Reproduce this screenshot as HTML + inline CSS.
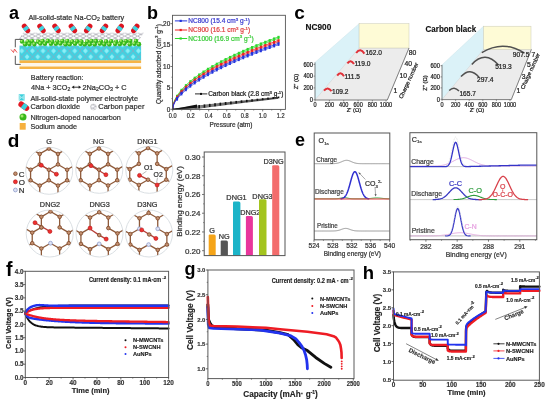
<!DOCTYPE html>
<html><head><meta charset="utf-8"><style>
html,body{margin:0;padding:0;background:#fff;width:550px;height:401px;overflow:hidden}
svg{display:block;filter:blur(0.35px)}
text{font-family:"Liberation Sans", sans-serif}
</style></head><body>
<svg width="550" height="401" viewBox="0 0 550 401">
<rect width="550" height="401" fill="#fff"/>
<text x="9.00" y="19.20" font-size="18" fill="#000" font-weight="bold" >a</text>
<text x="147.00" y="19.40" font-size="18" fill="#000" font-weight="bold" >b</text>
<text x="294.30" y="19.20" font-size="19" fill="#000" font-weight="bold" >c</text>
<text x="7.80" y="147.30" font-size="19" fill="#000" font-weight="bold" >d</text>
<text x="295.00" y="145.50" font-size="18" fill="#000" font-weight="bold" >e</text>
<text x="6.00" y="275.50" font-size="19.5" fill="#000" font-weight="bold" >f</text>
<text x="184.60" y="275.20" font-size="18" fill="#000" font-weight="bold" >g</text>
<text x="362.70" y="279.00" font-size="18.5" fill="#000" font-weight="bold" >h</text>
<text x="28.50" y="19.60" font-size="7.3" fill="#333" stroke="#333" stroke-width="0.22" >All-solid-state Na-CO<tspan font-size="5.2" dy="1.6">2</tspan><tspan dy="-1.6"> battery</tspan></text>
<rect x="19.50" y="60.20" width="121.60" height="2.80" fill="#f6b445" stroke="none" stroke-width="1" />
<rect x="19.50" y="63.00" width="121.60" height="3.50" fill="#fdf6e8" stroke="none" stroke-width="1" />
<rect x="19.50" y="66.50" width="121.60" height="2.50" fill="#f6b445" stroke="none" stroke-width="1" />
<defs><pattern id="dia" x="16.5" y="45.0" width="10.6" height="11.8" patternUnits="userSpaceOnUse"><rect width="10.6" height="11.8" fill="#3dd3e3"/><path d="M5.3,3.3 L7.7,5.9 L5.3,8.5 L2.9,5.9 Z" fill="#8ceef6"/><path d="M0,-2.6 L2.4,0 L0,2.6 L-2.4,0 Z M10.6,-2.6 L13,0 L10.6,2.6 L8.2,0 Z M0,9.2 L2.4,11.8 L0,14.4 L-2.4,11.8 Z M10.6,9.2 L13,11.8 L10.6,14.4 L8.2,11.8 Z" fill="#8ceef6"/><path d="M5.3,0 L10.6,5.9 L5.3,11.8 L0,5.9 Z" fill="none" stroke="#98a4b8" stroke-width="0.7"/></pattern></defs>
<rect x="19.50" y="45.60" width="121.60" height="14.60" fill="url(#dia)" stroke="none" stroke-width="1" />
<defs><pattern id="mesh" x="0" y="32.6" width="6.4" height="3.6" patternUnits="userSpaceOnUse"><rect width="6.4" height="3.6" fill="#ffffff"/><path d="M0,1.8 L3.2,0 L6.4,1.8 L3.2,3.6 Z" fill="none" stroke="#8c8c98" stroke-width="0.6"/></pattern></defs>
<polygon points="23.00,32.80 144.00,32.80 139.00,40.00 18.30,40.00" fill="url(#mesh)" stroke="none" stroke-width="0.5" />
<circle cx="22.12" cy="41.49" r="2.30" fill="#36b81e" stroke="none" stroke-width="0.5" />
<circle cx="21.42" cy="40.79" r="1.05" fill="#a8ee6a" stroke="none" stroke-width="0.5" />
<circle cx="27.68" cy="41.49" r="2.30" fill="#36b81e" stroke="none" stroke-width="0.5" />
<circle cx="26.98" cy="40.79" r="1.05" fill="#a8ee6a" stroke="none" stroke-width="0.5" />
<circle cx="32.10" cy="41.27" r="2.30" fill="#36b81e" stroke="none" stroke-width="0.5" />
<circle cx="31.40" cy="40.57" r="1.05" fill="#a8ee6a" stroke="none" stroke-width="0.5" />
<circle cx="38.08" cy="41.62" r="2.30" fill="#36b81e" stroke="none" stroke-width="0.5" />
<circle cx="37.38" cy="40.92" r="1.05" fill="#a8ee6a" stroke="none" stroke-width="0.5" />
<circle cx="42.59" cy="41.10" r="2.30" fill="#36b81e" stroke="none" stroke-width="0.5" />
<circle cx="41.89" cy="40.40" r="1.05" fill="#a8ee6a" stroke="none" stroke-width="0.5" />
<circle cx="47.73" cy="40.91" r="2.30" fill="#36b81e" stroke="none" stroke-width="0.5" />
<circle cx="47.03" cy="40.21" r="1.05" fill="#a8ee6a" stroke="none" stroke-width="0.5" />
<circle cx="52.21" cy="41.63" r="2.30" fill="#36b81e" stroke="none" stroke-width="0.5" />
<circle cx="51.51" cy="40.93" r="1.05" fill="#a8ee6a" stroke="none" stroke-width="0.5" />
<circle cx="57.30" cy="41.54" r="2.30" fill="#36b81e" stroke="none" stroke-width="0.5" />
<circle cx="56.60" cy="40.84" r="1.05" fill="#a8ee6a" stroke="none" stroke-width="0.5" />
<circle cx="62.47" cy="41.00" r="2.30" fill="#36b81e" stroke="none" stroke-width="0.5" />
<circle cx="61.77" cy="40.30" r="1.05" fill="#a8ee6a" stroke="none" stroke-width="0.5" />
<circle cx="67.32" cy="41.07" r="2.30" fill="#36b81e" stroke="none" stroke-width="0.5" />
<circle cx="66.62" cy="40.37" r="1.05" fill="#a8ee6a" stroke="none" stroke-width="0.5" />
<circle cx="72.21" cy="41.60" r="2.30" fill="#36b81e" stroke="none" stroke-width="0.5" />
<circle cx="71.51" cy="40.90" r="1.05" fill="#a8ee6a" stroke="none" stroke-width="0.5" />
<circle cx="77.02" cy="41.33" r="2.30" fill="#36b81e" stroke="none" stroke-width="0.5" />
<circle cx="76.32" cy="40.63" r="1.05" fill="#a8ee6a" stroke="none" stroke-width="0.5" />
<circle cx="81.40" cy="41.65" r="2.30" fill="#36b81e" stroke="none" stroke-width="0.5" />
<circle cx="80.70" cy="40.95" r="1.05" fill="#a8ee6a" stroke="none" stroke-width="0.5" />
<circle cx="87.32" cy="41.61" r="2.30" fill="#36b81e" stroke="none" stroke-width="0.5" />
<circle cx="86.62" cy="40.91" r="1.05" fill="#a8ee6a" stroke="none" stroke-width="0.5" />
<circle cx="91.55" cy="41.03" r="2.30" fill="#36b81e" stroke="none" stroke-width="0.5" />
<circle cx="90.85" cy="40.33" r="1.05" fill="#a8ee6a" stroke="none" stroke-width="0.5" />
<circle cx="95.97" cy="41.14" r="2.30" fill="#36b81e" stroke="none" stroke-width="0.5" />
<circle cx="95.27" cy="40.44" r="1.05" fill="#a8ee6a" stroke="none" stroke-width="0.5" />
<circle cx="100.99" cy="41.44" r="2.30" fill="#36b81e" stroke="none" stroke-width="0.5" />
<circle cx="100.29" cy="40.74" r="1.05" fill="#a8ee6a" stroke="none" stroke-width="0.5" />
<circle cx="106.17" cy="41.55" r="2.30" fill="#36b81e" stroke="none" stroke-width="0.5" />
<circle cx="105.47" cy="40.85" r="1.05" fill="#a8ee6a" stroke="none" stroke-width="0.5" />
<circle cx="111.16" cy="41.28" r="2.30" fill="#36b81e" stroke="none" stroke-width="0.5" />
<circle cx="110.46" cy="40.58" r="1.05" fill="#a8ee6a" stroke="none" stroke-width="0.5" />
<circle cx="116.07" cy="41.68" r="2.30" fill="#36b81e" stroke="none" stroke-width="0.5" />
<circle cx="115.37" cy="40.98" r="1.05" fill="#a8ee6a" stroke="none" stroke-width="0.5" />
<circle cx="121.38" cy="41.58" r="2.30" fill="#36b81e" stroke="none" stroke-width="0.5" />
<circle cx="120.68" cy="40.88" r="1.05" fill="#a8ee6a" stroke="none" stroke-width="0.5" />
<circle cx="126.03" cy="41.19" r="2.30" fill="#36b81e" stroke="none" stroke-width="0.5" />
<circle cx="125.33" cy="40.49" r="1.05" fill="#a8ee6a" stroke="none" stroke-width="0.5" />
<circle cx="130.31" cy="40.94" r="2.30" fill="#36b81e" stroke="none" stroke-width="0.5" />
<circle cx="129.61" cy="40.24" r="1.05" fill="#a8ee6a" stroke="none" stroke-width="0.5" />
<circle cx="136.00" cy="41.06" r="2.30" fill="#36b81e" stroke="none" stroke-width="0.5" />
<circle cx="135.30" cy="40.36" r="1.05" fill="#a8ee6a" stroke="none" stroke-width="0.5" />
<circle cx="25.13" cy="44.25" r="2.30" fill="#36b81e" stroke="none" stroke-width="0.5" />
<circle cx="24.43" cy="43.55" r="1.05" fill="#a8ee6a" stroke="none" stroke-width="0.5" />
<circle cx="29.43" cy="43.92" r="2.30" fill="#36b81e" stroke="none" stroke-width="0.5" />
<circle cx="28.73" cy="43.22" r="1.05" fill="#a8ee6a" stroke="none" stroke-width="0.5" />
<circle cx="34.40" cy="44.10" r="2.30" fill="#36b81e" stroke="none" stroke-width="0.5" />
<circle cx="33.70" cy="43.40" r="1.05" fill="#a8ee6a" stroke="none" stroke-width="0.5" />
<circle cx="40.39" cy="43.53" r="2.30" fill="#36b81e" stroke="none" stroke-width="0.5" />
<circle cx="39.69" cy="42.83" r="1.05" fill="#a8ee6a" stroke="none" stroke-width="0.5" />
<circle cx="44.98" cy="43.77" r="2.30" fill="#36b81e" stroke="none" stroke-width="0.5" />
<circle cx="44.28" cy="43.07" r="1.05" fill="#a8ee6a" stroke="none" stroke-width="0.5" />
<circle cx="50.90" cy="43.77" r="2.30" fill="#36b81e" stroke="none" stroke-width="0.5" />
<circle cx="50.20" cy="43.07" r="1.05" fill="#a8ee6a" stroke="none" stroke-width="0.5" />
<circle cx="55.86" cy="43.75" r="2.30" fill="#36b81e" stroke="none" stroke-width="0.5" />
<circle cx="55.16" cy="43.05" r="1.05" fill="#a8ee6a" stroke="none" stroke-width="0.5" />
<circle cx="60.35" cy="43.56" r="2.30" fill="#36b81e" stroke="none" stroke-width="0.5" />
<circle cx="59.65" cy="42.86" r="1.05" fill="#a8ee6a" stroke="none" stroke-width="0.5" />
<circle cx="65.58" cy="44.30" r="2.30" fill="#36b81e" stroke="none" stroke-width="0.5" />
<circle cx="64.88" cy="43.60" r="1.05" fill="#a8ee6a" stroke="none" stroke-width="0.5" />
<circle cx="69.67" cy="44.29" r="2.30" fill="#36b81e" stroke="none" stroke-width="0.5" />
<circle cx="68.97" cy="43.59" r="1.05" fill="#a8ee6a" stroke="none" stroke-width="0.5" />
<circle cx="75.05" cy="43.69" r="2.30" fill="#36b81e" stroke="none" stroke-width="0.5" />
<circle cx="74.35" cy="42.99" r="1.05" fill="#a8ee6a" stroke="none" stroke-width="0.5" />
<circle cx="80.55" cy="43.86" r="2.30" fill="#36b81e" stroke="none" stroke-width="0.5" />
<circle cx="79.85" cy="43.16" r="1.05" fill="#a8ee6a" stroke="none" stroke-width="0.5" />
<circle cx="84.72" cy="44.23" r="2.30" fill="#36b81e" stroke="none" stroke-width="0.5" />
<circle cx="84.02" cy="43.53" r="1.05" fill="#a8ee6a" stroke="none" stroke-width="0.5" />
<circle cx="89.78" cy="44.17" r="2.30" fill="#36b81e" stroke="none" stroke-width="0.5" />
<circle cx="89.08" cy="43.47" r="1.05" fill="#a8ee6a" stroke="none" stroke-width="0.5" />
<circle cx="94.72" cy="44.26" r="2.30" fill="#36b81e" stroke="none" stroke-width="0.5" />
<circle cx="94.02" cy="43.56" r="1.05" fill="#a8ee6a" stroke="none" stroke-width="0.5" />
<circle cx="99.88" cy="43.59" r="2.30" fill="#36b81e" stroke="none" stroke-width="0.5" />
<circle cx="99.18" cy="42.89" r="1.05" fill="#a8ee6a" stroke="none" stroke-width="0.5" />
<circle cx="104.19" cy="44.18" r="2.30" fill="#36b81e" stroke="none" stroke-width="0.5" />
<circle cx="103.49" cy="43.48" r="1.05" fill="#a8ee6a" stroke="none" stroke-width="0.5" />
<circle cx="109.33" cy="44.30" r="2.30" fill="#36b81e" stroke="none" stroke-width="0.5" />
<circle cx="108.63" cy="43.60" r="1.05" fill="#a8ee6a" stroke="none" stroke-width="0.5" />
<circle cx="115.14" cy="43.86" r="2.30" fill="#36b81e" stroke="none" stroke-width="0.5" />
<circle cx="114.44" cy="43.16" r="1.05" fill="#a8ee6a" stroke="none" stroke-width="0.5" />
<circle cx="119.88" cy="43.88" r="2.30" fill="#36b81e" stroke="none" stroke-width="0.5" />
<circle cx="119.18" cy="43.18" r="1.05" fill="#a8ee6a" stroke="none" stroke-width="0.5" />
<circle cx="124.39" cy="43.62" r="2.30" fill="#36b81e" stroke="none" stroke-width="0.5" />
<circle cx="123.69" cy="42.92" r="1.05" fill="#a8ee6a" stroke="none" stroke-width="0.5" />
<circle cx="129.87" cy="44.27" r="2.30" fill="#36b81e" stroke="none" stroke-width="0.5" />
<circle cx="129.17" cy="43.57" r="1.05" fill="#a8ee6a" stroke="none" stroke-width="0.5" />
<circle cx="134.49" cy="43.77" r="2.30" fill="#36b81e" stroke="none" stroke-width="0.5" />
<circle cx="133.79" cy="43.07" r="1.05" fill="#a8ee6a" stroke="none" stroke-width="0.5" />
<circle cx="138.93" cy="44.13" r="2.30" fill="#36b81e" stroke="none" stroke-width="0.5" />
<circle cx="138.23" cy="43.43" r="1.05" fill="#a8ee6a" stroke="none" stroke-width="0.5" />
<g transform="translate(26,28.4) rotate(53)">
<rect x="-5.3" y="-2.6" width="10.6" height="5.2" rx="2.6" fill="#dc1520"/>
<rect x="-1.8" y="-2.6" width="3.6" height="5.2" fill="#3fd4e2"/>
</g>
<g transform="translate(41.5,28.4) rotate(53)">
<rect x="-5.3" y="-2.6" width="10.6" height="5.2" rx="2.6" fill="#dc1520"/>
<rect x="-1.8" y="-2.6" width="3.6" height="5.2" fill="#3fd4e2"/>
</g>
<g transform="translate(56.5,28.4) rotate(53)">
<rect x="-5.3" y="-2.6" width="10.6" height="5.2" rx="2.6" fill="#dc1520"/>
<rect x="-1.8" y="-2.6" width="3.6" height="5.2" fill="#3fd4e2"/>
</g>
<g transform="translate(72.9,28.4) rotate(53)">
<rect x="-5.3" y="-2.6" width="10.6" height="5.2" rx="2.6" fill="#dc1520"/>
<rect x="-1.8" y="-2.6" width="3.6" height="5.2" fill="#3fd4e2"/>
</g>
<g transform="translate(88.2,28.4) rotate(-53)">
<rect x="-5.3" y="-2.6" width="10.6" height="5.2" rx="2.6" fill="#dc1520"/>
<rect x="-1.8" y="-2.6" width="3.6" height="5.2" fill="#3fd4e2"/>
</g>
<g transform="translate(104,28.4) rotate(-53)">
<rect x="-5.3" y="-2.6" width="10.6" height="5.2" rx="2.6" fill="#dc1520"/>
<rect x="-1.8" y="-2.6" width="3.6" height="5.2" fill="#3fd4e2"/>
</g>
<g transform="translate(119.7,28.4) rotate(-53)">
<rect x="-5.3" y="-2.6" width="10.6" height="5.2" rx="2.6" fill="#dc1520"/>
<rect x="-1.8" y="-2.6" width="3.6" height="5.2" fill="#3fd4e2"/>
</g>
<g transform="translate(135.3,28.4) rotate(-53)">
<rect x="-5.3" y="-2.6" width="10.6" height="5.2" rx="2.6" fill="#dc1520"/>
<rect x="-1.8" y="-2.6" width="3.6" height="5.2" fill="#3fd4e2"/>
</g>
<polyline points="22.40,39.40 15.30,39.40 15.30,47.30" fill="none" stroke="#444" stroke-width="0.9" />
<polyline points="15.30,55.80 15.30,64.40 20.70,64.40" fill="none" stroke="#444" stroke-width="0.9" />
<polyline points="11.00,49.50 13.50,52.50 14.50,49.00 17.00,52.50" fill="none" stroke="#e64a4a" stroke-width="0.9" />
<text x="30.80" y="80.20" font-size="7.3" fill="#333" textLength="52.8" lengthAdjust="spacingAndGlyphs" stroke="#333" stroke-width="0.22" >Battery reaction:</text>
<text x="31.00" y="89.60" font-size="7.3" fill="#333" textLength="39.4" lengthAdjust="spacingAndGlyphs" stroke="#333" stroke-width="0.22" >4Na + 3CO<tspan font-size="5.2" dy="1.6">2</tspan></text>
<line x1="73.00" y1="87.20" x2="79.80" y2="87.20" stroke="#222" stroke-width="0.9" />
<polygon points="71.60,87.20 74.20,85.60 74.20,88.80" fill="#222" stroke="none" stroke-width="0.5" />
<polygon points="81.20,87.20 78.60,85.60 78.60,88.80" fill="#222" stroke="none" stroke-width="0.5" />
<text x="82.40" y="89.60" font-size="7.3" fill="#333" textLength="44.2" lengthAdjust="spacingAndGlyphs" stroke="#333" stroke-width="0.22" >2Na<tspan font-size="5.2" dy="1.6">2</tspan><tspan dy="-1.6">CO</tspan><tspan font-size="5.2" dy="1.6">3</tspan><tspan dy="-1.6"> + C</tspan></text>
<polygon points="18.60,94.30 24.90,94.30 21.75,97.45" fill="#3ed0dc" stroke="none" stroke-width="0.5" />
<polygon points="18.60,100.60 24.90,100.60 21.75,97.45" fill="#3ed0dc" stroke="none" stroke-width="0.5" />
<polygon points="18.60,94.30 21.75,97.45 18.60,100.60" fill="#8fe4ea" stroke="none" stroke-width="0.5" />
<polygon points="24.90,94.30 21.75,97.45 24.90,100.60" fill="#8fe4ea" stroke="none" stroke-width="0.5" />
<text x="30.40" y="100.60" font-size="7.3" fill="#333" textLength="107.6" lengthAdjust="spacingAndGlyphs" stroke="#333" stroke-width="0.22" >All-solid-state polymer electrolyte</text>
<g transform="translate(23.8,106.2) rotate(36)"><rect x="-6.0" y="-2.9" width="12.0" height="5.8" rx="2.9" fill="#e21b25"/><rect x="-1.6" y="-2.9" width="4.6" height="5.8" fill="#3ad2df"/></g>
<text x="30.40" y="109.40" font-size="7.3" fill="#333" textLength="49.6" lengthAdjust="spacingAndGlyphs" stroke="#333" stroke-width="0.22" >Carbon dioxide</text>
<circle cx="93.40" cy="107.00" r="3.00" fill="url(#mesh)" stroke="#b8b8b8" stroke-width="0.4" />
<text x="98.20" y="109.40" font-size="7.3" fill="#333" textLength="46.3" lengthAdjust="spacingAndGlyphs" stroke="#333" stroke-width="0.22" >Carbon paper</text>
<circle cx="23.00" cy="117.00" r="3.50" fill="#3ab81a" stroke="none" stroke-width="0.5" />
<circle cx="22.00" cy="116.00" r="1.50" fill="#a0e66a" stroke="none" stroke-width="0.5" />
<text x="30.40" y="119.60" font-size="7.3" fill="#333" textLength="90.5" lengthAdjust="spacingAndGlyphs" stroke="#333" stroke-width="0.22" >Nitrogen-doped nanocarbon</text>
<rect x="19.70" y="123.00" width="6.00" height="6.70" fill="#f6b03e" stroke="none" stroke-width="1" />
<text x="30.40" y="129.00" font-size="7.3" fill="#333" textLength="46.6" lengthAdjust="spacingAndGlyphs" stroke="#333" stroke-width="0.22" >Sodium anode</text>
<polyline points="172.70,109.30 173.15,105.29 173.60,103.52 174.05,102.13 174.50,100.95 174.95,99.90 175.40,98.95 175.85,98.07 176.30,97.24 176.75,96.46 177.20,95.73 177.65,95.02 178.10,94.35 178.55,93.70 179.00,93.08 179.45,92.47 179.90,91.89 180.35,91.32 180.80,90.77 181.25,90.23 181.70,89.70 182.15,89.19 182.60,88.69 183.05,88.20 183.50,87.71 183.95,87.24 184.40,86.78 184.85,86.32 185.30,85.88 185.75,85.44 186.20,85.00 186.65,84.58 187.10,84.16 187.55,83.74 188.00,83.34 188.45,82.94 188.90,82.54 189.35,82.15 189.80,81.76 190.25,81.38 190.70,81.00 191.15,80.63 191.60,80.26 192.05,79.90 192.50,79.54 192.95,79.18 193.40,78.83 193.85,78.48 194.30,78.13 194.75,77.79 195.20,77.45 195.65,77.11 196.10,76.78 196.55,76.45 197.00,76.12 197.45,75.80 197.90,75.48 198.35,75.16 198.80,74.84 199.25,74.53 199.70,74.22 200.15,73.91 200.60,73.60 201.05,73.30 201.50,73.00 201.95,72.70 202.40,72.40 202.85,72.11 203.30,71.81 203.75,71.52 204.20,71.23 204.65,70.94 205.10,70.66 205.55,70.38 206.00,70.09 206.45,69.81 206.90,69.54 207.35,69.26 207.80,68.98 208.25,68.71 208.70,68.44 209.15,68.17 209.60,67.90 210.05,67.63 210.50,67.37 210.95,67.11 211.40,66.84 211.85,66.58 212.30,66.32 212.75,66.06 213.20,65.81 213.65,65.55 214.10,65.30 214.55,65.05 215.00,64.79 215.45,64.54 215.90,64.29 216.35,64.05 216.80,63.80 217.25,63.55 217.70,63.31 218.15,63.07 218.60,62.82 219.05,62.58 219.50,62.34 219.95,62.11 220.40,61.87 220.85,61.63 221.30,61.40 221.75,61.16 222.20,60.93 222.65,60.69 223.10,60.46 223.55,60.23 224.00,60.00 224.45,59.77 224.90,59.55 225.35,59.32 225.80,59.09 226.25,58.87 226.70,58.64 227.15,58.42 227.60,58.20 228.05,57.98 228.50,57.76 228.95,57.54 229.40,57.32 229.85,57.10 230.30,56.88 230.75,56.66 231.20,56.45 231.65,56.23 232.10,56.02 232.55,55.81 233.00,55.59 233.45,55.38 233.90,55.17 234.35,54.96 234.80,54.75 235.25,54.54 235.70,54.33 236.15,54.12 236.60,53.92 237.05,53.71 237.50,53.50 237.95,53.30 238.40,53.10 238.85,52.89 239.30,52.69 239.75,52.49 240.20,52.28 240.65,52.08 241.10,51.88 241.55,51.68 242.00,51.48 242.45,51.28 242.90,51.09 243.35,50.89 243.80,50.69 244.25,50.50 244.70,50.30 245.15,50.11 245.60,49.91 246.05,49.72 246.50,49.52 246.95,49.33 247.40,49.14 247.85,48.95 248.30,48.75 248.75,48.56 249.20,48.37 249.65,48.18 250.10,48.00 250.55,47.81 251.00,47.62 251.45,47.43 251.90,47.24 252.35,47.06 252.80,46.87 253.25,46.69 253.70,46.50 254.15,46.32 254.60,46.13 255.05,45.95 255.50,45.76 255.95,45.58 256.40,45.40 256.85,45.22 257.30,45.04 257.75,44.85 258.20,44.67 258.65,44.49 259.10,44.31 259.55,44.14 260.00,43.96 260.45,43.78 260.90,43.60 261.35,43.42 261.80,43.25 262.25,43.07 262.70,42.89 263.15,42.72 263.60,42.54 264.05,42.37 264.50,42.19 264.95,42.02 265.40,41.85 265.85,41.67 266.30,41.50 266.75,41.33 267.20,41.15 267.65,40.98 268.10,40.81 268.55,40.64 269.00,40.47 269.45,40.30 269.90,40.13 270.35,39.96 270.80,39.79 271.25,39.62 271.70,39.45 272.15,39.28 272.60,39.12 273.05,38.95 273.50,38.78 273.95,38.62 274.40,38.45 274.85,38.28 275.30,38.12 275.75,37.95 276.20,37.79 276.65,37.62 277.10,37.46 277.55,37.29 278.00,37.13 278.45,36.97" fill="none" stroke="#2bd82b" stroke-width="1.0" />
<polyline points="172.70,109.30 173.15,105.36 173.60,103.66 174.05,102.34 174.50,101.23 174.95,100.25 175.40,99.37 175.85,98.56 176.30,97.80 176.75,97.09 177.20,96.43 177.65,95.79 178.10,95.19 178.55,94.61 179.00,94.06 179.45,93.52 179.90,93.01 180.35,92.51 180.80,92.03 181.25,91.56 181.70,91.10 182.15,90.59 182.60,90.09 183.05,89.60 183.50,89.11 183.95,88.64 184.40,88.18 184.85,87.72 185.30,87.28 185.75,86.84 186.20,86.40 186.65,85.98 187.10,85.56 187.55,85.14 188.00,84.74 188.45,84.34 188.90,83.94 189.35,83.55 189.80,83.16 190.25,82.78 190.70,82.40 191.15,82.03 191.60,81.66 192.05,81.30 192.50,80.94 192.95,80.58 193.40,80.23 193.85,79.88 194.30,79.53 194.75,79.19 195.20,78.85 195.65,78.51 196.10,78.18 196.55,77.85 197.00,77.52 197.45,77.20 197.90,76.88 198.35,76.56 198.80,76.24 199.25,75.93 199.70,75.62 200.15,75.31 200.60,75.00 201.05,74.70 201.50,74.40 201.95,74.10 202.40,73.80 202.85,73.51 203.30,73.21 203.75,72.92 204.20,72.63 204.65,72.34 205.10,72.06 205.55,71.78 206.00,71.49 206.45,71.21 206.90,70.94 207.35,70.66 207.80,70.38 208.25,70.11 208.70,69.84 209.15,69.57 209.60,69.30 210.05,69.03 210.50,68.77 210.95,68.51 211.40,68.24 211.85,67.98 212.30,67.72 212.75,67.46 213.20,67.21 213.65,66.95 214.10,66.70 214.55,66.45 215.00,66.19 215.45,65.94 215.90,65.69 216.35,65.45 216.80,65.20 217.25,64.95 217.70,64.71 218.15,64.47 218.60,64.22 219.05,63.98 219.50,63.74 219.95,63.51 220.40,63.27 220.85,63.03 221.30,62.80 221.75,62.56 222.20,62.33 222.65,62.09 223.10,61.86 223.55,61.63 224.00,61.40 224.45,61.17 224.90,60.95 225.35,60.72 225.80,60.49 226.25,60.27 226.70,60.04 227.15,59.82 227.60,59.60 228.05,59.38 228.50,59.16 228.95,58.94 229.40,58.72 229.85,58.50 230.30,58.28 230.75,58.06 231.20,57.85 231.65,57.63 232.10,57.42 232.55,57.21 233.00,56.99 233.45,56.78 233.90,56.57 234.35,56.36 234.80,56.15 235.25,55.94 235.70,55.73 236.15,55.52 236.60,55.32 237.05,55.11 237.50,54.90 237.95,54.70 238.40,54.50 238.85,54.29 239.30,54.09 239.75,53.89 240.20,53.68 240.65,53.48 241.10,53.28 241.55,53.08 242.00,52.88 242.45,52.68 242.90,52.49 243.35,52.29 243.80,52.09 244.25,51.90 244.70,51.70 245.15,51.51 245.60,51.31 246.05,51.12 246.50,50.92 246.95,50.73 247.40,50.54 247.85,50.35 248.30,50.15 248.75,49.96 249.20,49.77 249.65,49.58 250.10,49.40 250.55,49.21 251.00,49.02 251.45,48.83 251.90,48.64 252.35,48.46 252.80,48.27 253.25,48.09 253.70,47.90 254.15,47.72 254.60,47.53 255.05,47.35 255.50,47.16 255.95,46.98 256.40,46.80 256.85,46.62 257.30,46.44 257.75,46.25 258.20,46.07 258.65,45.89 259.10,45.71 259.55,45.54 260.00,45.36 260.45,45.18 260.90,45.00 261.35,44.82 261.80,44.65 262.25,44.47 262.70,44.29 263.15,44.12 263.60,43.94 264.05,43.77 264.50,43.59 264.95,43.42 265.40,43.25 265.85,43.07 266.30,42.90 266.75,42.73 267.20,42.55 267.65,42.38 268.10,42.21 268.55,42.04 269.00,41.87 269.45,41.70 269.90,41.53 270.35,41.36 270.80,41.19 271.25,41.02 271.70,40.85 272.15,40.68 272.60,40.52 273.05,40.35 273.50,40.18 273.95,40.02 274.40,39.85 274.85,39.68 275.30,39.52 275.75,39.35 276.20,39.19 276.65,39.02 277.10,38.86 277.55,38.69 278.00,38.53 278.45,38.37" fill="none" stroke="#2bd82b" stroke-width="0.8" />
<rect x="176.01" y="94.77" width="2.20" height="2.20" fill="#2bd82b" stroke="none" stroke-width="1" />
<rect x="176.21" y="96.57" width="1.80" height="1.80" fill="#2bd82b" stroke="none" stroke-width="1" />
<rect x="180.42" y="88.81" width="2.20" height="2.20" fill="#2bd82b" stroke="none" stroke-width="1" />
<rect x="180.62" y="90.61" width="1.80" height="1.80" fill="#2bd82b" stroke="none" stroke-width="1" />
<rect x="184.83" y="84.16" width="2.20" height="2.20" fill="#2bd82b" stroke="none" stroke-width="1" />
<rect x="185.03" y="85.96" width="1.80" height="1.80" fill="#2bd82b" stroke="none" stroke-width="1" />
<rect x="189.24" y="80.20" width="2.20" height="2.20" fill="#2bd82b" stroke="none" stroke-width="1" />
<rect x="189.44" y="82.00" width="1.80" height="1.80" fill="#2bd82b" stroke="none" stroke-width="1" />
<rect x="193.65" y="76.69" width="2.20" height="2.20" fill="#2bd82b" stroke="none" stroke-width="1" />
<rect x="193.85" y="78.49" width="1.80" height="1.80" fill="#2bd82b" stroke="none" stroke-width="1" />
<rect x="198.06" y="73.49" width="2.20" height="2.20" fill="#2bd82b" stroke="none" stroke-width="1" />
<rect x="198.26" y="75.29" width="1.80" height="1.80" fill="#2bd82b" stroke="none" stroke-width="1" />
<rect x="202.47" y="70.54" width="2.20" height="2.20" fill="#2bd82b" stroke="none" stroke-width="1" />
<rect x="202.67" y="72.34" width="1.80" height="1.80" fill="#2bd82b" stroke="none" stroke-width="1" />
<rect x="206.88" y="67.77" width="2.20" height="2.20" fill="#2bd82b" stroke="none" stroke-width="1" />
<rect x="207.08" y="69.57" width="1.80" height="1.80" fill="#2bd82b" stroke="none" stroke-width="1" />
<rect x="211.29" y="65.17" width="2.20" height="2.20" fill="#2bd82b" stroke="none" stroke-width="1" />
<rect x="211.49" y="66.97" width="1.80" height="1.80" fill="#2bd82b" stroke="none" stroke-width="1" />
<rect x="215.70" y="62.70" width="2.20" height="2.20" fill="#2bd82b" stroke="none" stroke-width="1" />
<rect x="215.90" y="64.50" width="1.80" height="1.80" fill="#2bd82b" stroke="none" stroke-width="1" />
<rect x="220.11" y="60.34" width="2.20" height="2.20" fill="#2bd82b" stroke="none" stroke-width="1" />
<rect x="220.31" y="62.14" width="1.80" height="1.80" fill="#2bd82b" stroke="none" stroke-width="1" />
<rect x="224.52" y="58.08" width="2.20" height="2.20" fill="#2bd82b" stroke="none" stroke-width="1" />
<rect x="224.72" y="59.88" width="1.80" height="1.80" fill="#2bd82b" stroke="none" stroke-width="1" />
<rect x="228.93" y="55.91" width="2.20" height="2.20" fill="#2bd82b" stroke="none" stroke-width="1" />
<rect x="229.13" y="57.71" width="1.80" height="1.80" fill="#2bd82b" stroke="none" stroke-width="1" />
<rect x="233.34" y="53.82" width="2.20" height="2.20" fill="#2bd82b" stroke="none" stroke-width="1" />
<rect x="233.54" y="55.62" width="1.80" height="1.80" fill="#2bd82b" stroke="none" stroke-width="1" />
<rect x="237.75" y="51.79" width="2.20" height="2.20" fill="#2bd82b" stroke="none" stroke-width="1" />
<rect x="237.95" y="53.59" width="1.80" height="1.80" fill="#2bd82b" stroke="none" stroke-width="1" />
<rect x="242.16" y="49.83" width="2.20" height="2.20" fill="#2bd82b" stroke="none" stroke-width="1" />
<rect x="242.36" y="51.63" width="1.80" height="1.80" fill="#2bd82b" stroke="none" stroke-width="1" />
<rect x="246.57" y="47.92" width="2.20" height="2.20" fill="#2bd82b" stroke="none" stroke-width="1" />
<rect x="246.77" y="49.72" width="1.80" height="1.80" fill="#2bd82b" stroke="none" stroke-width="1" />
<rect x="250.98" y="46.07" width="2.20" height="2.20" fill="#2bd82b" stroke="none" stroke-width="1" />
<rect x="251.18" y="47.87" width="1.80" height="1.80" fill="#2bd82b" stroke="none" stroke-width="1" />
<rect x="255.39" y="44.26" width="2.20" height="2.20" fill="#2bd82b" stroke="none" stroke-width="1" />
<rect x="255.59" y="46.06" width="1.80" height="1.80" fill="#2bd82b" stroke="none" stroke-width="1" />
<rect x="259.80" y="42.50" width="2.20" height="2.20" fill="#2bd82b" stroke="none" stroke-width="1" />
<rect x="260.00" y="44.30" width="1.80" height="1.80" fill="#2bd82b" stroke="none" stroke-width="1" />
<rect x="264.21" y="40.78" width="2.20" height="2.20" fill="#2bd82b" stroke="none" stroke-width="1" />
<rect x="264.41" y="42.58" width="1.80" height="1.80" fill="#2bd82b" stroke="none" stroke-width="1" />
<rect x="268.62" y="39.10" width="2.20" height="2.20" fill="#2bd82b" stroke="none" stroke-width="1" />
<rect x="268.82" y="40.90" width="1.80" height="1.80" fill="#2bd82b" stroke="none" stroke-width="1" />
<rect x="273.03" y="37.45" width="2.20" height="2.20" fill="#2bd82b" stroke="none" stroke-width="1" />
<rect x="273.23" y="39.25" width="1.80" height="1.80" fill="#2bd82b" stroke="none" stroke-width="1" />
<rect x="277.44" y="35.84" width="2.20" height="2.20" fill="#2bd82b" stroke="none" stroke-width="1" />
<rect x="277.64" y="37.64" width="1.80" height="1.80" fill="#2bd82b" stroke="none" stroke-width="1" />
<polyline points="172.70,109.30 173.15,105.69 173.60,104.05 174.05,102.76 174.50,101.66 174.95,100.68 175.40,99.79 175.85,98.97 176.30,98.19 176.75,97.46 177.20,96.77 177.65,96.11 178.10,95.48 178.55,94.86 179.00,94.28 179.45,93.71 179.90,93.15 180.35,92.61 180.80,92.09 181.25,91.58 181.70,91.08 182.15,90.60 182.60,90.12 183.05,89.66 183.50,89.20 183.95,88.75 184.40,88.31 184.85,87.88 185.30,87.45 185.75,87.04 186.20,86.63 186.65,86.22 187.10,85.82 187.55,85.43 188.00,85.04 188.45,84.66 188.90,84.28 189.35,83.91 189.80,83.54 190.25,83.17 190.70,82.81 191.15,82.46 191.60,82.11 192.05,81.76 192.50,81.42 192.95,81.08 193.40,80.74 193.85,80.40 194.30,80.07 194.75,79.75 195.20,79.42 195.65,79.10 196.10,78.78 196.55,78.47 197.00,78.16 197.45,77.85 197.90,77.54 198.35,77.23 198.80,76.93 199.25,76.63 199.70,76.33 200.15,76.04 200.60,75.74 201.05,75.45 201.50,75.16 201.95,74.88 202.40,74.59 202.85,74.31 203.30,74.03 203.75,73.75 204.20,73.47 204.65,73.19 205.10,72.92 205.55,72.65 206.00,72.38 206.45,72.11 206.90,71.84 207.35,71.58 207.80,71.31 208.25,71.05 208.70,70.79 209.15,70.53 209.60,70.27 210.05,70.02 210.50,69.76 210.95,69.51 211.40,69.26 211.85,69.01 212.30,68.76 212.75,68.51 213.20,68.26 213.65,68.02 214.10,67.77 214.55,67.53 215.00,67.29 215.45,67.05 215.90,66.81 216.35,66.57 216.80,66.33 217.25,66.09 217.70,65.86 218.15,65.63 218.60,65.39 219.05,65.16 219.50,64.93 219.95,64.70 220.40,64.47 220.85,64.24 221.30,64.02 221.75,63.79 222.20,63.57 222.65,63.34 223.10,63.12 223.55,62.90 224.00,62.67 224.45,62.45 224.90,62.23 225.35,62.02 225.80,61.80 226.25,61.58 226.70,61.37 227.15,61.15 227.60,60.94 228.05,60.72 228.50,60.51 228.95,60.30 229.40,60.09 229.85,59.87 230.30,59.67 230.75,59.46 231.20,59.25 231.65,59.04 232.10,58.83 232.55,58.63 233.00,58.42 233.45,58.22 233.90,58.01 234.35,57.81 234.80,57.61 235.25,57.41 235.70,57.20 236.15,57.00 236.60,56.80 237.05,56.60 237.50,56.41 237.95,56.21 238.40,56.01 238.85,55.81 239.30,55.62 239.75,55.42 240.20,55.23 240.65,55.03 241.10,54.84 241.55,54.65 242.00,54.45 242.45,54.26 242.90,54.07 243.35,53.88 243.80,53.69 244.25,53.50 244.70,53.31 245.15,53.12 245.60,52.93 246.05,52.74 246.50,52.56 246.95,52.37 247.40,52.18 247.85,52.00 248.30,51.81 248.75,51.63 249.20,51.45 249.65,51.26 250.10,51.08 250.55,50.90 251.00,50.71 251.45,50.53 251.90,50.35 252.35,50.17 252.80,49.99 253.25,49.81 253.70,49.63 254.15,49.45 254.60,49.28 255.05,49.10 255.50,48.92 255.95,48.74 256.40,48.57 256.85,48.39 257.30,48.21 257.75,48.04 258.20,47.86 258.65,47.69 259.10,47.52 259.55,47.34 260.00,47.17 260.45,47.00 260.90,46.82 261.35,46.65 261.80,46.48 262.25,46.31 262.70,46.14 263.15,45.97 263.60,45.80 264.05,45.63 264.50,45.46 264.95,45.29 265.40,45.12 265.85,44.95 266.30,44.79 266.75,44.62 267.20,44.45 267.65,44.29 268.10,44.12 268.55,43.95 269.00,43.79 269.45,43.62 269.90,43.46 270.35,43.29 270.80,43.13 271.25,42.97 271.70,42.80 272.15,42.64 272.60,42.48 273.05,42.31 273.50,42.15 273.95,41.99 274.40,41.83 274.85,41.67 275.30,41.51 275.75,41.35 276.20,41.19 276.65,41.03 277.10,40.87 277.55,40.71 278.00,40.55 278.45,40.39" fill="none" stroke="#ee2222" stroke-width="1.0" />
<polyline points="172.70,109.30 173.15,105.76 173.60,104.19 174.05,102.97 174.50,101.94 174.95,101.03 175.40,100.21 175.85,99.46 176.30,98.75 176.75,98.09 177.20,97.47 177.65,96.88 178.10,96.32 178.55,95.77 179.00,95.26 179.45,94.76 179.90,94.27 180.35,93.80 180.80,93.35 181.25,92.91 181.70,92.48 182.15,92.00 182.60,91.52 183.05,91.06 183.50,90.60 183.95,90.15 184.40,89.71 184.85,89.28 185.30,88.85 185.75,88.44 186.20,88.03 186.65,87.62 187.10,87.22 187.55,86.83 188.00,86.44 188.45,86.06 188.90,85.68 189.35,85.31 189.80,84.94 190.25,84.57 190.70,84.21 191.15,83.86 191.60,83.51 192.05,83.16 192.50,82.82 192.95,82.48 193.40,82.14 193.85,81.80 194.30,81.47 194.75,81.15 195.20,80.82 195.65,80.50 196.10,80.18 196.55,79.87 197.00,79.56 197.45,79.25 197.90,78.94 198.35,78.63 198.80,78.33 199.25,78.03 199.70,77.73 200.15,77.44 200.60,77.14 201.05,76.85 201.50,76.56 201.95,76.28 202.40,75.99 202.85,75.71 203.30,75.43 203.75,75.15 204.20,74.87 204.65,74.59 205.10,74.32 205.55,74.05 206.00,73.78 206.45,73.51 206.90,73.24 207.35,72.98 207.80,72.71 208.25,72.45 208.70,72.19 209.15,71.93 209.60,71.67 210.05,71.42 210.50,71.16 210.95,70.91 211.40,70.66 211.85,70.41 212.30,70.16 212.75,69.91 213.20,69.66 213.65,69.42 214.10,69.17 214.55,68.93 215.00,68.69 215.45,68.45 215.90,68.21 216.35,67.97 216.80,67.73 217.25,67.49 217.70,67.26 218.15,67.03 218.60,66.79 219.05,66.56 219.50,66.33 219.95,66.10 220.40,65.87 220.85,65.64 221.30,65.42 221.75,65.19 222.20,64.97 222.65,64.74 223.10,64.52 223.55,64.30 224.00,64.07 224.45,63.85 224.90,63.63 225.35,63.42 225.80,63.20 226.25,62.98 226.70,62.77 227.15,62.55 227.60,62.34 228.05,62.12 228.50,61.91 228.95,61.70 229.40,61.49 229.85,61.27 230.30,61.07 230.75,60.86 231.20,60.65 231.65,60.44 232.10,60.23 232.55,60.03 233.00,59.82 233.45,59.62 233.90,59.41 234.35,59.21 234.80,59.01 235.25,58.81 235.70,58.60 236.15,58.40 236.60,58.20 237.05,58.00 237.50,57.81 237.95,57.61 238.40,57.41 238.85,57.21 239.30,57.02 239.75,56.82 240.20,56.63 240.65,56.43 241.10,56.24 241.55,56.05 242.00,55.85 242.45,55.66 242.90,55.47 243.35,55.28 243.80,55.09 244.25,54.90 244.70,54.71 245.15,54.52 245.60,54.33 246.05,54.14 246.50,53.96 246.95,53.77 247.40,53.58 247.85,53.40 248.30,53.21 248.75,53.03 249.20,52.85 249.65,52.66 250.10,52.48 250.55,52.30 251.00,52.11 251.45,51.93 251.90,51.75 252.35,51.57 252.80,51.39 253.25,51.21 253.70,51.03 254.15,50.85 254.60,50.68 255.05,50.50 255.50,50.32 255.95,50.14 256.40,49.97 256.85,49.79 257.30,49.61 257.75,49.44 258.20,49.26 258.65,49.09 259.10,48.92 259.55,48.74 260.00,48.57 260.45,48.40 260.90,48.22 261.35,48.05 261.80,47.88 262.25,47.71 262.70,47.54 263.15,47.37 263.60,47.20 264.05,47.03 264.50,46.86 264.95,46.69 265.40,46.52 265.85,46.35 266.30,46.19 266.75,46.02 267.20,45.85 267.65,45.69 268.10,45.52 268.55,45.35 269.00,45.19 269.45,45.02 269.90,44.86 270.35,44.69 270.80,44.53 271.25,44.37 271.70,44.20 272.15,44.04 272.60,43.88 273.05,43.71 273.50,43.55 273.95,43.39 274.40,43.23 274.85,43.07 275.30,42.91 275.75,42.75 276.20,42.59 276.65,42.43 277.10,42.27 277.55,42.11 278.00,41.95 278.45,41.79" fill="none" stroke="#ee2222" stroke-width="0.8" />
<rect x="176.01" y="95.81" width="2.20" height="2.20" fill="#ee2222" stroke="none" stroke-width="1" />
<rect x="176.21" y="97.61" width="1.80" height="1.80" fill="#ee2222" stroke="none" stroke-width="1" />
<rect x="180.42" y="90.18" width="2.20" height="2.20" fill="#ee2222" stroke="none" stroke-width="1" />
<rect x="180.62" y="91.98" width="1.80" height="1.80" fill="#ee2222" stroke="none" stroke-width="1" />
<rect x="184.83" y="85.77" width="2.20" height="2.20" fill="#ee2222" stroke="none" stroke-width="1" />
<rect x="185.03" y="87.57" width="1.80" height="1.80" fill="#ee2222" stroke="none" stroke-width="1" />
<rect x="189.24" y="82.00" width="2.20" height="2.20" fill="#ee2222" stroke="none" stroke-width="1" />
<rect x="189.44" y="83.80" width="1.80" height="1.80" fill="#ee2222" stroke="none" stroke-width="1" />
<rect x="193.65" y="78.65" width="2.20" height="2.20" fill="#ee2222" stroke="none" stroke-width="1" />
<rect x="193.85" y="80.45" width="1.80" height="1.80" fill="#ee2222" stroke="none" stroke-width="1" />
<rect x="198.06" y="75.59" width="2.20" height="2.20" fill="#ee2222" stroke="none" stroke-width="1" />
<rect x="198.26" y="77.39" width="1.80" height="1.80" fill="#ee2222" stroke="none" stroke-width="1" />
<rect x="202.47" y="72.76" width="2.20" height="2.20" fill="#ee2222" stroke="none" stroke-width="1" />
<rect x="202.67" y="74.56" width="1.80" height="1.80" fill="#ee2222" stroke="none" stroke-width="1" />
<rect x="206.88" y="70.11" width="2.20" height="2.20" fill="#ee2222" stroke="none" stroke-width="1" />
<rect x="207.08" y="71.91" width="1.80" height="1.80" fill="#ee2222" stroke="none" stroke-width="1" />
<rect x="211.29" y="67.61" width="2.20" height="2.20" fill="#ee2222" stroke="none" stroke-width="1" />
<rect x="211.49" y="69.41" width="1.80" height="1.80" fill="#ee2222" stroke="none" stroke-width="1" />
<rect x="215.70" y="65.23" width="2.20" height="2.20" fill="#ee2222" stroke="none" stroke-width="1" />
<rect x="215.90" y="67.03" width="1.80" height="1.80" fill="#ee2222" stroke="none" stroke-width="1" />
<rect x="220.11" y="62.96" width="2.20" height="2.20" fill="#ee2222" stroke="none" stroke-width="1" />
<rect x="220.31" y="64.76" width="1.80" height="1.80" fill="#ee2222" stroke="none" stroke-width="1" />
<rect x="224.52" y="60.79" width="2.20" height="2.20" fill="#ee2222" stroke="none" stroke-width="1" />
<rect x="224.72" y="62.59" width="1.80" height="1.80" fill="#ee2222" stroke="none" stroke-width="1" />
<rect x="228.93" y="58.69" width="2.20" height="2.20" fill="#ee2222" stroke="none" stroke-width="1" />
<rect x="229.13" y="60.49" width="1.80" height="1.80" fill="#ee2222" stroke="none" stroke-width="1" />
<rect x="233.34" y="56.67" width="2.20" height="2.20" fill="#ee2222" stroke="none" stroke-width="1" />
<rect x="233.54" y="58.47" width="1.80" height="1.80" fill="#ee2222" stroke="none" stroke-width="1" />
<rect x="237.75" y="54.71" width="2.20" height="2.20" fill="#ee2222" stroke="none" stroke-width="1" />
<rect x="237.95" y="56.51" width="1.80" height="1.80" fill="#ee2222" stroke="none" stroke-width="1" />
<rect x="242.16" y="52.82" width="2.20" height="2.20" fill="#ee2222" stroke="none" stroke-width="1" />
<rect x="242.36" y="54.62" width="1.80" height="1.80" fill="#ee2222" stroke="none" stroke-width="1" />
<rect x="246.57" y="50.97" width="2.20" height="2.20" fill="#ee2222" stroke="none" stroke-width="1" />
<rect x="246.77" y="52.77" width="1.80" height="1.80" fill="#ee2222" stroke="none" stroke-width="1" />
<rect x="250.98" y="49.18" width="2.20" height="2.20" fill="#ee2222" stroke="none" stroke-width="1" />
<rect x="251.18" y="50.98" width="1.80" height="1.80" fill="#ee2222" stroke="none" stroke-width="1" />
<rect x="255.39" y="47.43" width="2.20" height="2.20" fill="#ee2222" stroke="none" stroke-width="1" />
<rect x="255.59" y="49.23" width="1.80" height="1.80" fill="#ee2222" stroke="none" stroke-width="1" />
<rect x="259.80" y="45.72" width="2.20" height="2.20" fill="#ee2222" stroke="none" stroke-width="1" />
<rect x="260.00" y="47.52" width="1.80" height="1.80" fill="#ee2222" stroke="none" stroke-width="1" />
<rect x="264.21" y="44.06" width="2.20" height="2.20" fill="#ee2222" stroke="none" stroke-width="1" />
<rect x="264.41" y="45.86" width="1.80" height="1.80" fill="#ee2222" stroke="none" stroke-width="1" />
<rect x="268.62" y="42.42" width="2.20" height="2.20" fill="#ee2222" stroke="none" stroke-width="1" />
<rect x="268.82" y="44.22" width="1.80" height="1.80" fill="#ee2222" stroke="none" stroke-width="1" />
<rect x="273.03" y="40.83" width="2.20" height="2.20" fill="#ee2222" stroke="none" stroke-width="1" />
<rect x="273.23" y="42.63" width="1.80" height="1.80" fill="#ee2222" stroke="none" stroke-width="1" />
<rect x="277.44" y="39.26" width="2.20" height="2.20" fill="#ee2222" stroke="none" stroke-width="1" />
<rect x="277.64" y="41.06" width="1.80" height="1.80" fill="#ee2222" stroke="none" stroke-width="1" />
<polyline points="172.70,109.30 173.15,106.20 173.60,104.73 174.05,103.57 174.50,102.57 174.95,101.67 175.40,100.85 175.85,100.09 176.30,99.37 176.75,98.69 177.20,98.05 177.65,97.43 178.10,96.84 178.55,96.27 179.00,95.72 179.45,95.18 179.90,94.66 180.35,94.16 180.80,93.66 181.25,93.18 181.70,92.71 182.15,92.25 182.60,91.80 183.05,91.36 183.50,90.93 183.95,90.51 184.40,90.09 184.85,89.68 185.30,89.27 185.75,88.88 186.20,88.49 186.65,88.10 187.10,87.72 187.55,87.34 188.00,86.97 188.45,86.61 188.90,86.25 189.35,85.89 189.80,85.54 190.25,85.19 190.70,84.85 191.15,84.51 191.60,84.17 192.05,83.84 192.50,83.51 192.95,83.18 193.40,82.86 193.85,82.54 194.30,82.22 194.75,81.90 195.20,81.59 195.65,81.28 196.10,80.98 196.55,80.67 197.00,80.37 197.45,80.07 197.90,79.78 198.35,79.48 198.80,79.19 199.25,78.90 199.70,78.61 200.15,78.33 200.60,78.05 201.05,77.76 201.50,77.49 201.95,77.21 202.40,76.93 202.85,76.66 203.30,76.39 203.75,76.12 204.20,75.85 204.65,75.58 205.10,75.32 205.55,75.05 206.00,74.79 206.45,74.53 206.90,74.27 207.35,74.01 207.80,73.76 208.25,73.50 208.70,73.25 209.15,73.00 209.60,72.75 210.05,72.50 210.50,72.25 210.95,72.01 211.40,71.76 211.85,71.52 212.30,71.27 212.75,71.03 213.20,70.79 213.65,70.55 214.10,70.32 214.55,70.08 215.00,69.84 215.45,69.61 215.90,69.38 216.35,69.14 216.80,68.91 217.25,68.68 217.70,68.45 218.15,68.22 218.60,68.00 219.05,67.77 219.50,67.55 219.95,67.32 220.40,67.10 220.85,66.88 221.30,66.65 221.75,66.43 222.20,66.21 222.65,65.99 223.10,65.78 223.55,65.56 224.00,65.34 224.45,65.13 224.90,64.91 225.35,64.70 225.80,64.49 226.25,64.27 226.70,64.06 227.15,63.85 227.60,63.64 228.05,63.43 228.50,63.22 228.95,63.02 229.40,62.81 229.85,62.60 230.30,62.40 230.75,62.19 231.20,61.99 231.65,61.78 232.10,61.58 232.55,61.38 233.00,61.18 233.45,60.98 233.90,60.78 234.35,60.58 234.80,60.38 235.25,60.18 235.70,59.98 236.15,59.79 236.60,59.59 237.05,59.39 237.50,59.20 237.95,59.00 238.40,58.81 238.85,58.62 239.30,58.42 239.75,58.23 240.20,58.04 240.65,57.85 241.10,57.66 241.55,57.47 242.00,57.28 242.45,57.09 242.90,56.90 243.35,56.71 243.80,56.53 244.25,56.34 244.70,56.15 245.15,55.97 245.60,55.78 246.05,55.60 246.50,55.41 246.95,55.23 247.40,55.05 247.85,54.86 248.30,54.68 248.75,54.50 249.20,54.32 249.65,54.14 250.10,53.96 250.55,53.78 251.00,53.60 251.45,53.42 251.90,53.24 252.35,53.06 252.80,52.88 253.25,52.71 253.70,52.53 254.15,52.35 254.60,52.18 255.05,52.00 255.50,51.83 255.95,51.65 256.40,51.48 256.85,51.30 257.30,51.13 257.75,50.96 258.20,50.78 258.65,50.61 259.10,50.44 259.55,50.27 260.00,50.10 260.45,49.93 260.90,49.76 261.35,49.59 261.80,49.42 262.25,49.25 262.70,49.08 263.15,48.91 263.60,48.74 264.05,48.58 264.50,48.41 264.95,48.24 265.40,48.07 265.85,47.91 266.30,47.74 266.75,47.58 267.20,47.41 267.65,47.25 268.10,47.08 268.55,46.92 269.00,46.75 269.45,46.59 269.90,46.43 270.35,46.26 270.80,46.10 271.25,45.94 271.70,45.78 272.15,45.62 272.60,45.46 273.05,45.29 273.50,45.13 273.95,44.97 274.40,44.81 274.85,44.65 275.30,44.49 275.75,44.34 276.20,44.18 276.65,44.02 277.10,43.86 277.55,43.70 278.00,43.55 278.45,43.39" fill="none" stroke="#2233dd" stroke-width="1.0" />
<polyline points="172.70,109.30 173.15,106.27 173.60,104.87 174.05,103.78 174.50,102.85 174.95,102.02 175.40,101.27 175.85,100.58 176.30,99.93 176.75,99.32 177.20,98.75 177.65,98.20 178.10,97.68 178.55,97.18 179.00,96.70 179.45,96.23 179.90,95.78 180.35,95.35 180.80,94.92 181.25,94.51 181.70,94.11 182.15,93.65 182.60,93.20 183.05,92.76 183.50,92.33 183.95,91.91 184.40,91.49 184.85,91.08 185.30,90.67 185.75,90.28 186.20,89.89 186.65,89.50 187.10,89.12 187.55,88.74 188.00,88.37 188.45,88.01 188.90,87.65 189.35,87.29 189.80,86.94 190.25,86.59 190.70,86.25 191.15,85.91 191.60,85.57 192.05,85.24 192.50,84.91 192.95,84.58 193.40,84.26 193.85,83.94 194.30,83.62 194.75,83.30 195.20,82.99 195.65,82.68 196.10,82.38 196.55,82.07 197.00,81.77 197.45,81.47 197.90,81.18 198.35,80.88 198.80,80.59 199.25,80.30 199.70,80.01 200.15,79.73 200.60,79.45 201.05,79.16 201.50,78.89 201.95,78.61 202.40,78.33 202.85,78.06 203.30,77.79 203.75,77.52 204.20,77.25 204.65,76.98 205.10,76.72 205.55,76.45 206.00,76.19 206.45,75.93 206.90,75.67 207.35,75.41 207.80,75.16 208.25,74.90 208.70,74.65 209.15,74.40 209.60,74.15 210.05,73.90 210.50,73.65 210.95,73.41 211.40,73.16 211.85,72.92 212.30,72.67 212.75,72.43 213.20,72.19 213.65,71.95 214.10,71.72 214.55,71.48 215.00,71.24 215.45,71.01 215.90,70.78 216.35,70.54 216.80,70.31 217.25,70.08 217.70,69.85 218.15,69.62 218.60,69.40 219.05,69.17 219.50,68.95 219.95,68.72 220.40,68.50 220.85,68.28 221.30,68.05 221.75,67.83 222.20,67.61 222.65,67.39 223.10,67.18 223.55,66.96 224.00,66.74 224.45,66.53 224.90,66.31 225.35,66.10 225.80,65.89 226.25,65.67 226.70,65.46 227.15,65.25 227.60,65.04 228.05,64.83 228.50,64.62 228.95,64.42 229.40,64.21 229.85,64.00 230.30,63.80 230.75,63.59 231.20,63.39 231.65,63.18 232.10,62.98 232.55,62.78 233.00,62.58 233.45,62.38 233.90,62.18 234.35,61.98 234.80,61.78 235.25,61.58 235.70,61.38 236.15,61.19 236.60,60.99 237.05,60.79 237.50,60.60 237.95,60.40 238.40,60.21 238.85,60.02 239.30,59.82 239.75,59.63 240.20,59.44 240.65,59.25 241.10,59.06 241.55,58.87 242.00,58.68 242.45,58.49 242.90,58.30 243.35,58.11 243.80,57.93 244.25,57.74 244.70,57.55 245.15,57.37 245.60,57.18 246.05,57.00 246.50,56.81 246.95,56.63 247.40,56.45 247.85,56.26 248.30,56.08 248.75,55.90 249.20,55.72 249.65,55.54 250.10,55.36 250.55,55.18 251.00,55.00 251.45,54.82 251.90,54.64 252.35,54.46 252.80,54.28 253.25,54.11 253.70,53.93 254.15,53.75 254.60,53.58 255.05,53.40 255.50,53.23 255.95,53.05 256.40,52.88 256.85,52.70 257.30,52.53 257.75,52.36 258.20,52.18 258.65,52.01 259.10,51.84 259.55,51.67 260.00,51.50 260.45,51.33 260.90,51.16 261.35,50.99 261.80,50.82 262.25,50.65 262.70,50.48 263.15,50.31 263.60,50.14 264.05,49.98 264.50,49.81 264.95,49.64 265.40,49.47 265.85,49.31 266.30,49.14 266.75,48.98 267.20,48.81 267.65,48.65 268.10,48.48 268.55,48.32 269.00,48.15 269.45,47.99 269.90,47.83 270.35,47.66 270.80,47.50 271.25,47.34 271.70,47.18 272.15,47.02 272.60,46.86 273.05,46.69 273.50,46.53 273.95,46.37 274.40,46.21 274.85,46.05 275.30,45.89 275.75,45.74 276.20,45.58 276.65,45.42 277.10,45.26 277.55,45.10 278.00,44.95 278.45,44.79" fill="none" stroke="#2233dd" stroke-width="0.8" />
<rect x="176.01" y="97.08" width="2.20" height="2.20" fill="#2233dd" stroke="none" stroke-width="1" />
<rect x="176.21" y="98.88" width="1.80" height="1.80" fill="#2233dd" stroke="none" stroke-width="1" />
<rect x="180.42" y="91.80" width="2.20" height="2.20" fill="#2233dd" stroke="none" stroke-width="1" />
<rect x="180.62" y="93.60" width="1.80" height="1.80" fill="#2233dd" stroke="none" stroke-width="1" />
<rect x="184.83" y="87.62" width="2.20" height="2.20" fill="#2233dd" stroke="none" stroke-width="1" />
<rect x="185.03" y="89.42" width="1.80" height="1.80" fill="#2233dd" stroke="none" stroke-width="1" />
<rect x="189.24" y="84.02" width="2.20" height="2.20" fill="#2233dd" stroke="none" stroke-width="1" />
<rect x="189.44" y="85.82" width="1.80" height="1.80" fill="#2233dd" stroke="none" stroke-width="1" />
<rect x="193.65" y="80.80" width="2.20" height="2.20" fill="#2233dd" stroke="none" stroke-width="1" />
<rect x="193.85" y="82.60" width="1.80" height="1.80" fill="#2233dd" stroke="none" stroke-width="1" />
<rect x="198.06" y="77.86" width="2.20" height="2.20" fill="#2233dd" stroke="none" stroke-width="1" />
<rect x="198.26" y="79.66" width="1.80" height="1.80" fill="#2233dd" stroke="none" stroke-width="1" />
<rect x="202.47" y="75.12" width="2.20" height="2.20" fill="#2233dd" stroke="none" stroke-width="1" />
<rect x="202.67" y="76.92" width="1.80" height="1.80" fill="#2233dd" stroke="none" stroke-width="1" />
<rect x="206.88" y="72.56" width="2.20" height="2.20" fill="#2233dd" stroke="none" stroke-width="1" />
<rect x="207.08" y="74.36" width="1.80" height="1.80" fill="#2233dd" stroke="none" stroke-width="1" />
<rect x="211.29" y="70.13" width="2.20" height="2.20" fill="#2233dd" stroke="none" stroke-width="1" />
<rect x="211.49" y="71.93" width="1.80" height="1.80" fill="#2233dd" stroke="none" stroke-width="1" />
<rect x="215.70" y="67.81" width="2.20" height="2.20" fill="#2233dd" stroke="none" stroke-width="1" />
<rect x="215.90" y="69.61" width="1.80" height="1.80" fill="#2233dd" stroke="none" stroke-width="1" />
<rect x="220.11" y="65.60" width="2.20" height="2.20" fill="#2233dd" stroke="none" stroke-width="1" />
<rect x="220.31" y="67.40" width="1.80" height="1.80" fill="#2233dd" stroke="none" stroke-width="1" />
<rect x="224.52" y="63.47" width="2.20" height="2.20" fill="#2233dd" stroke="none" stroke-width="1" />
<rect x="224.72" y="65.27" width="1.80" height="1.80" fill="#2233dd" stroke="none" stroke-width="1" />
<rect x="228.93" y="61.42" width="2.20" height="2.20" fill="#2233dd" stroke="none" stroke-width="1" />
<rect x="229.13" y="63.22" width="1.80" height="1.80" fill="#2233dd" stroke="none" stroke-width="1" />
<rect x="233.34" y="59.44" width="2.20" height="2.20" fill="#2233dd" stroke="none" stroke-width="1" />
<rect x="233.54" y="61.24" width="1.80" height="1.80" fill="#2233dd" stroke="none" stroke-width="1" />
<rect x="237.75" y="57.52" width="2.20" height="2.20" fill="#2233dd" stroke="none" stroke-width="1" />
<rect x="237.95" y="59.32" width="1.80" height="1.80" fill="#2233dd" stroke="none" stroke-width="1" />
<rect x="242.16" y="55.65" width="2.20" height="2.20" fill="#2233dd" stroke="none" stroke-width="1" />
<rect x="242.36" y="57.45" width="1.80" height="1.80" fill="#2233dd" stroke="none" stroke-width="1" />
<rect x="246.57" y="53.84" width="2.20" height="2.20" fill="#2233dd" stroke="none" stroke-width="1" />
<rect x="246.77" y="55.64" width="1.80" height="1.80" fill="#2233dd" stroke="none" stroke-width="1" />
<rect x="250.98" y="52.07" width="2.20" height="2.20" fill="#2233dd" stroke="none" stroke-width="1" />
<rect x="251.18" y="53.87" width="1.80" height="1.80" fill="#2233dd" stroke="none" stroke-width="1" />
<rect x="255.39" y="50.34" width="2.20" height="2.20" fill="#2233dd" stroke="none" stroke-width="1" />
<rect x="255.59" y="52.14" width="1.80" height="1.80" fill="#2233dd" stroke="none" stroke-width="1" />
<rect x="259.80" y="48.66" width="2.20" height="2.20" fill="#2233dd" stroke="none" stroke-width="1" />
<rect x="260.00" y="50.46" width="1.80" height="1.80" fill="#2233dd" stroke="none" stroke-width="1" />
<rect x="264.21" y="47.01" width="2.20" height="2.20" fill="#2233dd" stroke="none" stroke-width="1" />
<rect x="264.41" y="48.81" width="1.80" height="1.80" fill="#2233dd" stroke="none" stroke-width="1" />
<rect x="268.62" y="45.39" width="2.20" height="2.20" fill="#2233dd" stroke="none" stroke-width="1" />
<rect x="268.82" y="47.19" width="1.80" height="1.80" fill="#2233dd" stroke="none" stroke-width="1" />
<rect x="273.03" y="43.81" width="2.20" height="2.20" fill="#2233dd" stroke="none" stroke-width="1" />
<rect x="273.23" y="45.61" width="1.80" height="1.80" fill="#2233dd" stroke="none" stroke-width="1" />
<rect x="277.44" y="42.26" width="2.20" height="2.20" fill="#2233dd" stroke="none" stroke-width="1" />
<rect x="277.64" y="44.06" width="1.80" height="1.80" fill="#2233dd" stroke="none" stroke-width="1" />
<polyline points="172.70,109.30 173.60,109.14 174.50,108.99 175.40,108.86 176.30,108.73 177.20,108.60 178.10,108.48 179.00,108.35 179.90,108.23 180.80,108.11 181.70,108.00 182.60,107.88 183.50,107.76 184.40,107.65 185.30,107.53 186.20,107.42 187.10,107.31 188.00,107.20 188.90,107.09 189.80,106.97 190.70,106.87 191.60,106.76 192.50,106.65 193.40,106.54 194.30,106.43 195.20,106.32 196.10,106.22 197.00,106.11 197.90,106.00 198.80,105.90 199.70,105.79 200.60,105.69 201.50,105.58 202.40,105.48 203.30,105.37 204.20,105.27 205.10,105.17 206.00,105.06 206.90,104.96 207.80,104.86 208.70,104.76 209.60,104.65 210.50,104.55 211.40,104.45 212.30,104.35 213.20,104.25 214.10,104.15 215.00,104.05 215.90,103.95 216.80,103.85 217.70,103.75 218.60,103.65 219.50,103.55 220.40,103.45 221.30,103.35 222.20,103.25 223.10,103.15 224.00,103.05 224.90,102.95 225.80,102.85 226.70,102.76 227.60,102.66 228.50,102.56 229.40,102.46 230.30,102.36 231.20,102.27 232.10,102.17 233.00,102.07 233.90,101.97 234.80,101.88 235.70,101.78 236.60,101.68 237.50,101.59 238.40,101.49 239.30,101.40 240.20,101.30 241.10,101.20 242.00,101.11 242.90,101.01 243.80,100.92 244.70,100.82 245.60,100.73 246.50,100.63 247.40,100.54 248.30,100.44 249.20,100.35 250.10,100.25 251.00,100.16 251.90,100.06 252.80,99.97 253.70,99.87 254.60,99.78 255.50,99.68 256.40,99.59 257.30,99.50 258.20,99.40 259.10,99.31 260.00,99.22 260.90,99.12 261.80,99.03 262.70,98.94 263.60,98.84 264.50,98.75 265.40,98.66 266.30,98.56 267.20,98.47 268.10,98.38 269.00,98.28 269.90,98.19 270.80,98.10 271.70,98.01 272.60,97.91 273.50,97.82 274.40,97.73 275.30,97.64 276.20,97.55 277.10,97.45 278.00,97.36" fill="none" stroke="#111" stroke-width="0.7" />
<polyline points="172.70,109.30 173.60,109.20 174.50,109.12 175.40,109.05 176.30,108.98 177.20,108.92 178.10,108.85 179.00,108.79 179.90,108.73 180.80,108.67 181.70,108.61 182.60,108.55 183.50,108.49 184.40,108.43 185.30,108.38 186.20,108.32 187.10,108.26 188.00,108.20 188.90,108.14 189.80,108.09 190.70,108.03 191.60,107.91 192.50,107.80 193.40,107.68 194.30,107.57 195.20,107.45 196.10,107.34 197.00,107.23 197.90,107.11 198.80,107.00 199.70,106.89 200.60,106.78 201.50,106.66 202.40,106.55 203.30,106.44 204.20,106.33 205.10,106.22 206.00,106.11 206.90,106.00 207.80,105.89 208.70,105.78 209.60,105.67 210.50,105.56 211.40,105.46 212.30,105.35 213.20,105.24 214.10,105.13 215.00,105.02 215.90,104.92 216.80,104.81 217.70,104.70 218.60,104.60 219.50,104.49 220.40,104.38 221.30,104.28 222.20,104.17 223.10,104.07 224.00,103.96 224.90,103.85 225.80,103.75 226.70,103.64 227.60,103.54 228.50,103.43 229.40,103.33 230.30,103.23 231.20,103.12 232.10,103.02 233.00,102.91 233.90,102.81 234.80,102.71 235.70,102.60 236.60,102.50 237.50,102.40 238.40,102.29 239.30,102.19 240.20,102.09 241.10,101.98 242.00,101.88 242.90,101.78 243.80,101.68 244.70,101.57 245.60,101.47 246.50,101.37 247.40,101.27 248.30,101.17 249.20,101.06 250.10,100.96 251.00,100.86 251.90,100.76 252.80,100.66 253.70,100.56 254.60,100.46 255.50,100.35 256.40,100.25 257.30,100.15 258.20,100.05 259.10,99.95 260.00,99.85 260.90,99.75 261.80,99.65 262.70,99.55 263.60,99.45 264.50,99.35 265.40,99.25 266.30,99.15 267.20,99.05 268.10,98.95 269.00,98.85 269.90,98.75 270.80,98.65 271.70,98.55 272.60,98.45 273.50,98.36 274.40,98.26 275.30,98.16 276.20,98.06 277.10,97.96 278.00,97.86" fill="none" stroke="#111" stroke-width="0.7" />
<polyline points="172.70,109.30 173.60,109.27 174.50,109.25 175.40,109.24 176.30,109.24 177.20,109.23 178.10,109.23 179.00,109.23 179.90,109.23 180.80,109.23 181.70,109.23 182.60,109.23 183.50,109.22 184.40,109.22 185.30,109.22 186.20,109.22 187.10,109.21 188.00,109.21 188.90,109.20 189.80,109.20 190.70,109.19 191.60,109.07 192.50,108.95 193.40,108.82 194.30,108.70 195.20,108.58 196.10,108.46 197.00,108.34 197.90,108.22 198.80,108.10 199.70,107.98 200.60,107.86 201.50,107.75 202.40,107.63 203.30,107.51 204.20,107.39 205.10,107.27 206.00,107.16 206.90,107.04 207.80,106.92 208.70,106.81 209.60,106.69 210.50,106.58 211.40,106.46 212.30,106.35 213.20,106.23 214.10,106.12 215.00,106.00 215.90,105.89 216.80,105.78 217.70,105.66 218.60,105.55 219.50,105.43 220.40,105.32 221.30,105.21 222.20,105.10 223.10,104.98 224.00,104.87 224.90,104.76 225.80,104.65 226.70,104.53 227.60,104.42 228.50,104.31 229.40,104.20 230.30,104.09 231.20,103.98 232.10,103.87 233.00,103.75 233.90,103.64 234.80,103.53 235.70,103.42 236.60,103.31 237.50,103.20 238.40,103.09 239.30,102.98 240.20,102.87 241.10,102.76 242.00,102.65 242.90,102.54 243.80,102.44 244.70,102.33 245.60,102.22 246.50,102.11 247.40,102.00 248.30,101.89 249.20,101.78 250.10,101.67 251.00,101.57 251.90,101.46 252.80,101.35 253.70,101.24 254.60,101.13 255.50,101.03 256.40,100.92 257.30,100.81 258.20,100.70 259.10,100.60 260.00,100.49 260.90,100.38 261.80,100.27 262.70,100.17 263.60,100.06 264.50,99.95 265.40,99.85 266.30,99.74 267.20,99.63 268.10,99.53 269.00,99.42 269.90,99.31 270.80,99.21 271.70,99.10 272.60,99.00 273.50,98.89 274.40,98.78 275.30,98.68 276.20,98.57 277.10,98.47 278.00,98.36" fill="none" stroke="#111" stroke-width="0.7" />
<rect x="198.36" y="105.06" width="1.60" height="3.37" fill="#111" stroke="none" stroke-width="1" />
<rect x="203.65" y="104.44" width="1.60" height="3.27" fill="#111" stroke="none" stroke-width="1" />
<rect x="208.94" y="103.84" width="1.60" height="3.16" fill="#111" stroke="none" stroke-width="1" />
<rect x="214.24" y="103.24" width="1.60" height="3.06" fill="#111" stroke="none" stroke-width="1" />
<rect x="219.53" y="102.65" width="1.60" height="2.95" fill="#111" stroke="none" stroke-width="1" />
<rect x="224.82" y="102.07" width="1.60" height="2.85" fill="#111" stroke="none" stroke-width="1" />
<rect x="230.11" y="101.50" width="1.60" height="2.74" fill="#111" stroke="none" stroke-width="1" />
<rect x="235.40" y="100.93" width="1.60" height="2.64" fill="#111" stroke="none" stroke-width="1" />
<rect x="240.70" y="100.36" width="1.60" height="2.53" fill="#111" stroke="none" stroke-width="1" />
<rect x="245.99" y="99.80" width="1.60" height="2.43" fill="#111" stroke="none" stroke-width="1" />
<rect x="251.28" y="99.24" width="1.60" height="2.32" fill="#111" stroke="none" stroke-width="1" />
<rect x="256.57" y="98.69" width="1.60" height="2.22" fill="#111" stroke="none" stroke-width="1" />
<rect x="261.86" y="98.14" width="1.60" height="2.11" fill="#111" stroke="none" stroke-width="1" />
<rect x="267.16" y="97.59" width="1.60" height="2.01" fill="#111" stroke="none" stroke-width="1" />
<rect x="272.45" y="97.05" width="1.60" height="1.90" fill="#111" stroke="none" stroke-width="1" />
<rect x="277.74" y="96.51" width="1.60" height="1.80" fill="#111" stroke="none" stroke-width="1" />
<polygon points="172.70,109.30 197.00,104.42 197.00,107.80 177.20,109.30" fill="#111" stroke="none" stroke-width="0.5" />
<rect x="172.50" y="15.30" width="112.90" height="94.10" fill="none" stroke="#555" stroke-width="0.9" />
<line x1="170.50" y1="109.30" x2="172.50" y2="109.30" stroke="#555" stroke-width="0.8" />
<text x="170.20" y="111.50" font-size="6.4" fill="#333" text-anchor="end" stroke="#333" stroke-width="0.22" >0</text>
<line x1="170.50" y1="87.90" x2="172.50" y2="87.90" stroke="#555" stroke-width="0.8" />
<text x="170.20" y="90.10" font-size="6.4" fill="#333" text-anchor="end" stroke="#333" stroke-width="0.22" >5</text>
<line x1="170.50" y1="66.50" x2="172.50" y2="66.50" stroke="#555" stroke-width="0.8" />
<text x="170.20" y="68.70" font-size="6.4" fill="#333" text-anchor="end" stroke="#333" stroke-width="0.22" >10</text>
<line x1="170.50" y1="45.10" x2="172.50" y2="45.10" stroke="#555" stroke-width="0.8" />
<text x="170.20" y="47.30" font-size="6.4" fill="#333" text-anchor="end" stroke="#333" stroke-width="0.22" >15</text>
<line x1="170.50" y1="23.70" x2="172.50" y2="23.70" stroke="#555" stroke-width="0.8" />
<text x="170.20" y="25.90" font-size="6.4" fill="#333" text-anchor="end" stroke="#333" stroke-width="0.22" >20</text>
<line x1="171.30" y1="98.60" x2="172.50" y2="98.60" stroke="#555" stroke-width="0.6" />
<line x1="171.30" y1="77.20" x2="172.50" y2="77.20" stroke="#555" stroke-width="0.6" />
<line x1="171.30" y1="55.80" x2="172.50" y2="55.80" stroke="#555" stroke-width="0.6" />
<line x1="171.30" y1="34.40" x2="172.50" y2="34.40" stroke="#555" stroke-width="0.6" />
<line x1="172.70" y1="109.40" x2="172.70" y2="111.40" stroke="#555" stroke-width="0.8" />
<text x="172.70" y="118.30" font-size="6.6" fill="#333" text-anchor="middle" textLength="7.8" lengthAdjust="spacingAndGlyphs" stroke="#333" stroke-width="0.22" >0.0</text>
<line x1="190.70" y1="109.40" x2="190.70" y2="111.40" stroke="#555" stroke-width="0.8" />
<text x="190.70" y="118.30" font-size="6.6" fill="#333" text-anchor="middle" textLength="7.8" lengthAdjust="spacingAndGlyphs" stroke="#333" stroke-width="0.22" >0.2</text>
<line x1="208.70" y1="109.40" x2="208.70" y2="111.40" stroke="#555" stroke-width="0.8" />
<text x="208.70" y="118.30" font-size="6.6" fill="#333" text-anchor="middle" textLength="7.8" lengthAdjust="spacingAndGlyphs" stroke="#333" stroke-width="0.22" >0.4</text>
<line x1="226.70" y1="109.40" x2="226.70" y2="111.40" stroke="#555" stroke-width="0.8" />
<text x="226.70" y="118.30" font-size="6.6" fill="#333" text-anchor="middle" textLength="7.8" lengthAdjust="spacingAndGlyphs" stroke="#333" stroke-width="0.22" >0.6</text>
<line x1="244.70" y1="109.40" x2="244.70" y2="111.40" stroke="#555" stroke-width="0.8" />
<text x="244.70" y="118.30" font-size="6.6" fill="#333" text-anchor="middle" textLength="7.8" lengthAdjust="spacingAndGlyphs" stroke="#333" stroke-width="0.22" >0.8</text>
<line x1="262.70" y1="109.40" x2="262.70" y2="111.40" stroke="#555" stroke-width="0.8" />
<text x="262.70" y="118.30" font-size="6.6" fill="#333" text-anchor="middle" textLength="7.8" lengthAdjust="spacingAndGlyphs" stroke="#333" stroke-width="0.22" >1.0</text>
<line x1="280.70" y1="109.40" x2="280.70" y2="111.40" stroke="#555" stroke-width="0.8" />
<text x="280.70" y="118.30" font-size="6.6" fill="#333" text-anchor="middle" textLength="7.8" lengthAdjust="spacingAndGlyphs" stroke="#333" stroke-width="0.22" >1.2</text>
<line x1="181.70" y1="109.40" x2="181.70" y2="110.60" stroke="#555" stroke-width="0.6" />
<line x1="199.70" y1="109.40" x2="199.70" y2="110.60" stroke="#555" stroke-width="0.6" />
<line x1="217.70" y1="109.40" x2="217.70" y2="110.60" stroke="#555" stroke-width="0.6" />
<line x1="235.70" y1="109.40" x2="235.70" y2="110.60" stroke="#555" stroke-width="0.6" />
<line x1="253.70" y1="109.40" x2="253.70" y2="110.60" stroke="#555" stroke-width="0.6" />
<line x1="271.70" y1="109.40" x2="271.70" y2="110.60" stroke="#555" stroke-width="0.6" />
<text x="231.00" y="127.20" font-size="6.5" fill="#333" text-anchor="middle" textLength="42.8" lengthAdjust="spacingAndGlyphs" stroke="#333" stroke-width="0.22" >Pressure (atm)</text>
<text x="160.50" y="64.00" font-size="6.3" fill="#333" text-anchor="middle" textLength="80" lengthAdjust="spacingAndGlyphs" transform="rotate(-90 160.50 64.00)" stroke="#333" stroke-width="0.22" >Quantity adsorbed (cm<tspan font-size="4.3" dy="-2.3">3</tspan><tspan dy="2.3"> g</tspan><tspan font-size="4.3" dy="-2.3">-1</tspan><tspan dy="2.3">)</tspan></text>
<line x1="174.90" y1="20.90" x2="187.20" y2="20.90" stroke="#2233dd" stroke-width="1" />
<rect x="179.60" y="19.80" width="2.20" height="2.20" fill="#2233dd" stroke="none" stroke-width="1" />
<text x="188.30" y="23.10" font-size="6.3" fill="#3c3cd0" textLength="61.6" lengthAdjust="spacingAndGlyphs" stroke="#3c3cd0" stroke-width="0.22" >NC800 (15.4 cm<tspan font-size="4.3" dy="-2.3">3</tspan><tspan dy="2.3"> g</tspan><tspan font-size="4.3" dy="-2.3">-1</tspan><tspan dy="2.3">)</tspan></text>
<line x1="174.90" y1="30.00" x2="187.20" y2="30.00" stroke="#ee2222" stroke-width="1" />
<rect x="179.60" y="28.90" width="2.20" height="2.20" fill="#ee2222" stroke="none" stroke-width="1" />
<text x="188.30" y="32.20" font-size="6.3" fill="#e04444" textLength="61.8" lengthAdjust="spacingAndGlyphs" stroke="#e04444" stroke-width="0.22" >NC900 (16.1 cm<tspan font-size="4.3" dy="-2.3">3</tspan><tspan dy="2.3"> g</tspan><tspan font-size="4.3" dy="-2.3">-1</tspan><tspan dy="2.3">)</tspan></text>
<line x1="174.90" y1="38.50" x2="187.20" y2="38.50" stroke="#2bd82b" stroke-width="1" />
<rect x="179.60" y="37.40" width="2.20" height="2.20" fill="#2bd82b" stroke="none" stroke-width="1" />
<text x="188.30" y="40.70" font-size="6.3" fill="#3ccc3c" textLength="65.5" lengthAdjust="spacingAndGlyphs" stroke="#3ccc3c" stroke-width="0.22" >NC1000 (16.9 cm<tspan font-size="4.3" dy="-2.3">3</tspan><tspan dy="2.3"> g</tspan><tspan font-size="4.3" dy="-2.3">-1</tspan><tspan dy="2.3">)</tspan></text>
<line x1="195.00" y1="93.90" x2="207.30" y2="93.90" stroke="#111" stroke-width="0.9" />
<rect x="200.00" y="92.90" width="2.00" height="2.00" fill="#111" stroke="none" stroke-width="1" />
<text x="208.20" y="96.10" font-size="6.3" fill="#222" textLength="75.3" lengthAdjust="spacingAndGlyphs" stroke="#222" stroke-width="0.22" >Carbon black (2.8 cm<tspan font-size="4.3" dy="-2.3">3</tspan><tspan dy="2.3"> g</tspan><tspan font-size="4.3" dy="-2.3">-1</tspan><tspan dy="2.3">)</tspan></text>
<polygon points="359.10,23.70 359.10,48.00 315.00,100.00 315.00,62.40" fill="#dbf2f8" stroke="#c0dfe6" stroke-width="0.4" />
<polygon points="359.10,48.00 409.00,48.00 387.30,100.00 315.00,100.00" fill="#ececec" stroke="#cdcdcd" stroke-width="0.4" />
<rect x="359.10" y="23.70" width="49.90" height="24.30" fill="#fefbd6" stroke="#cacab6" stroke-width="0.5" />
<text x="305.60" y="30.40" font-size="9.6" fill="#111" font-weight="bold" textLength="25.7" lengthAdjust="spacingAndGlyphs" stroke="#111" stroke-width="0.15" >NC900</text>
<line x1="315.00" y1="62.40" x2="315.00" y2="100.00" stroke="#555" stroke-width="0.7" />
<line x1="313.50" y1="64.40" x2="315.00" y2="64.40" stroke="#555" stroke-width="0.6" />
<text x="313.00" y="66.70" font-size="6.6" fill="#222" text-anchor="end" textLength="9.6" lengthAdjust="spacingAndGlyphs" stroke="#222" stroke-width="0.22" >600</text>
<line x1="313.50" y1="76.10" x2="315.00" y2="76.10" stroke="#555" stroke-width="0.6" />
<text x="313.00" y="78.40" font-size="6.6" fill="#222" text-anchor="end" textLength="9.6" lengthAdjust="spacingAndGlyphs" stroke="#222" stroke-width="0.22" >400</text>
<line x1="313.50" y1="87.90" x2="315.00" y2="87.90" stroke="#555" stroke-width="0.6" />
<text x="313.00" y="90.20" font-size="6.6" fill="#222" text-anchor="end" textLength="9.6" lengthAdjust="spacingAndGlyphs" stroke="#222" stroke-width="0.22" >200</text>
<line x1="313.50" y1="99.80" x2="315.00" y2="99.80" stroke="#555" stroke-width="0.6" />
<text x="313.00" y="102.10" font-size="6.6" fill="#222" text-anchor="end" textLength="3.2" lengthAdjust="spacingAndGlyphs" stroke="#222" stroke-width="0.22" >0</text>
<line x1="315.00" y1="100.00" x2="387.30" y2="100.00" stroke="#555" stroke-width="0.7" />
<line x1="315.00" y1="100.00" x2="315.00" y2="101.50" stroke="#555" stroke-width="0.6" />
<text x="315.00" y="107.30" font-size="6.5" fill="#222" text-anchor="middle" textLength="3.1" lengthAdjust="spacingAndGlyphs" stroke="#222" stroke-width="0.22" >0</text>
<line x1="329.40" y1="100.00" x2="329.40" y2="101.50" stroke="#555" stroke-width="0.6" />
<text x="329.40" y="107.30" font-size="6.5" fill="#222" text-anchor="middle" textLength="9.3" lengthAdjust="spacingAndGlyphs" stroke="#222" stroke-width="0.22" >200</text>
<line x1="343.70" y1="100.00" x2="343.70" y2="101.50" stroke="#555" stroke-width="0.6" />
<text x="343.70" y="107.30" font-size="6.5" fill="#222" text-anchor="middle" textLength="9.3" lengthAdjust="spacingAndGlyphs" stroke="#222" stroke-width="0.22" >400</text>
<line x1="358.10" y1="100.00" x2="358.10" y2="101.50" stroke="#555" stroke-width="0.6" />
<text x="358.10" y="107.30" font-size="6.5" fill="#222" text-anchor="middle" textLength="9.3" lengthAdjust="spacingAndGlyphs" stroke="#222" stroke-width="0.22" >600</text>
<line x1="372.40" y1="100.00" x2="372.40" y2="101.50" stroke="#555" stroke-width="0.6" />
<text x="372.40" y="107.30" font-size="6.5" fill="#222" text-anchor="middle" textLength="9.3" lengthAdjust="spacingAndGlyphs" stroke="#222" stroke-width="0.22" >800</text>
<line x1="386.00" y1="100.00" x2="386.00" y2="101.50" stroke="#555" stroke-width="0.6" />
<text x="386.00" y="107.30" font-size="6.5" fill="#222" text-anchor="middle" textLength="12.4" lengthAdjust="spacingAndGlyphs" stroke="#222" stroke-width="0.22" >1000</text>
<line x1="387.30" y1="100.00" x2="409.00" y2="48.00" stroke="#555" stroke-width="0.7" />
<text x="393.60" y="93.00" font-size="6.8" fill="#222" stroke="#222" stroke-width="0.22" >1</text>
<text x="399.50" y="78.20" font-size="6.8" fill="#222" stroke="#222" stroke-width="0.22" >10</text>
<text x="404.40" y="66.00" font-size="6.8" fill="#222" stroke="#222" stroke-width="0.22" >40</text>
<text x="408.80" y="55.40" font-size="6.8" fill="#222" stroke="#222" stroke-width="0.22" >80</text>
<path d="M324.0,90.6 Q327.8,86.0 331.5,91.2" stroke="#e03038" fill="none" stroke-width="2.0" />
<text x="332.00" y="94.10" font-size="6.6" fill="#222" stroke="#222" stroke-width="0.22" >109.2</text>
<path d="M337.2,75.6 Q340.6,70.8 344.0,76.2" stroke="#e03038" fill="none" stroke-width="2.0" />
<text x="344.40" y="78.60" font-size="6.6" fill="#222" stroke="#222" stroke-width="0.22" >111.5</text>
<path d="M347.4,63.4 Q350.7,58.6 354.0,64.0" stroke="#e03038" fill="none" stroke-width="2.0" />
<text x="354.40" y="66.10" font-size="6.6" fill="#222" stroke="#222" stroke-width="0.22" >119.0</text>
<path d="M356.2,53.0 Q360.3,47.4 364.4,53.6" stroke="#e03038" fill="none" stroke-width="2.0" />
<text x="365.40" y="54.90" font-size="6.6" fill="#222" stroke="#222" stroke-width="0.22" >162.0</text>
<text x="354.00" y="112.00" font-size="5.8" fill="#222" text-anchor="middle" stroke="#222" stroke-width="0.22" >Z' (Ω)</text>
<text x="297.50" y="81.50" font-size="5.8" fill="#222" text-anchor="middle" transform="rotate(-90 297.50 81.50)" stroke="#222" stroke-width="0.22" >Z'' (Ω)</text>
<text x="410.40" y="81.40" font-size="5.6" fill="#222" text-anchor="middle" transform="rotate(-65.5 410.40 81.40)" stroke="#222" stroke-width="0.22" >Charge number</text>
<polygon points="483.60,26.20 483.60,49.40 442.00,99.80 442.00,64.90" fill="#dbf2f8" stroke="#c0dfe6" stroke-width="0.4" />
<polygon points="483.60,49.40 531.40,49.40 511.30,99.60 442.00,99.60" fill="#ececec" stroke="#cdcdcd" stroke-width="0.4" />
<rect x="483.60" y="26.20" width="47.40" height="23.20" fill="#fefbd6" stroke="#cacab6" stroke-width="0.5" />
<text x="425.60" y="32.30" font-size="9.6" fill="#111" font-weight="bold" textLength="50.5" lengthAdjust="spacingAndGlyphs" stroke="#111" stroke-width="0.15" >Carbon black</text>
<line x1="442.00" y1="64.90" x2="442.00" y2="99.60" stroke="#555" stroke-width="0.7" />
<line x1="440.50" y1="65.70" x2="442.00" y2="65.70" stroke="#555" stroke-width="0.6" />
<text x="440.00" y="68.00" font-size="6.6" fill="#222" text-anchor="end" textLength="9.6" lengthAdjust="spacingAndGlyphs" stroke="#222" stroke-width="0.22" >600</text>
<line x1="440.50" y1="76.90" x2="442.00" y2="76.90" stroke="#555" stroke-width="0.6" />
<text x="440.00" y="79.20" font-size="6.6" fill="#222" text-anchor="end" textLength="9.6" lengthAdjust="spacingAndGlyphs" stroke="#222" stroke-width="0.22" >400</text>
<line x1="440.50" y1="87.90" x2="442.00" y2="87.90" stroke="#555" stroke-width="0.6" />
<text x="440.00" y="90.20" font-size="6.6" fill="#222" text-anchor="end" textLength="9.6" lengthAdjust="spacingAndGlyphs" stroke="#222" stroke-width="0.22" >200</text>
<line x1="440.50" y1="99.30" x2="442.00" y2="99.30" stroke="#555" stroke-width="0.6" />
<text x="440.00" y="101.60" font-size="6.6" fill="#222" text-anchor="end" textLength="3.2" lengthAdjust="spacingAndGlyphs" stroke="#222" stroke-width="0.22" >0</text>
<line x1="442.00" y1="99.60" x2="511.30" y2="99.60" stroke="#555" stroke-width="0.7" />
<line x1="442.00" y1="99.60" x2="442.00" y2="101.10" stroke="#555" stroke-width="0.6" />
<text x="442.00" y="106.90" font-size="6.5" fill="#222" text-anchor="middle" textLength="3.1" lengthAdjust="spacingAndGlyphs" stroke="#222" stroke-width="0.22" >0</text>
<line x1="455.60" y1="99.60" x2="455.60" y2="101.10" stroke="#555" stroke-width="0.6" />
<text x="455.60" y="106.90" font-size="6.5" fill="#222" text-anchor="middle" textLength="9.3" lengthAdjust="spacingAndGlyphs" stroke="#222" stroke-width="0.22" >200</text>
<line x1="469.20" y1="99.60" x2="469.20" y2="101.10" stroke="#555" stroke-width="0.6" />
<text x="469.20" y="106.90" font-size="6.5" fill="#222" text-anchor="middle" textLength="9.3" lengthAdjust="spacingAndGlyphs" stroke="#222" stroke-width="0.22" >400</text>
<line x1="482.80" y1="99.60" x2="482.80" y2="101.10" stroke="#555" stroke-width="0.6" />
<text x="482.80" y="106.90" font-size="6.5" fill="#222" text-anchor="middle" textLength="9.3" lengthAdjust="spacingAndGlyphs" stroke="#222" stroke-width="0.22" >600</text>
<line x1="496.40" y1="99.60" x2="496.40" y2="101.10" stroke="#555" stroke-width="0.6" />
<text x="496.40" y="106.90" font-size="6.5" fill="#222" text-anchor="middle" textLength="9.3" lengthAdjust="spacingAndGlyphs" stroke="#222" stroke-width="0.22" >800</text>
<line x1="510.00" y1="99.60" x2="510.00" y2="101.10" stroke="#555" stroke-width="0.6" />
<text x="510.00" y="106.90" font-size="6.5" fill="#222" text-anchor="middle" textLength="12.4" lengthAdjust="spacingAndGlyphs" stroke="#222" stroke-width="0.22" >1000</text>
<line x1="511.30" y1="99.60" x2="531.40" y2="49.40" stroke="#555" stroke-width="0.7" />
<text x="516.60" y="93.00" font-size="6.8" fill="#222" stroke="#222" stroke-width="0.22" >1</text>
<text x="521.80" y="79.00" font-size="6.8" fill="#222" stroke="#222" stroke-width="0.22" >3</text>
<text x="527.00" y="66.80" font-size="6.8" fill="#222" stroke="#222" stroke-width="0.22" >5</text>
<text x="531.40" y="57.20" font-size="6.8" fill="#222" stroke="#222" stroke-width="0.22" >7</text>
<path d="M449.2,90.5 Q454.1,85.5 459.0,91.1" stroke="#505050" fill="none" stroke-width="1.5" />
<text x="459.40" y="95.60" font-size="6.6" fill="#222" stroke="#222" stroke-width="0.22" >165.7</text>
<path d="M461.0,76.6 Q470.0,66.4 479.0,77.2" stroke="#505050" fill="none" stroke-width="1.5" />
<text x="477.00" y="82.40" font-size="6.6" fill="#222" stroke="#222" stroke-width="0.22" >297.4</text>
<path d="M471.8,64.5 Q485.1,49.9 498.5,65.1" stroke="#505050" fill="none" stroke-width="1.5" />
<text x="495.20" y="69.20" font-size="6.6" fill="#222" stroke="#222" stroke-width="0.22" >519.3</text>
<path d="M481.8,52.6 Q503.1,39.4 524.5,53.2" stroke="#505050" fill="none" stroke-width="1.5" />
<text x="512.80" y="56.70" font-size="6.6" fill="#222" stroke="#222" stroke-width="0.22" >907.5</text>
<text x="477.00" y="112.00" font-size="5.8" fill="#222" text-anchor="middle" stroke="#222" stroke-width="0.22" >Z' (Ω)</text>
<text x="427.00" y="83.00" font-size="5.8" fill="#222" text-anchor="middle" transform="rotate(-90 427.00 83.00)" stroke="#222" stroke-width="0.22" >Z'' (Ω)</text>
<text x="532.00" y="72.00" font-size="5.6" fill="#222" text-anchor="middle" transform="rotate(-65.5 532.00 72.00)" stroke="#222" stroke-width="0.22" >Charge number</text>
<defs><clipPath id="cl49_170"><circle cx="49.2" cy="170.8" r="23.2"/></clipPath></defs>
<circle cx="49.20" cy="170.80" r="23.50" fill="#fff" stroke="#d6dbe0" stroke-width="0.9" />
<g clip-path="url(#cl49_170)">
<line x1="57.99" y1="164.47" x2="67.12" y2="169.75" stroke="#8e5a3a" stroke-width="1.3" />
<line x1="57.99" y1="153.93" x2="67.12" y2="148.65" stroke="#8e5a3a" stroke-width="1.3" />
<line x1="30.58" y1="169.75" x2="39.71" y2="164.47" stroke="#8e5a3a" stroke-width="1.3" />
<line x1="67.12" y1="169.75" x2="67.12" y2="180.30" stroke="#8e5a3a" stroke-width="1.3" />
<line x1="48.85" y1="180.30" x2="57.99" y2="185.57" stroke="#8e5a3a" stroke-width="1.3" />
<line x1="67.12" y1="169.75" x2="76.26" y2="164.47" stroke="#8e5a3a" stroke-width="1.3" />
<line x1="30.58" y1="180.30" x2="39.71" y2="185.57" stroke="#8e5a3a" stroke-width="1.3" />
<line x1="48.85" y1="180.30" x2="48.85" y2="169.75" stroke="#8e5a3a" stroke-width="1.3" />
<line x1="67.12" y1="180.30" x2="76.26" y2="185.57" stroke="#8e5a3a" stroke-width="1.3" />
<line x1="39.71" y1="164.47" x2="48.85" y2="169.75" stroke="#8e5a3a" stroke-width="1.3" />
<line x1="48.85" y1="148.65" x2="48.85" y2="138.10" stroke="#8e5a3a" stroke-width="1.3" />
<line x1="39.71" y1="185.57" x2="48.85" y2="180.30" stroke="#8e5a3a" stroke-width="1.3" />
<line x1="57.99" y1="185.57" x2="67.12" y2="180.30" stroke="#8e5a3a" stroke-width="1.3" />
<line x1="21.44" y1="185.57" x2="30.58" y2="180.30" stroke="#8e5a3a" stroke-width="1.3" />
<line x1="39.71" y1="185.57" x2="39.71" y2="196.12" stroke="#8e5a3a" stroke-width="1.3" />
<line x1="21.44" y1="164.47" x2="30.58" y2="169.75" stroke="#8e5a3a" stroke-width="1.3" />
<line x1="57.99" y1="185.57" x2="57.99" y2="196.12" stroke="#8e5a3a" stroke-width="1.3" />
<line x1="39.71" y1="153.93" x2="48.85" y2="148.65" stroke="#8e5a3a" stroke-width="1.3" />
<line x1="48.85" y1="148.65" x2="57.99" y2="153.93" stroke="#8e5a3a" stroke-width="1.3" />
<line x1="30.58" y1="169.75" x2="30.58" y2="180.30" stroke="#8e5a3a" stroke-width="1.3" />
<line x1="48.85" y1="169.75" x2="57.99" y2="164.47" stroke="#8e5a3a" stroke-width="1.3" />
<line x1="39.71" y1="153.93" x2="39.71" y2="164.47" stroke="#8e5a3a" stroke-width="1.3" />
<line x1="30.58" y1="148.65" x2="39.71" y2="153.93" stroke="#8e5a3a" stroke-width="1.3" />
<line x1="57.99" y1="153.93" x2="57.99" y2="164.47" stroke="#8e5a3a" stroke-width="1.3" />
<line x1="41.30" y1="165.30" x2="56.40" y2="174.20" stroke="#b84038" stroke-width="1.3" />
<circle cx="39.71" cy="153.93" r="1.80" fill="#c49070" stroke="#7a4424" stroke-width="0.8" />
<circle cx="48.85" cy="148.65" r="1.80" fill="#c49070" stroke="#7a4424" stroke-width="0.8" />
<circle cx="57.99" cy="153.93" r="1.80" fill="#c49070" stroke="#7a4424" stroke-width="0.8" />
<circle cx="30.58" cy="169.75" r="1.80" fill="#c49070" stroke="#7a4424" stroke-width="0.8" />
<circle cx="39.71" cy="164.47" r="1.80" fill="#c49070" stroke="#7a4424" stroke-width="0.8" />
<circle cx="48.85" cy="169.75" r="1.80" fill="#c49070" stroke="#7a4424" stroke-width="0.8" />
<circle cx="57.99" cy="164.47" r="1.80" fill="#c49070" stroke="#7a4424" stroke-width="0.8" />
<circle cx="67.12" cy="169.75" r="1.80" fill="#c49070" stroke="#7a4424" stroke-width="0.8" />
<circle cx="30.58" cy="180.30" r="1.80" fill="#c49070" stroke="#7a4424" stroke-width="0.8" />
<circle cx="39.71" cy="185.57" r="1.80" fill="#c49070" stroke="#7a4424" stroke-width="0.8" />
<circle cx="48.85" cy="180.30" r="1.80" fill="#c49070" stroke="#7a4424" stroke-width="0.8" />
<circle cx="57.99" cy="185.57" r="1.80" fill="#c49070" stroke="#7a4424" stroke-width="0.8" />
<circle cx="67.12" cy="180.30" r="1.80" fill="#c49070" stroke="#7a4424" stroke-width="0.8" />
<circle cx="41.30" cy="165.30" r="2.00" fill="#f03030" stroke="#b01818" stroke-width="0.6" />
<circle cx="56.40" cy="174.20" r="2.00" fill="#f03030" stroke="#b01818" stroke-width="0.6" />
</g>
<text x="49.20" y="144.00" font-size="7.3" fill="#333" text-anchor="middle" stroke="#333" stroke-width="0.22" >G</text>
<defs><clipPath id="cl99_169"><circle cx="99.3" cy="169.8" r="23.2"/></clipPath></defs>
<circle cx="99.30" cy="169.80" r="23.50" fill="#fff" stroke="#d6dbe0" stroke-width="0.9" />
<g clip-path="url(#cl99_169)">
<line x1="98.95" y1="148.55" x2="98.95" y2="138.00" stroke="#8e5a3a" stroke-width="1.3" />
<line x1="98.95" y1="148.55" x2="108.09" y2="153.83" stroke="#8e5a3a" stroke-width="1.3" />
<line x1="80.68" y1="169.65" x2="80.68" y2="180.20" stroke="#8e5a3a" stroke-width="1.3" />
<line x1="98.95" y1="180.20" x2="98.95" y2="169.65" stroke="#8e5a3a" stroke-width="1.3" />
<line x1="89.81" y1="153.83" x2="98.95" y2="148.55" stroke="#8e5a3a" stroke-width="1.3" />
<line x1="71.54" y1="164.38" x2="80.68" y2="169.65" stroke="#8e5a3a" stroke-width="1.3" />
<line x1="108.09" y1="185.47" x2="117.22" y2="180.20" stroke="#8e5a3a" stroke-width="1.3" />
<line x1="89.81" y1="164.38" x2="98.95" y2="169.65" stroke="#8e5a3a" stroke-width="1.3" />
<line x1="108.09" y1="185.47" x2="108.09" y2="196.03" stroke="#8e5a3a" stroke-width="1.3" />
<line x1="80.68" y1="169.65" x2="89.81" y2="164.38" stroke="#8e5a3a" stroke-width="1.3" />
<line x1="80.68" y1="180.20" x2="89.81" y2="185.47" stroke="#8e5a3a" stroke-width="1.3" />
<line x1="108.09" y1="153.83" x2="108.09" y2="164.38" stroke="#8e5a3a" stroke-width="1.3" />
<line x1="71.54" y1="185.47" x2="80.68" y2="180.20" stroke="#8e5a3a" stroke-width="1.3" />
<line x1="117.22" y1="180.20" x2="126.36" y2="185.47" stroke="#8e5a3a" stroke-width="1.3" />
<line x1="89.81" y1="185.47" x2="98.95" y2="180.20" stroke="#8e5a3a" stroke-width="1.3" />
<line x1="117.22" y1="169.65" x2="117.22" y2="180.20" stroke="#8e5a3a" stroke-width="1.3" />
<line x1="108.09" y1="164.38" x2="117.22" y2="169.65" stroke="#8e5a3a" stroke-width="1.3" />
<line x1="89.81" y1="153.83" x2="89.81" y2="164.38" stroke="#8e5a3a" stroke-width="1.3" />
<line x1="117.22" y1="169.65" x2="126.36" y2="164.38" stroke="#8e5a3a" stroke-width="1.3" />
<line x1="80.68" y1="148.55" x2="89.81" y2="153.83" stroke="#8e5a3a" stroke-width="1.3" />
<line x1="98.95" y1="180.20" x2="108.09" y2="185.47" stroke="#8e5a3a" stroke-width="1.3" />
<line x1="98.95" y1="169.65" x2="108.09" y2="164.38" stroke="#8e5a3a" stroke-width="1.3" />
<line x1="89.81" y1="185.47" x2="89.81" y2="196.03" stroke="#8e5a3a" stroke-width="1.3" />
<line x1="108.09" y1="153.83" x2="117.22" y2="148.55" stroke="#8e5a3a" stroke-width="1.3" />
<line x1="91.00" y1="165.70" x2="105.90" y2="174.70" stroke="#b84038" stroke-width="1.3" />
<circle cx="89.81" cy="153.83" r="1.80" fill="#c49070" stroke="#7a4424" stroke-width="0.8" />
<circle cx="98.95" cy="148.55" r="1.80" fill="#c49070" stroke="#7a4424" stroke-width="0.8" />
<circle cx="108.09" cy="153.83" r="1.80" fill="#c49070" stroke="#7a4424" stroke-width="0.8" />
<circle cx="80.68" cy="169.65" r="1.80" fill="#c49070" stroke="#7a4424" stroke-width="0.8" />
<circle cx="89.81" cy="164.38" r="1.80" fill="#c49070" stroke="#7a4424" stroke-width="0.8" />
<circle cx="98.95" cy="169.65" r="1.80" fill="#c49070" stroke="#7a4424" stroke-width="0.8" />
<circle cx="108.09" cy="164.38" r="1.80" fill="#c49070" stroke="#7a4424" stroke-width="0.8" />
<circle cx="117.22" cy="169.65" r="1.80" fill="#c49070" stroke="#7a4424" stroke-width="0.8" />
<circle cx="80.68" cy="180.20" r="1.80" fill="#c49070" stroke="#7a4424" stroke-width="0.8" />
<circle cx="89.81" cy="185.47" r="1.80" fill="#c49070" stroke="#7a4424" stroke-width="0.8" />
<circle cx="98.95" cy="180.20" r="1.80" fill="#c49070" stroke="#7a4424" stroke-width="0.8" />
<circle cx="108.09" cy="185.47" r="1.80" fill="#c49070" stroke="#7a4424" stroke-width="0.8" />
<circle cx="117.22" cy="180.20" r="1.80" fill="#c49070" stroke="#7a4424" stroke-width="0.8" />
<circle cx="91.00" cy="165.70" r="2.00" fill="#f03030" stroke="#b01818" stroke-width="0.6" />
<circle cx="105.90" cy="174.70" r="2.00" fill="#f03030" stroke="#b01818" stroke-width="0.6" />
</g>
<text x="98.60" y="144.00" font-size="7.3" fill="#333" text-anchor="middle" stroke="#333" stroke-width="0.22" >NG</text>
<defs><clipPath id="cl149_169"><circle cx="149.3" cy="169.8" r="23.2"/></clipPath></defs>
<circle cx="149.30" cy="169.80" r="23.50" fill="#fff" stroke="#d6dbe0" stroke-width="0.9" />
<g clip-path="url(#cl149_169)">
<line x1="129.73" y1="179.70" x2="138.86" y2="184.97" stroke="#8e5a3a" stroke-width="1.3" />
<line x1="120.59" y1="184.97" x2="129.73" y2="179.70" stroke="#8e5a3a" stroke-width="1.3" />
<line x1="157.14" y1="184.97" x2="166.27" y2="179.70" stroke="#8e5a3a" stroke-width="1.3" />
<line x1="138.86" y1="184.97" x2="148.00" y2="179.70" stroke="#8e5a3a" stroke-width="1.3" />
<line x1="157.14" y1="153.33" x2="157.14" y2="163.88" stroke="#8e5a3a" stroke-width="1.3" />
<line x1="138.86" y1="153.33" x2="148.00" y2="148.05" stroke="#8e5a3a" stroke-width="1.3" />
<line x1="148.00" y1="179.70" x2="157.14" y2="184.97" stroke="#8e5a3a" stroke-width="1.3" />
<line x1="148.00" y1="148.05" x2="157.14" y2="153.33" stroke="#8e5a3a" stroke-width="1.3" />
<line x1="129.73" y1="169.15" x2="138.86" y2="163.88" stroke="#8e5a3a" stroke-width="1.3" />
<line x1="138.86" y1="184.97" x2="138.86" y2="195.53" stroke="#8e5a3a" stroke-width="1.3" />
<line x1="157.14" y1="163.88" x2="166.27" y2="169.15" stroke="#8e5a3a" stroke-width="1.3" />
<line x1="120.59" y1="163.88" x2="129.73" y2="169.15" stroke="#8e5a3a" stroke-width="1.3" />
<line x1="129.73" y1="148.05" x2="138.86" y2="153.33" stroke="#8e5a3a" stroke-width="1.3" />
<line x1="138.86" y1="153.33" x2="138.86" y2="163.88" stroke="#8e5a3a" stroke-width="1.3" />
<line x1="157.14" y1="184.97" x2="157.14" y2="195.53" stroke="#8e5a3a" stroke-width="1.3" />
<line x1="157.14" y1="153.33" x2="166.27" y2="148.05" stroke="#8e5a3a" stroke-width="1.3" />
<line x1="129.73" y1="169.15" x2="129.73" y2="179.70" stroke="#8e5a3a" stroke-width="1.3" />
<line x1="148.00" y1="137.50" x2="148.00" y2="148.05" stroke="#8e5a3a" stroke-width="1.3" />
<line x1="166.27" y1="169.15" x2="175.41" y2="163.88" stroke="#8e5a3a" stroke-width="1.3" />
<line x1="166.27" y1="179.70" x2="175.41" y2="184.97" stroke="#8e5a3a" stroke-width="1.3" />
<line x1="166.27" y1="169.15" x2="166.27" y2="179.70" stroke="#8e5a3a" stroke-width="1.3" />
<line x1="139.50" y1="175.40" x2="148.00" y2="179.70" stroke="#b84038" stroke-width="1.3" />
<circle cx="138.86" cy="153.33" r="1.80" fill="#c49070" stroke="#7a4424" stroke-width="0.8" />
<circle cx="148.00" cy="148.05" r="1.80" fill="#c49070" stroke="#7a4424" stroke-width="0.8" />
<circle cx="157.14" cy="153.33" r="1.80" fill="#c49070" stroke="#7a4424" stroke-width="0.8" />
<circle cx="129.73" cy="169.15" r="1.80" fill="#c49070" stroke="#7a4424" stroke-width="0.8" />
<circle cx="138.86" cy="163.88" r="1.80" fill="#c49070" stroke="#7a4424" stroke-width="0.8" />
<circle cx="157.14" cy="163.88" r="1.80" fill="#c49070" stroke="#7a4424" stroke-width="0.8" />
<circle cx="166.27" cy="169.15" r="1.80" fill="#c49070" stroke="#7a4424" stroke-width="0.8" />
<circle cx="129.73" cy="179.70" r="1.80" fill="#c49070" stroke="#7a4424" stroke-width="0.8" />
<circle cx="138.86" cy="184.97" r="1.80" fill="#c49070" stroke="#7a4424" stroke-width="0.8" />
<circle cx="148.00" cy="179.70" r="1.80" fill="#c49070" stroke="#7a4424" stroke-width="0.8" />
<circle cx="157.14" cy="184.97" r="2.00" fill="#f03030" stroke="#b01818" stroke-width="0.6" />
<circle cx="166.27" cy="179.70" r="1.80" fill="#c49070" stroke="#7a4424" stroke-width="0.8" />
<circle cx="139.50" cy="175.40" r="2.00" fill="#f03030" stroke="#b01818" stroke-width="0.6" />
</g>
<text x="147.40" y="144.00" font-size="7.3" fill="#333" text-anchor="middle" stroke="#333" stroke-width="0.22" >DNG1</text>
<text x="144.00" y="170.20" font-size="6.8" fill="#333" stroke="#333" stroke-width="0.22" >O1</text>
<text x="153.60" y="176.80" font-size="6.8" fill="#333" stroke="#333" stroke-width="0.22" >O2</text>
<line x1="146.50" y1="171.20" x2="142.20" y2="174.20" stroke="#777" stroke-width="0.5" />
<line x1="157.50" y1="177.80" x2="156.60" y2="182.50" stroke="#777" stroke-width="0.5" />
<defs><clipPath id="cl49_233"><circle cx="49.7" cy="233.5" r="23.2"/></clipPath></defs>
<circle cx="49.70" cy="233.50" r="23.50" fill="#fff" stroke="#d6dbe0" stroke-width="0.9" />
<g clip-path="url(#cl49_233)">
<line x1="23.09" y1="227.38" x2="32.23" y2="232.65" stroke="#8e5a3a" stroke-width="1.3" />
<line x1="50.50" y1="201.00" x2="50.50" y2="211.55" stroke="#8e5a3a" stroke-width="1.3" />
<line x1="23.09" y1="248.47" x2="32.23" y2="243.20" stroke="#8e5a3a" stroke-width="1.3" />
<line x1="59.64" y1="248.47" x2="59.64" y2="259.02" stroke="#8e5a3a" stroke-width="1.3" />
<line x1="59.64" y1="216.83" x2="59.64" y2="227.38" stroke="#8e5a3a" stroke-width="1.3" />
<line x1="50.50" y1="243.20" x2="59.64" y2="248.47" stroke="#8e5a3a" stroke-width="1.3" />
<line x1="68.77" y1="232.65" x2="68.77" y2="243.20" stroke="#8e5a3a" stroke-width="1.3" />
<line x1="59.64" y1="227.38" x2="68.77" y2="232.65" stroke="#8e5a3a" stroke-width="1.3" />
<line x1="41.36" y1="248.47" x2="50.50" y2="243.20" stroke="#8e5a3a" stroke-width="1.3" />
<line x1="68.77" y1="232.65" x2="77.91" y2="227.38" stroke="#8e5a3a" stroke-width="1.3" />
<line x1="41.36" y1="248.47" x2="41.36" y2="259.02" stroke="#8e5a3a" stroke-width="1.3" />
<line x1="50.50" y1="211.55" x2="59.64" y2="216.83" stroke="#8e5a3a" stroke-width="1.3" />
<line x1="59.64" y1="248.47" x2="68.77" y2="243.20" stroke="#8e5a3a" stroke-width="1.3" />
<line x1="32.23" y1="232.65" x2="41.36" y2="227.38" stroke="#8e5a3a" stroke-width="1.3" />
<line x1="32.23" y1="211.55" x2="41.36" y2="216.83" stroke="#8e5a3a" stroke-width="1.3" />
<line x1="68.77" y1="243.20" x2="77.91" y2="248.47" stroke="#8e5a3a" stroke-width="1.3" />
<line x1="41.36" y1="216.83" x2="50.50" y2="211.55" stroke="#8e5a3a" stroke-width="1.3" />
<line x1="59.64" y1="216.83" x2="68.77" y2="211.55" stroke="#8e5a3a" stroke-width="1.3" />
<line x1="41.36" y1="216.83" x2="41.36" y2="227.38" stroke="#8e5a3a" stroke-width="1.3" />
<line x1="32.23" y1="243.20" x2="41.36" y2="248.47" stroke="#8e5a3a" stroke-width="1.3" />
<line x1="32.23" y1="232.65" x2="32.23" y2="243.20" stroke="#8e5a3a" stroke-width="1.3" />
<line x1="35.00" y1="222.70" x2="49.90" y2="231.40" stroke="#b84038" stroke-width="1.3" />
<circle cx="41.36" cy="216.83" r="1.80" fill="#c49070" stroke="#7a4424" stroke-width="0.8" />
<circle cx="50.50" cy="211.55" r="1.80" fill="#c49070" stroke="#7a4424" stroke-width="0.8" />
<circle cx="59.64" cy="216.83" r="1.80" fill="#c49070" stroke="#7a4424" stroke-width="0.8" />
<circle cx="32.23" cy="232.65" r="1.80" fill="#c49070" stroke="#7a4424" stroke-width="0.8" />
<circle cx="41.36" cy="227.38" r="1.80" fill="#c49070" stroke="#7a4424" stroke-width="0.8" />
<circle cx="59.64" cy="227.38" r="1.80" fill="#c49070" stroke="#7a4424" stroke-width="0.8" />
<circle cx="68.77" cy="232.65" r="1.80" fill="#c49070" stroke="#7a4424" stroke-width="0.8" />
<circle cx="32.23" cy="243.20" r="1.80" fill="#c49070" stroke="#7a4424" stroke-width="0.8" />
<circle cx="41.36" cy="248.47" r="1.80" fill="#c49070" stroke="#7a4424" stroke-width="0.8" />
<circle cx="50.50" cy="243.20" r="1.90" fill="#dfe4f4" stroke="#8e9ccc" stroke-width="0.8" />
<circle cx="59.64" cy="248.47" r="1.80" fill="#c49070" stroke="#7a4424" stroke-width="0.8" />
<circle cx="68.77" cy="243.20" r="1.80" fill="#c49070" stroke="#7a4424" stroke-width="0.8" />
<circle cx="35.00" cy="222.70" r="2.00" fill="#f03030" stroke="#b01818" stroke-width="0.6" />
<circle cx="41.40" cy="227.40" r="1.80" fill="#c49070" stroke="#7a4424" stroke-width="0.8" />
<circle cx="49.90" cy="231.40" r="2.00" fill="#f03030" stroke="#b01818" stroke-width="0.6" />
</g>
<text x="50.00" y="207.20" font-size="7.3" fill="#333" text-anchor="middle" stroke="#333" stroke-width="0.22" >DNG2</text>
<defs><clipPath id="cl99_233"><circle cx="99.5" cy="233.5" r="23.2"/></clipPath></defs>
<circle cx="99.50" cy="233.50" r="23.50" fill="#fff" stroke="#d6dbe0" stroke-width="0.9" />
<g clip-path="url(#cl99_233)">
<line x1="71.79" y1="228.08" x2="80.93" y2="233.35" stroke="#8e5a3a" stroke-width="1.3" />
<line x1="80.93" y1="233.35" x2="80.93" y2="243.90" stroke="#8e5a3a" stroke-width="1.3" />
<line x1="117.47" y1="233.35" x2="126.61" y2="228.08" stroke="#8e5a3a" stroke-width="1.3" />
<line x1="99.20" y1="243.90" x2="108.34" y2="249.18" stroke="#8e5a3a" stroke-width="1.3" />
<line x1="108.34" y1="249.18" x2="108.34" y2="259.73" stroke="#8e5a3a" stroke-width="1.3" />
<line x1="80.93" y1="212.25" x2="90.06" y2="217.53" stroke="#8e5a3a" stroke-width="1.3" />
<line x1="99.20" y1="201.70" x2="99.20" y2="212.25" stroke="#8e5a3a" stroke-width="1.3" />
<line x1="108.34" y1="217.53" x2="108.34" y2="228.08" stroke="#8e5a3a" stroke-width="1.3" />
<line x1="90.06" y1="249.18" x2="99.20" y2="243.90" stroke="#8e5a3a" stroke-width="1.3" />
<line x1="117.47" y1="233.35" x2="117.47" y2="243.90" stroke="#8e5a3a" stroke-width="1.3" />
<line x1="71.79" y1="249.18" x2="80.93" y2="243.90" stroke="#8e5a3a" stroke-width="1.3" />
<line x1="108.34" y1="228.08" x2="117.47" y2="233.35" stroke="#8e5a3a" stroke-width="1.3" />
<line x1="99.20" y1="212.25" x2="108.34" y2="217.53" stroke="#8e5a3a" stroke-width="1.3" />
<line x1="80.93" y1="233.35" x2="90.06" y2="228.08" stroke="#8e5a3a" stroke-width="1.3" />
<line x1="117.47" y1="243.90" x2="126.61" y2="249.18" stroke="#8e5a3a" stroke-width="1.3" />
<line x1="80.93" y1="243.90" x2="90.06" y2="249.18" stroke="#8e5a3a" stroke-width="1.3" />
<line x1="108.34" y1="217.53" x2="117.47" y2="212.25" stroke="#8e5a3a" stroke-width="1.3" />
<line x1="90.06" y1="217.53" x2="99.20" y2="212.25" stroke="#8e5a3a" stroke-width="1.3" />
<line x1="108.34" y1="249.18" x2="117.47" y2="243.90" stroke="#8e5a3a" stroke-width="1.3" />
<line x1="90.06" y1="217.53" x2="90.06" y2="228.08" stroke="#8e5a3a" stroke-width="1.3" />
<line x1="90.06" y1="249.18" x2="90.06" y2="259.73" stroke="#8e5a3a" stroke-width="1.3" />
<line x1="90.80" y1="229.50" x2="99.20" y2="235.10" stroke="#b84038" stroke-width="1.3" />
<line x1="99.20" y1="235.10" x2="106.20" y2="239.10" stroke="#b84038" stroke-width="1.3" />
<circle cx="90.06" cy="217.53" r="1.80" fill="#c49070" stroke="#7a4424" stroke-width="0.8" />
<circle cx="99.20" cy="212.25" r="1.80" fill="#c49070" stroke="#7a4424" stroke-width="0.8" />
<circle cx="108.34" cy="217.53" r="1.80" fill="#c49070" stroke="#7a4424" stroke-width="0.8" />
<circle cx="80.93" cy="233.35" r="1.80" fill="#c49070" stroke="#7a4424" stroke-width="0.8" />
<circle cx="90.06" cy="228.08" r="2.00" fill="#f03030" stroke="#b01818" stroke-width="0.6" />
<circle cx="108.34" cy="228.08" r="1.80" fill="#c49070" stroke="#7a4424" stroke-width="0.8" />
<circle cx="117.47" cy="233.35" r="1.80" fill="#c49070" stroke="#7a4424" stroke-width="0.8" />
<circle cx="80.93" cy="243.90" r="1.80" fill="#c49070" stroke="#7a4424" stroke-width="0.8" />
<circle cx="90.06" cy="249.18" r="1.80" fill="#c49070" stroke="#7a4424" stroke-width="0.8" />
<circle cx="99.20" cy="243.90" r="1.90" fill="#dfe4f4" stroke="#8e9ccc" stroke-width="0.8" />
<circle cx="108.34" cy="249.18" r="1.80" fill="#c49070" stroke="#7a4424" stroke-width="0.8" />
<circle cx="117.47" cy="243.90" r="1.80" fill="#c49070" stroke="#7a4424" stroke-width="0.8" />
<circle cx="99.20" cy="235.10" r="1.80" fill="#c49070" stroke="#7a4424" stroke-width="0.8" />
<circle cx="106.20" cy="239.10" r="2.00" fill="#f03030" stroke="#b01818" stroke-width="0.6" />
</g>
<text x="99.60" y="207.20" font-size="7.3" fill="#333" text-anchor="middle" stroke="#333" stroke-width="0.22" >DNG3</text>
<defs><clipPath id="cl149_233"><circle cx="149.0" cy="233.5" r="23.2"/></clipPath></defs>
<circle cx="149.00" cy="233.50" r="23.50" fill="#fff" stroke="#d6dbe0" stroke-width="0.9" />
<g clip-path="url(#cl149_233)">
<line x1="139.46" y1="249.88" x2="148.60" y2="244.60" stroke="#8e5a3a" stroke-width="1.3" />
<line x1="166.87" y1="234.05" x2="166.87" y2="244.60" stroke="#8e5a3a" stroke-width="1.3" />
<line x1="139.46" y1="249.88" x2="139.46" y2="260.43" stroke="#8e5a3a" stroke-width="1.3" />
<line x1="148.60" y1="244.60" x2="157.74" y2="249.88" stroke="#8e5a3a" stroke-width="1.3" />
<line x1="166.87" y1="234.05" x2="176.01" y2="228.78" stroke="#8e5a3a" stroke-width="1.3" />
<line x1="121.19" y1="249.88" x2="130.33" y2="244.60" stroke="#8e5a3a" stroke-width="1.3" />
<line x1="130.33" y1="244.60" x2="139.46" y2="249.88" stroke="#8e5a3a" stroke-width="1.3" />
<line x1="157.74" y1="249.88" x2="166.87" y2="244.60" stroke="#8e5a3a" stroke-width="1.3" />
<line x1="139.46" y1="218.23" x2="139.46" y2="228.78" stroke="#8e5a3a" stroke-width="1.3" />
<line x1="148.60" y1="212.95" x2="157.74" y2="218.23" stroke="#8e5a3a" stroke-width="1.3" />
<line x1="157.74" y1="228.78" x2="166.87" y2="234.05" stroke="#8e5a3a" stroke-width="1.3" />
<line x1="157.74" y1="218.23" x2="166.87" y2="212.95" stroke="#8e5a3a" stroke-width="1.3" />
<line x1="121.19" y1="228.78" x2="130.33" y2="234.05" stroke="#8e5a3a" stroke-width="1.3" />
<line x1="157.74" y1="249.88" x2="157.74" y2="260.43" stroke="#8e5a3a" stroke-width="1.3" />
<line x1="130.33" y1="234.05" x2="139.46" y2="228.78" stroke="#8e5a3a" stroke-width="1.3" />
<line x1="148.60" y1="202.40" x2="148.60" y2="212.95" stroke="#8e5a3a" stroke-width="1.3" />
<line x1="130.33" y1="212.95" x2="139.46" y2="218.23" stroke="#8e5a3a" stroke-width="1.3" />
<line x1="166.87" y1="244.60" x2="176.01" y2="249.88" stroke="#8e5a3a" stroke-width="1.3" />
<line x1="157.74" y1="218.23" x2="157.74" y2="228.78" stroke="#8e5a3a" stroke-width="1.3" />
<line x1="130.33" y1="234.05" x2="130.33" y2="244.60" stroke="#8e5a3a" stroke-width="1.3" />
<line x1="139.46" y1="218.23" x2="148.60" y2="212.95" stroke="#8e5a3a" stroke-width="1.3" />
<line x1="141.70" y1="229.70" x2="155.90" y2="238.40" stroke="#b84038" stroke-width="1.3" />
<circle cx="139.46" cy="218.23" r="1.80" fill="#c49070" stroke="#7a4424" stroke-width="0.8" />
<circle cx="148.60" cy="212.95" r="1.80" fill="#c49070" stroke="#7a4424" stroke-width="0.8" />
<circle cx="157.74" cy="218.23" r="1.80" fill="#c49070" stroke="#7a4424" stroke-width="0.8" />
<circle cx="130.33" cy="234.05" r="1.80" fill="#c49070" stroke="#7a4424" stroke-width="0.8" />
<circle cx="139.46" cy="228.78" r="1.90" fill="#dfe4f4" stroke="#8e9ccc" stroke-width="0.8" />
<circle cx="157.74" cy="228.78" r="1.90" fill="#dfe4f4" stroke="#8e9ccc" stroke-width="0.8" />
<circle cx="166.87" cy="234.05" r="1.80" fill="#c49070" stroke="#7a4424" stroke-width="0.8" />
<circle cx="130.33" cy="244.60" r="1.80" fill="#c49070" stroke="#7a4424" stroke-width="0.8" />
<circle cx="139.46" cy="249.88" r="1.80" fill="#c49070" stroke="#7a4424" stroke-width="0.8" />
<circle cx="148.60" cy="244.60" r="1.90" fill="#dfe4f4" stroke="#8e9ccc" stroke-width="0.8" />
<circle cx="157.74" cy="249.88" r="1.80" fill="#c49070" stroke="#7a4424" stroke-width="0.8" />
<circle cx="166.87" cy="244.60" r="1.80" fill="#c49070" stroke="#7a4424" stroke-width="0.8" />
<circle cx="141.70" cy="229.90" r="2.00" fill="#f03030" stroke="#b01818" stroke-width="0.6" />
<circle cx="149.20" cy="234.50" r="1.80" fill="#c49070" stroke="#7a4424" stroke-width="0.8" />
<circle cx="155.90" cy="238.40" r="2.00" fill="#f03030" stroke="#b01818" stroke-width="0.6" />
</g>
<text x="147.40" y="207.20" font-size="7.3" fill="#333" text-anchor="middle" stroke="#333" stroke-width="0.22" >D3NG</text>
<circle cx="15.40" cy="173.70" r="1.80" fill="#c49070" stroke="#7a4424" stroke-width="0.8" />
<circle cx="15.40" cy="181.80" r="2.00" fill="#f03030" stroke="#b01818" stroke-width="0.6" />
<circle cx="15.40" cy="190.00" r="1.90" fill="#dfe4f4" stroke="#8e9ccc" stroke-width="0.8" />
<text x="18.80" y="176.50" font-size="8" fill="#333" stroke="#333" stroke-width="0.22" >C</text>
<text x="18.80" y="184.60" font-size="8" fill="#333" stroke="#333" stroke-width="0.22" >O</text>
<text x="18.80" y="192.80" font-size="8" fill="#333" stroke="#333" stroke-width="0.22" >N</text>
<path d="M208.7,255.6 L208.7,235.5836 Q208.7,234.5836 209.7,234.5836 L214.2,234.5836 Q215.7,234.5836 215.7,236.0836 L215.7,255.6 Z" stroke="none" fill="#f5a418" stroke-width="1" />
<text x="212.20" y="233.00" font-size="7.3" fill="#333" text-anchor="middle" stroke="#333" stroke-width="0.22" >G</text>
<path d="M220.7,255.6 L220.7,241.393 Q220.7,240.393 221.7,240.393 L226.4,240.393 Q227.9,240.393 227.9,241.893 L227.9,255.6 Z" stroke="none" fill="#565656" stroke-width="1" />
<text x="224.20" y="239.00" font-size="7.3" fill="#333" text-anchor="middle" stroke="#333" stroke-width="0.22" >NG</text>
<path d="M233.0,255.6 L233.0,202.5075 Q233.0,201.5075 234.0,201.5075 L238.9,201.5075 Q240.4,201.5075 240.4,203.0075 L240.4,255.6 Z" stroke="none" fill="#1cb4c8" stroke-width="1" />
<text x="236.50" y="200.00" font-size="7.3" fill="#333" text-anchor="middle" stroke="#333" stroke-width="0.22" >DNG1</text>
<path d="M245.9,255.6 L245.9,217.031 Q245.9,216.031 246.9,216.031 L251.4,216.031 Q252.9,216.031 252.9,217.531 L252.9,255.6 Z" stroke="none" fill="#e8369c" stroke-width="1" />
<text x="250.30" y="214.50" font-size="7.3" fill="#333" text-anchor="middle" stroke="#333" stroke-width="0.22" >DNG2</text>
<path d="M259.0,255.6 L259.0,200.165 Q259.0,199.165 260.0,199.165 L265.0,199.165 Q266.5,199.165 266.5,200.665 L266.5,255.6 Z" stroke="none" fill="#a3c41e" stroke-width="1" />
<text x="262.50" y="198.50" font-size="7.3" fill="#333" text-anchor="middle" stroke="#333" stroke-width="0.22" >DNG3</text>
<path d="M272.2,255.6 L272.2,166.24559999999997 Q272.2,165.24559999999997 273.2,165.24559999999997 L277.8,165.24559999999997 Q279.3,165.24559999999997 279.3,166.74559999999997 L279.3,255.6 Z" stroke="none" fill="#f36c6c" stroke-width="1" />
<text x="273.60" y="163.70" font-size="7.3" fill="#333" text-anchor="middle" stroke="#333" stroke-width="0.22" >D3NG</text>
<rect x="204.20" y="152.00" width="80.80" height="103.60" fill="none" stroke="#555" stroke-width="1" />
<line x1="202.00" y1="250.70" x2="204.20" y2="250.70" stroke="#555" stroke-width="0.8" />
<text x="200.50" y="253.60" font-size="8" fill="#333" text-anchor="end" stroke="#333" stroke-width="0.22" >0.20</text>
<line x1="203.00" y1="241.33" x2="204.20" y2="241.33" stroke="#555" stroke-width="0.6" />
<line x1="202.00" y1="231.96" x2="204.20" y2="231.96" stroke="#555" stroke-width="0.8" />
<text x="200.50" y="234.86" font-size="8" fill="#333" text-anchor="end" stroke="#333" stroke-width="0.22" >0.22</text>
<line x1="203.00" y1="222.59" x2="204.20" y2="222.59" stroke="#555" stroke-width="0.6" />
<line x1="202.00" y1="213.22" x2="204.20" y2="213.22" stroke="#555" stroke-width="0.8" />
<text x="200.50" y="216.12" font-size="8" fill="#333" text-anchor="end" stroke="#333" stroke-width="0.22" >0.24</text>
<line x1="203.00" y1="203.85" x2="204.20" y2="203.85" stroke="#555" stroke-width="0.6" />
<line x1="202.00" y1="194.48" x2="204.20" y2="194.48" stroke="#555" stroke-width="0.8" />
<text x="200.50" y="197.38" font-size="8" fill="#333" text-anchor="end" stroke="#333" stroke-width="0.22" >0.26</text>
<line x1="203.00" y1="185.11" x2="204.20" y2="185.11" stroke="#555" stroke-width="0.6" />
<line x1="202.00" y1="175.74" x2="204.20" y2="175.74" stroke="#555" stroke-width="0.8" />
<text x="200.50" y="178.64" font-size="8" fill="#333" text-anchor="end" stroke="#333" stroke-width="0.22" >0.28</text>
<line x1="203.00" y1="166.37" x2="204.20" y2="166.37" stroke="#555" stroke-width="0.6" />
<line x1="202.00" y1="157.00" x2="204.20" y2="157.00" stroke="#555" stroke-width="0.8" />
<text x="200.50" y="159.90" font-size="8" fill="#333" text-anchor="end" stroke="#333" stroke-width="0.22" >0.30</text>
<text x="181.60" y="201.50" font-size="8" fill="#333" text-anchor="middle" transform="rotate(-90 181.60 201.50)" stroke="#333" stroke-width="0.22" >Binding energy (eV)</text>
<defs><clipPath id="clo"><rect x="314.2" y="133.0" width="75.60000000000002" height="106.80000000000001"/></clipPath></defs><g clip-path="url(#clo)">
<polyline points="314.00,163.70 314.47,163.70 314.95,163.70 315.42,163.70 315.89,163.70 316.36,163.70 316.84,163.70 317.31,163.70 317.78,163.70 318.25,163.70 318.73,163.70 319.20,163.70 319.67,163.70 320.14,163.70 320.61,163.70 321.09,163.70 321.56,163.70 322.03,163.70 322.50,163.70 322.98,163.70 323.45,163.70 323.92,163.70 324.40,163.70 324.87,163.70 325.34,163.70 325.81,163.70 326.29,163.70 326.76,163.70 327.23,163.70 327.70,163.70 328.18,163.70 328.65,163.70 329.12,163.70 329.59,163.69 330.06,163.69 330.54,163.69 331.01,163.69 331.48,163.68 331.95,163.67 332.43,163.66 332.90,163.65 333.37,163.63 333.85,163.61 334.32,163.58 334.79,163.55 335.26,163.51 335.74,163.46 336.21,163.40 336.68,163.33 337.15,163.24 337.62,163.14 338.10,163.03 338.57,162.90 339.04,162.75 339.51,162.60 339.99,162.42 340.46,162.24 340.93,162.05 341.40,161.84 341.88,161.64 342.35,161.43 342.82,161.23 343.30,161.04 343.77,160.86 344.24,160.70 344.71,160.56 345.19,160.45 345.66,160.37 346.13,160.32 346.60,160.30 347.07,160.32 347.55,160.37 348.02,160.45 348.49,160.56 348.96,160.70 349.44,160.86 349.91,161.04 350.38,161.23 350.85,161.43 351.33,161.64 351.80,161.84 352.27,162.05 352.75,162.24 353.22,162.42 353.69,162.60 354.16,162.75 354.64,162.90 355.11,163.03 355.58,163.14 356.05,163.24 356.52,163.33 357.00,163.40 357.47,163.46 357.94,163.51 358.41,163.55 358.89,163.58 359.36,163.61 359.83,163.63 360.30,163.65 360.78,163.66 361.25,163.67 361.72,163.68 362.20,163.69 362.67,163.69 363.14,163.69 363.61,163.69 364.09,163.70 364.56,163.70 365.03,163.70 365.50,163.70 365.98,163.70 366.45,163.70 366.92,163.70 367.39,163.70 367.86,163.70 368.34,163.70 368.81,163.70 369.28,163.70 369.75,163.70 370.23,163.70 370.70,163.70 371.17,163.70 371.65,163.70 372.12,163.70 372.59,163.70 373.06,163.70 373.54,163.70 374.01,163.70 374.48,163.70 374.95,163.70 375.43,163.70 375.90,163.70 376.37,163.70 376.84,163.70 377.31,163.70 377.79,163.70 378.26,163.70 378.73,163.70 379.20,163.70 379.68,163.70 380.15,163.70 380.62,163.70 381.10,163.70 381.57,163.70 382.04,163.70 382.51,163.70 382.99,163.70 383.46,163.70 383.93,163.70 384.40,163.70 384.88,163.70 385.35,163.70 385.82,163.70 386.29,163.70 386.76,163.70 387.24,163.70 387.71,163.70 388.18,163.70 388.65,163.70 389.13,163.70 389.60,163.70" fill="none" stroke="#8a8a8a" stroke-width="0.9" />
<polyline points="314.00,198.80 314.47,198.80 314.95,198.80 315.42,198.80 315.89,198.80 316.36,198.80 316.84,198.80 317.31,198.80 317.78,198.80 318.25,198.80 318.73,198.80 319.20,198.80 319.67,198.80 320.14,198.80 320.61,198.80 321.09,198.80 321.56,198.80 322.03,198.80 322.50,198.80 322.98,198.80 323.45,198.80 323.92,198.80 324.40,198.80 324.87,198.80 325.34,198.80 325.81,198.80 326.29,198.80 326.76,198.80 327.23,198.80 327.70,198.80 328.18,198.80 328.65,198.80 329.12,198.80 329.59,198.80 330.06,198.80 330.54,198.80 331.01,198.80 331.48,198.80 331.95,198.80 332.43,198.80 332.90,198.80 333.37,198.79 333.85,198.79 334.32,198.79 334.79,198.78 335.26,198.77 335.74,198.76 336.21,198.74 336.68,198.71 337.15,198.68 337.62,198.64 338.10,198.59 338.57,198.52 339.04,198.45 339.51,198.37 339.99,198.27 340.46,198.18 340.93,198.07 341.40,197.97 341.88,197.87 342.35,197.78 342.82,197.71 343.30,197.65 343.77,197.61 344.24,197.60 344.71,197.61 345.19,197.65 345.66,197.71 346.13,197.78 346.60,197.87 347.07,197.97 347.55,198.07 348.02,198.18 348.49,198.27 348.96,198.37 349.44,198.45 349.91,198.52 350.38,198.59 350.85,198.64 351.33,198.68 351.80,198.71 352.27,198.74 352.75,198.76 353.22,198.77 353.69,198.78 354.16,198.79 354.64,198.79 355.11,198.79 355.58,198.80 356.05,198.80 356.52,198.80 357.00,198.80 357.47,198.80 357.94,198.80 358.41,198.80 358.89,198.80 359.36,198.80 359.83,198.80 360.30,198.80 360.78,198.80 361.25,198.80 361.72,198.79 362.20,198.79 362.67,198.79 363.14,198.79 363.61,198.78 364.09,198.78 364.56,198.77 365.03,198.76 365.50,198.75 365.98,198.74 366.45,198.72 366.92,198.70 367.39,198.68 367.86,198.65 368.34,198.62 368.81,198.59 369.28,198.55 369.75,198.51 370.23,198.46 370.70,198.41 371.17,198.36 371.65,198.31 372.12,198.25 372.59,198.20 373.06,198.15 373.54,198.10 374.01,198.05 374.48,198.01 374.95,197.97 375.43,197.94 375.90,197.92 376.37,197.90 376.84,197.90 377.31,197.90 377.79,197.92 378.26,197.94 378.73,197.97 379.20,198.01 379.68,198.05 380.15,198.10 380.62,198.15 381.10,198.20 381.57,198.25 382.04,198.31 382.51,198.36 382.99,198.41 383.46,198.46 383.93,198.51 384.40,198.55 384.88,198.59 385.35,198.62 385.82,198.65 386.29,198.68 386.76,198.70 387.24,198.72 387.71,198.74 388.18,198.75 388.65,198.76 389.13,198.77 389.60,198.78" fill="none" stroke="#2fa23a" stroke-width="1.0" />
<polyline points="340.46,198.84 340.70,198.81 340.93,198.78 341.17,198.74 341.41,198.70 341.64,198.65 341.88,198.59 342.11,198.52 342.35,198.44 342.59,198.35 342.82,198.26 343.06,198.14 343.30,198.02 343.53,197.88 343.77,197.72 344.00,197.54 344.24,197.35 344.48,197.13 344.71,196.89 344.95,196.63 345.19,196.34 345.42,196.02 345.66,195.68 345.89,195.31 346.13,194.90 346.37,194.46 346.60,194.00 346.84,193.49 347.07,192.96 347.31,192.39 347.55,191.79 347.78,191.15 348.02,190.48 348.26,189.78 348.49,189.05 348.73,188.30 348.96,187.51 349.20,186.71 349.44,185.88 349.67,185.04 349.91,184.18 350.15,183.31 350.38,182.44 350.62,181.57 350.86,180.71 351.09,179.85 351.33,179.01 351.56,178.19 351.80,177.40 352.04,176.64 352.27,175.91 352.51,175.23 352.75,174.60 352.98,174.02 353.22,173.49 353.45,173.03 353.69,172.63 353.93,172.30 354.16,172.04 354.40,171.85 354.64,171.74 354.87,171.70 355.11,171.74 355.34,171.85 355.58,172.04 355.82,172.30 356.05,172.63 356.29,173.03 356.52,173.49 356.76,174.02 357.00,174.60 357.23,175.23 357.47,175.91 357.71,176.64 357.94,177.40 358.18,178.19 358.41,179.01 358.65,179.85 358.89,180.71 359.12,181.57 359.36,182.44 359.60,183.31 359.83,184.18 360.07,185.04 360.31,185.88 360.54,186.71 360.78,187.51 361.01,188.30 361.25,189.05 361.49,189.78 361.72,190.48 361.96,191.15 362.20,191.79 362.43,192.39 362.67,192.96 362.90,193.49 363.14,194.00 363.38,194.46 363.61,194.90 363.85,195.31 364.09,195.68 364.32,196.02 364.56,196.34 364.79,196.63 365.03,196.89 365.27,197.13 365.50,197.35 365.74,197.54 365.98,197.72 366.21,197.88 366.45,198.02 366.68,198.14 366.92,198.26 367.16,198.35 367.39,198.44 367.63,198.52 367.86,198.59 368.10,198.65 368.34,198.70 368.57,198.74 368.81,198.78 369.05,198.81 369.28,198.84" fill="none" stroke="#3030d0" stroke-width="1.5" />
<line x1="314.20" y1="199.00" x2="389.80" y2="199.00" stroke="#e23a3a" stroke-width="1.2" />
<polyline points="314.00,231.00 314.47,231.00 314.95,231.00 315.42,231.00 315.89,231.00 316.36,231.00 316.84,231.00 317.31,231.00 317.78,231.00 318.25,231.00 318.73,231.00 319.20,231.00 319.67,231.00 320.14,231.00 320.61,231.00 321.09,231.00 321.56,231.00 322.03,231.00 322.50,231.00 322.98,231.00 323.45,231.00 323.92,231.00 324.40,231.00 324.87,231.00 325.34,231.00 325.81,231.00 326.29,231.00 326.76,231.00 327.23,231.00 327.70,231.00 328.18,231.00 328.65,231.00 329.12,231.00 329.59,231.00 330.06,231.00 330.54,231.00 331.01,230.99 331.48,230.99 331.95,230.99 332.43,230.98 332.90,230.97 333.37,230.96 333.85,230.95 334.32,230.93 334.79,230.90 335.26,230.87 335.74,230.83 336.21,230.78 336.68,230.72 337.15,230.65 337.62,230.56 338.10,230.46 338.57,230.35 339.04,230.22 339.51,230.08 339.99,229.93 340.46,229.77 340.93,229.60 341.40,229.42 341.88,229.25 342.35,229.08 342.82,228.92 343.30,228.77 343.77,228.64 344.24,228.54 344.71,228.46 345.19,228.42 345.66,228.40 346.13,228.42 346.60,228.46 347.07,228.54 347.55,228.64 348.02,228.77 348.49,228.92 348.96,229.08 349.44,229.25 349.91,229.42 350.38,229.60 350.85,229.77 351.33,229.93 351.80,230.08 352.27,230.22 352.75,230.35 353.22,230.46 353.69,230.56 354.16,230.65 354.64,230.72 355.11,230.78 355.58,230.83 356.05,230.87 356.52,230.90 357.00,230.93 357.47,230.95 357.94,230.96 358.41,230.97 358.89,230.98 359.36,230.99 359.83,230.99 360.30,230.99 360.78,231.00 361.25,231.00 361.72,231.00 362.20,231.00 362.67,231.00 363.14,231.00 363.61,231.00 364.09,231.00 364.56,231.00 365.03,231.00 365.50,231.00 365.98,231.00 366.45,231.00 366.92,231.00 367.39,231.00 367.86,231.00 368.34,231.00 368.81,231.00 369.28,231.00 369.75,231.00 370.23,231.00 370.70,231.00 371.17,231.00 371.65,231.00 372.12,231.00 372.59,231.00 373.06,231.00 373.54,231.00 374.01,231.00 374.48,231.00 374.95,231.00 375.43,231.00 375.90,231.00 376.37,231.00 376.84,231.00 377.31,231.00 377.79,231.00 378.26,231.00 378.73,231.00 379.20,231.00 379.68,231.00 380.15,231.00 380.62,231.00 381.10,231.00 381.57,231.00 382.04,231.00 382.51,231.00 382.99,231.00 383.46,231.00 383.93,231.00 384.40,231.00 384.88,231.00 385.35,231.00 385.82,231.00 386.29,231.00 386.76,231.00 387.24,231.00 387.71,231.00 388.18,231.00 388.65,231.00 389.13,231.00 389.60,231.00" fill="none" stroke="#8a8a8a" stroke-width="0.9" />
</g>
<rect x="314.20" y="133.00" width="75.60" height="106.80" fill="none" stroke="#555" stroke-width="1" />
<text x="318.60" y="143.20" font-size="7.2" fill="#333" stroke="#333" stroke-width="0.22" >O<tspan font-size="4.3" dy="1.4">1s</tspan></text>
<text x="316.20" y="161.70" font-size="6.4" fill="#444" textLength="20.8" lengthAdjust="spacingAndGlyphs" stroke="#444" stroke-width="0.22" >Charge</text>
<text x="315.00" y="194.30" font-size="6.4" fill="#444" textLength="28.7" lengthAdjust="spacingAndGlyphs" stroke="#444" stroke-width="0.22" >Discharge</text>
<text x="317.00" y="227.90" font-size="6.4" fill="#444" textLength="20.8" lengthAdjust="spacingAndGlyphs" stroke="#444" stroke-width="0.22" >Pristine</text>
<text x="365.00" y="186.20" font-size="7.0" fill="#333" stroke="#333" stroke-width="0.22" >CO<tspan font-size="4.3" dy="1.4">3</tspan><tspan font-size="4.3" dy="-4.6">2-</tspan></text>
<line x1="365.40" y1="179.50" x2="359.20" y2="173.00" stroke="#555" stroke-width="0.5" />
<line x1="375.00" y1="187.00" x2="375.60" y2="195.20" stroke="#555" stroke-width="0.5" />
<polygon points="358.40,172.20 360.90,173.20 359.40,174.40" fill="#555" stroke="none" stroke-width="0.5" />
<polygon points="375.60,196.40 374.50,194.20 376.70,194.20" fill="#555" stroke="none" stroke-width="0.5" />
<line x1="314.00" y1="239.80" x2="314.00" y2="241.80" stroke="#555" stroke-width="0.8" />
<text x="314.00" y="247.80" font-size="6.7" fill="#333" text-anchor="middle" stroke="#333" stroke-width="0.22" >524</text>
<line x1="323.45" y1="239.80" x2="323.45" y2="241.00" stroke="#555" stroke-width="0.6" />
<line x1="332.90" y1="239.80" x2="332.90" y2="241.80" stroke="#555" stroke-width="0.8" />
<text x="332.90" y="247.80" font-size="6.7" fill="#333" text-anchor="middle" stroke="#333" stroke-width="0.22" >528</text>
<line x1="342.35" y1="239.80" x2="342.35" y2="241.00" stroke="#555" stroke-width="0.6" />
<line x1="351.80" y1="239.80" x2="351.80" y2="241.80" stroke="#555" stroke-width="0.8" />
<text x="351.80" y="247.80" font-size="6.7" fill="#333" text-anchor="middle" stroke="#333" stroke-width="0.22" >532</text>
<line x1="361.25" y1="239.80" x2="361.25" y2="241.00" stroke="#555" stroke-width="0.6" />
<line x1="370.70" y1="239.80" x2="370.70" y2="241.80" stroke="#555" stroke-width="0.8" />
<text x="370.70" y="247.80" font-size="6.7" fill="#333" text-anchor="middle" stroke="#333" stroke-width="0.22" >536</text>
<line x1="380.15" y1="239.80" x2="380.15" y2="241.00" stroke="#555" stroke-width="0.6" />
<line x1="389.60" y1="239.80" x2="389.60" y2="241.80" stroke="#555" stroke-width="0.8" />
<text x="389.60" y="247.80" font-size="6.7" fill="#333" text-anchor="middle" stroke="#333" stroke-width="0.22" >540</text>
<text x="352.30" y="255.60" font-size="6.5" fill="#333" text-anchor="middle" textLength="57.3" lengthAdjust="spacingAndGlyphs" stroke="#333" stroke-width="0.22" >Binding energy (eV)</text>
<defs><clipPath id="clc"><rect x="409.9" y="132.7" width="126.89999999999998" height="107.0"/></clipPath></defs><g clip-path="url(#clc)">
<polyline points="409.21,166.20 409.73,166.20 410.25,166.20 410.78,166.20 411.30,166.20 411.82,166.20 412.34,166.20 412.86,166.20 413.38,166.20 413.91,166.20 414.43,166.20 414.95,166.20 415.47,166.20 415.99,166.20 416.51,166.20 417.03,166.20 417.56,166.20 418.08,166.20 418.60,166.20 419.12,166.20 419.64,166.20 420.16,166.20 420.69,166.20 421.21,166.20 421.73,166.20 422.25,166.20 422.77,166.20 423.29,166.20 423.81,166.20 424.34,166.20 424.86,166.20 425.38,166.19 425.90,166.19 426.42,166.19 426.94,166.19 427.46,166.19 427.99,166.19 428.51,166.18 429.03,166.18 429.55,166.18 430.07,166.17 430.59,166.17 431.11,166.16 431.64,166.15 432.16,166.14 432.68,166.13 433.20,166.12 433.72,166.11 434.24,166.09 434.77,166.07 435.29,166.05 435.81,166.03 436.33,166.00 436.85,165.97 437.37,165.93 437.89,165.89 438.42,165.85 438.94,165.80 439.46,165.75 439.98,165.69 440.50,165.62 441.02,165.54 441.54,165.46 442.07,165.37 442.59,165.27 443.11,165.17 443.63,165.05 444.15,164.92 444.67,164.79 445.20,164.64 445.72,164.49 446.24,164.32 446.76,164.14 447.28,163.95 447.80,163.76 448.32,163.55 448.85,163.33 449.37,163.10 449.89,162.87 450.41,162.62 450.93,162.37 451.45,162.11 451.97,161.85 452.50,161.59 453.02,161.32 453.54,161.04 454.06,160.77 454.58,160.50 455.10,160.24 455.63,159.98 456.15,159.72 456.67,159.47 457.19,159.24 457.71,159.01 458.23,158.80 458.75,158.60 459.28,158.42 459.80,158.26 460.32,158.11 460.84,157.99 461.36,157.89 461.88,157.81 462.40,157.75 462.93,157.71 463.45,157.70 463.97,157.71 464.49,157.75 465.01,157.81 465.53,157.89 466.06,157.99 466.58,158.11 467.10,158.26 467.62,158.42 468.14,158.60 468.66,158.80 469.18,159.01 469.71,159.24 470.23,159.47 470.75,159.72 471.27,159.98 471.79,160.24 472.31,160.50 472.83,160.77 473.36,161.04 473.88,161.32 474.40,161.59 474.92,161.85 475.44,162.11 475.96,162.37 476.49,162.62 477.01,162.87 477.53,163.10 478.05,163.33 478.57,163.55 479.09,163.76 479.61,163.95 480.14,164.14 480.66,164.32 481.18,164.49 481.70,164.64 482.22,164.79 482.74,164.92 483.26,165.05 483.79,165.17 484.31,165.27 484.83,165.37 485.35,165.46 485.87,165.54 486.39,165.62 486.92,165.69 487.44,165.75 487.96,165.80 488.48,165.85 489.00,165.89 489.52,165.93 490.04,165.97 490.57,166.00 491.09,166.03 491.61,166.05 492.13,166.07 492.65,166.09 493.17,166.11 493.69,166.12 494.22,166.13 494.74,166.14 495.26,166.15 495.78,166.16 496.30,166.17 496.82,166.17 497.35,166.18 497.87,166.18 498.39,166.18 498.91,166.19 499.43,166.19 499.95,166.19 500.47,166.19 501.00,166.19 501.52,166.19 502.04,166.20 502.56,166.20 503.08,166.20 503.60,166.20 504.12,166.20 504.65,166.20 505.17,166.20 505.69,166.20 506.21,166.20 506.73,166.20 507.25,166.20 507.78,166.20 508.30,166.20 508.82,166.20 509.34,166.20 509.86,166.20 510.38,166.20 510.90,166.20 511.43,166.20 511.95,166.20 512.47,166.20 512.99,166.20 513.51,166.20 514.03,166.20 514.55,166.20 515.08,166.20 515.60,166.20 516.12,166.20 516.64,166.20 517.16,166.20 517.68,166.20 518.21,166.20 518.73,166.20 519.25,166.20 519.77,166.20 520.29,166.20 520.81,166.20 521.33,166.20 521.86,166.20 522.38,166.20 522.90,166.20 523.42,166.20 523.94,166.20 524.46,166.20 524.99,166.20 525.51,166.20 526.03,166.20 526.55,166.20 527.07,166.20 527.59,166.20 528.11,166.20 528.64,166.20 529.16,166.20 529.68,166.20 530.20,166.20 530.72,166.20 531.24,166.20 531.76,166.20 532.29,166.20 532.81,166.20 533.33,166.20 533.85,166.20 534.37,166.20 534.89,166.20 535.41,166.20 535.94,166.20 536.46,166.20 536.98,166.20 537.50,166.20 538.02,166.20 538.54,166.20 539.07,166.20 539.59,166.20 540.11,166.20 540.63,166.20 541.15,166.20 541.67,166.20" fill="none" stroke="#dba2de" stroke-width="0.9" />
<polyline points="442.07,166.60 442.59,166.60 443.11,166.60 443.63,166.60 444.15,166.60 444.67,166.60 445.20,166.60 445.72,166.60 446.24,166.60 446.76,166.60 447.28,166.60 447.80,166.60 448.32,166.60 448.85,166.60 449.37,166.60 449.89,166.60 450.41,166.60 450.93,166.60 451.45,166.60 451.97,166.60 452.50,166.60 453.02,166.60 453.54,166.60 454.06,166.60 454.58,166.60 455.10,166.60 455.63,166.60 456.15,166.60 456.67,166.60 457.19,166.60 457.71,166.60 458.23,166.60 458.75,166.60 459.28,166.60 459.80,166.60 460.32,166.60 460.84,166.60 461.36,166.60 461.88,166.60 462.40,166.60 462.93,166.60 463.45,166.60 463.97,166.60 464.49,166.60 465.01,166.60 465.53,166.60 466.06,166.60 466.58,166.60 467.10,166.60 467.62,166.60 468.14,166.60 468.66,166.60 469.18,166.60 469.71,166.60 470.23,166.60 470.75,166.60 471.27,166.60 471.79,166.60 472.31,166.60 472.83,166.60 473.36,166.60 473.88,166.60 474.40,166.60 474.92,166.60 475.44,166.60 475.96,166.60 476.49,166.60 477.01,166.60 477.53,166.60 478.05,166.60 478.57,166.60 479.09,166.60 479.61,166.60 480.14,166.60 480.66,166.60 481.18,166.60 481.70,166.60 482.22,166.60 482.74,166.60" fill="none" stroke="#999" stroke-width="0.6" />
<polyline points="409.21,166.00 409.73,166.00 410.25,166.00 410.78,166.00 411.30,166.00 411.82,166.00 412.34,166.00 412.86,166.00 413.38,166.00 413.91,166.00 414.43,166.00 414.95,166.00 415.47,166.00 415.99,166.00 416.51,166.00 417.03,166.00 417.56,166.00 418.08,166.00 418.60,166.00 419.12,166.00 419.64,166.00 420.16,166.00 420.69,166.00 421.21,166.00 421.73,166.00 422.25,166.00 422.77,166.00 423.29,166.00 423.81,166.00 424.34,166.00 424.86,166.00 425.38,166.00 425.90,166.00 426.42,166.00 426.94,166.00 427.46,166.00 427.99,166.00 428.51,166.00 429.03,166.00 429.55,166.00 430.07,166.00 430.59,166.00 431.11,166.00 431.64,166.00 432.16,166.00 432.68,166.00 433.20,166.00 433.72,166.00 434.24,166.00 434.77,166.00 435.29,166.00 435.81,166.00 436.33,166.00 436.85,166.00 437.37,166.00 437.89,166.00 438.42,166.00 438.94,166.00 439.46,166.00 439.98,166.00 440.50,166.00 441.02,166.00 441.54,165.99 442.07,165.99 442.59,165.98 443.11,165.96 443.63,165.93 444.15,165.89 444.67,165.82 445.20,165.71 445.72,165.54 446.24,165.30 446.76,164.95 447.28,164.46 447.80,163.81 448.32,162.94 448.85,161.83 449.37,160.45 449.89,158.77 450.41,156.80 450.93,154.56 451.45,152.09 451.97,149.48 452.50,146.82 453.02,144.23 453.54,141.87 454.06,139.85 454.58,138.30 455.10,137.33 455.63,137.00 456.15,137.33 456.67,138.30 457.19,139.85 457.71,141.87 458.23,144.23 458.75,146.82 459.28,149.48 459.80,152.09 460.32,154.56 460.84,156.80 461.36,158.77 461.88,160.45 462.40,161.83 462.93,162.94 463.45,163.81 463.97,164.46 464.49,164.95 465.01,165.30 465.53,165.54 466.06,165.71 466.58,165.82 467.10,165.89 467.62,165.93 468.14,165.96 468.66,165.98 469.18,165.99 469.71,165.99 470.23,166.00 470.75,166.00 471.27,166.00 471.79,166.00 472.31,166.00 472.83,166.00 473.36,166.00 473.88,166.00 474.40,166.00 474.92,166.00 475.44,166.00 475.96,166.00 476.49,166.00 477.01,166.00 477.53,166.00 478.05,166.00 478.57,166.00 479.09,166.00 479.61,166.00 480.14,166.00 480.66,166.00 481.18,166.00 481.70,166.00 482.22,166.00 482.74,166.00 483.26,166.00 483.79,166.00 484.31,166.00 484.83,166.00 485.35,166.00 485.87,166.00 486.39,166.00 486.92,166.00 487.44,166.00 487.96,166.00 488.48,166.00 489.00,166.00 489.52,166.00 490.04,166.00 490.57,166.00 491.09,166.00 491.61,166.00 492.13,166.00 492.65,166.00 493.17,166.00 493.69,166.00 494.22,166.00 494.74,166.00 495.26,166.00 495.78,166.00 496.30,166.00 496.82,166.00 497.35,166.00 497.87,166.00 498.39,166.00 498.91,166.00 499.43,166.00 499.95,166.00 500.47,166.00 501.00,166.00 501.52,166.00 502.04,166.00 502.56,166.00 503.08,166.00 503.60,166.00 504.12,166.00 504.65,166.00 505.17,166.00 505.69,166.00 506.21,166.00 506.73,166.00 507.25,166.00 507.78,166.00 508.30,166.00 508.82,166.00 509.34,166.00 509.86,166.00 510.38,166.00 510.90,166.00 511.43,166.00 511.95,166.00 512.47,166.00 512.99,166.00 513.51,166.00 514.03,166.00 514.55,166.00 515.08,166.00 515.60,166.00 516.12,166.00 516.64,166.00 517.16,166.00 517.68,166.00 518.21,166.00 518.73,166.00 519.25,166.00 519.77,166.00 520.29,166.00 520.81,166.00 521.33,166.00 521.86,166.00 522.38,166.00 522.90,166.00 523.42,166.00 523.94,166.00 524.46,166.00 524.99,166.00 525.51,166.00 526.03,166.00 526.55,166.00 527.07,166.00 527.59,166.00 528.11,166.00 528.64,166.00 529.16,166.00 529.68,166.00 530.20,166.00 530.72,166.00 531.24,166.00 531.76,166.00 532.29,166.00 532.81,166.00 533.33,166.00 533.85,166.00 534.37,166.00 534.89,166.00 535.41,166.00 535.94,166.00 536.46,166.00 536.98,166.00 537.50,166.00 538.02,166.00 538.54,166.00 539.07,166.00 539.59,166.00 540.11,166.00 540.63,166.00 541.15,166.00 541.67,166.00" fill="none" stroke="#d8d8d8" stroke-width="0.8" stroke-dasharray="0.8,0.8"/>
<polyline points="409.21,166.70 409.73,166.70 410.25,166.70 410.78,166.70 411.30,166.70 411.82,166.70 412.34,166.70 412.86,166.70 413.38,166.70 413.91,166.70 414.43,166.70 414.95,166.70 415.47,166.70 415.99,166.70 416.51,166.70 417.03,166.70 417.56,166.70 418.08,166.70 418.60,166.70 419.12,166.70 419.64,166.70 420.16,166.70 420.69,166.70 421.21,166.70 421.73,166.70 422.25,166.70 422.77,166.70 423.29,166.70 423.81,166.70 424.34,166.70 424.86,166.70 425.38,166.70 425.90,166.70 426.42,166.70 426.94,166.70 427.46,166.70 427.99,166.70 428.51,166.70 429.03,166.70 429.55,166.70 430.07,166.70 430.59,166.70 431.11,166.70 431.64,166.70 432.16,166.70 432.68,166.70 433.20,166.70 433.72,166.70 434.24,166.70 434.77,166.70 435.29,166.70 435.81,166.70 436.33,166.70 436.85,166.70 437.37,166.70 437.89,166.70 438.42,166.70 438.94,166.70 439.46,166.70 439.98,166.70 440.50,166.70 441.02,166.70 441.54,166.70 442.07,166.70 442.59,166.70 443.11,166.70 443.63,166.69 444.15,166.68 444.67,166.67 445.20,166.64 445.72,166.59 446.24,166.50 446.76,166.37 447.28,166.16 447.80,165.84 448.32,165.38 448.85,164.73 449.37,163.84 449.89,162.68 450.41,161.20 450.93,159.41 451.45,157.31 451.97,154.97 452.50,152.47 453.02,149.94 453.54,147.54 454.06,145.44 454.58,143.80 455.10,142.76 455.63,142.40 456.15,142.76 456.67,143.80 457.19,145.44 457.71,147.54 458.23,149.94 458.75,152.47 459.28,154.97 459.80,157.31 460.32,159.41 460.84,161.20 461.36,162.68 461.88,163.84 462.40,164.73 462.93,165.37 463.45,165.82 463.97,166.12 464.49,166.32 465.01,166.44 465.53,166.51 466.06,166.54 466.58,166.56 467.10,166.56 467.62,166.56 468.14,166.55 468.66,166.54 469.18,166.53 469.71,166.51 470.23,166.50 470.75,166.49 471.27,166.47 471.79,166.46 472.31,166.45 472.83,166.43 473.36,166.42 473.88,166.41 474.40,166.39 474.92,166.38 475.44,166.37 475.96,166.35 476.49,166.34 477.01,166.33 477.53,166.31 478.05,166.30 478.57,166.29 479.09,166.27 479.61,166.26 480.14,166.25 480.66,166.23 481.18,166.22 481.70,166.21 482.22,166.19 482.74,166.18 483.26,166.17 483.79,166.15 484.31,166.14 484.83,166.13 485.35,166.11 485.87,166.10 486.39,166.09 486.92,166.07 487.44,166.06 487.96,166.05 488.48,166.03 489.00,166.02 489.52,166.01 490.04,165.99 490.57,165.98 491.09,165.97 491.61,165.95 492.13,165.94 492.65,165.93 493.17,165.91 493.69,165.90 494.22,165.89 494.74,165.87 495.26,165.86 495.78,165.85 496.30,165.83 496.82,165.82 497.35,165.81 497.87,165.79 498.39,165.78 498.91,165.77 499.43,165.75 499.95,165.74 500.47,165.73 501.00,165.71 501.52,165.70 502.04,165.69 502.56,165.67 503.08,165.66 503.60,165.65 504.12,165.63 504.65,165.62 505.17,165.61 505.69,165.59 506.21,165.58 506.73,165.57 507.25,165.55 507.78,165.54 508.30,165.53 508.82,165.51 509.34,165.50 509.86,165.49 510.38,165.47 510.90,165.46 511.43,165.45 511.95,165.43 512.47,165.42 512.99,165.41 513.51,165.39 514.03,165.38 514.55,165.37 515.08,165.35 515.60,165.34 516.12,165.33 516.64,165.31 517.16,165.30 517.68,165.29 518.21,165.27 518.73,165.26 519.25,165.25 519.77,165.23 520.29,165.22 520.81,165.21 521.33,165.19 521.86,165.18 522.38,165.17 522.90,165.15 523.42,165.14 523.94,165.13 524.46,165.11 524.99,165.10 525.51,165.10 526.03,165.10 526.55,165.10 527.07,165.10 527.59,165.10 528.11,165.10 528.64,165.10 529.16,165.10 529.68,165.10 530.20,165.10 530.72,165.10 531.24,165.10 531.76,165.10 532.29,165.10 532.81,165.10 533.33,165.10 533.85,165.10 534.37,165.10 534.89,165.10 535.41,165.10 535.94,165.10 536.46,165.10 536.98,165.10 537.50,165.10 538.02,165.10 538.54,165.10 539.07,165.10 539.59,165.10 540.11,165.10 540.63,165.10 541.15,165.10 541.67,165.10" fill="none" stroke="#3434c8" stroke-width="1.3" />
<polyline points="409.21,199.60 409.73,199.60 410.25,199.60 410.78,199.60 411.30,199.60 411.82,199.60 412.34,199.60 412.86,199.60 413.38,199.60 413.91,199.60 414.43,199.60 414.95,199.60 415.47,199.60 415.99,199.60 416.51,199.60 417.03,199.60 417.56,199.60 418.08,199.60 418.60,199.60 419.12,199.60 419.64,199.60 420.16,199.60 420.69,199.60 421.21,199.60 421.73,199.60 422.25,199.60 422.77,199.60 423.29,199.60 423.81,199.60 424.34,199.60 424.86,199.60 425.38,199.60 425.90,199.60 426.42,199.60 426.94,199.60 427.46,199.60 427.99,199.60 428.51,199.60 429.03,199.60 429.55,199.60 430.07,199.60 430.59,199.60 431.11,199.60 431.64,199.60 432.16,199.60 432.68,199.60 433.20,199.60 433.72,199.60 434.24,199.60 434.77,199.60 435.29,199.60 435.81,199.60 436.33,199.60 436.85,199.60 437.37,199.60 437.89,199.60 438.42,199.60 438.94,199.60 439.46,199.60 439.98,199.60 440.50,199.60 441.02,199.60 441.54,199.60 442.07,199.60 442.59,199.60 443.11,199.60 443.63,199.60 444.15,199.60 444.67,199.60 445.20,199.60 445.72,199.60 446.24,199.60 446.76,199.60 447.28,199.60 447.80,199.60 448.32,199.60 448.85,199.60 449.37,199.60 449.89,199.60 450.41,199.60 450.93,199.60 451.45,199.60 451.97,199.60 452.50,199.60 453.02,199.60 453.54,199.60 454.06,199.60 454.58,199.60 455.10,199.60 455.63,199.60 456.15,199.60 456.67,199.60 457.19,199.60 457.71,199.60 458.23,199.60 458.75,199.60 459.28,199.60 459.80,199.60 460.32,199.60 460.84,199.60 461.36,199.60 461.88,199.60 462.40,199.60 462.93,199.60 463.45,199.60 463.97,199.60 464.49,199.60 465.01,199.60 465.53,199.60 466.06,199.60 466.58,199.60 467.10,199.60 467.62,199.60 468.14,199.60 468.66,199.60 469.18,199.60 469.71,199.60 470.23,199.60 470.75,199.60 471.27,199.60 471.79,199.60 472.31,199.60 472.83,199.60 473.36,199.60 473.88,199.60 474.40,199.60 474.92,199.60 475.44,199.60 475.96,199.60 476.49,199.60 477.01,199.60 477.53,199.60 478.05,199.60 478.57,199.60 479.09,199.60 479.61,199.60 480.14,199.60 480.66,199.60 481.18,199.60 481.70,199.60 482.22,199.60 482.74,199.60 483.26,199.60 483.79,199.60 484.31,199.60 484.83,199.60 485.35,199.60 485.87,199.60 486.39,199.60 486.92,199.60 487.44,199.60 487.96,199.60 488.48,199.60 489.00,199.60 489.52,199.60 490.04,199.60 490.57,199.60 491.09,199.60 491.61,199.60 492.13,199.60 492.65,199.60 493.17,199.60 493.69,199.60 494.22,199.60 494.74,199.60 495.26,199.60 495.78,199.60 496.30,199.60 496.82,199.60 497.35,199.60 497.87,199.60 498.39,199.60 498.91,199.60 499.43,199.60 499.95,199.60 500.47,199.60 501.00,199.60 501.52,199.60 502.04,199.60 502.56,199.60 503.08,199.60 503.60,199.60 504.12,199.60 504.65,199.60 505.17,199.60 505.69,199.60 506.21,199.60 506.73,199.60 507.25,199.60 507.78,199.60 508.30,199.60 508.82,199.60 509.34,199.60 509.86,199.60 510.38,199.60 510.90,199.60 511.43,199.60 511.95,199.60 512.47,199.60 512.99,199.60 513.51,199.60 514.03,199.60 514.55,199.60 515.08,199.60 515.60,199.60 516.12,199.60 516.64,199.60 517.16,199.60 517.68,199.60 518.21,199.60 518.73,199.60 519.25,199.60 519.77,199.60 520.29,199.60 520.81,199.60 521.33,199.60 521.86,199.60 522.38,199.60 522.90,199.60 523.42,199.60 523.94,199.60 524.46,199.60 524.99,199.60 525.51,199.60 526.03,199.60 526.55,199.60 527.07,199.60 527.59,199.60 528.11,199.60 528.64,199.60 529.16,199.60 529.68,199.60 530.20,199.60 530.72,199.60 531.24,199.60 531.76,199.60 532.29,199.60 532.81,199.60 533.33,199.60 533.85,199.60 534.37,199.60 534.89,199.60 535.41,199.60 535.94,199.60 536.46,199.60 536.98,199.60 537.50,199.60 538.02,199.60 538.54,199.60 539.07,199.60 539.59,199.60 540.11,199.60 540.63,199.60 541.15,199.60 541.67,199.60" fill="none" stroke="#999" stroke-width="0.6" />
<polyline points="432.68,199.58 433.20,199.57 433.72,199.56 434.24,199.55 434.77,199.54 435.29,199.52 435.81,199.49 436.33,199.46 436.85,199.43 437.37,199.38 437.89,199.33 438.42,199.26 438.94,199.18 439.46,199.08 439.98,198.97 440.50,198.83 441.02,198.68 441.54,198.50 442.07,198.29 442.59,198.05 443.11,197.79 443.63,197.49 444.15,197.15 444.67,196.79 445.20,196.39 445.72,195.95 446.24,195.49 446.76,194.99 447.28,194.47 447.80,193.92 448.32,193.36 448.85,192.79 449.37,192.21 449.89,191.64 450.41,191.08 450.93,190.53 451.45,190.02 451.97,189.54 452.50,189.10 453.02,188.72 453.54,188.40 454.06,188.14 454.58,187.95 455.10,187.84 455.63,187.80 456.15,187.84 456.67,187.95 457.19,188.14 457.71,188.40 458.23,188.72 458.75,189.10 459.28,189.54 459.80,190.02 460.32,190.53 460.84,191.08 461.36,191.64 461.88,192.21 462.40,192.79 462.93,193.36 463.45,193.92 463.97,194.47 464.49,194.99 465.01,195.49 465.53,195.95 466.06,196.39 466.58,196.79 467.10,197.15 467.62,197.49 468.14,197.79 468.66,198.05 469.18,198.29 469.71,198.50 470.23,198.68 470.75,198.83 471.27,198.97 471.79,199.08 472.31,199.18 472.83,199.26 473.36,199.33 473.88,199.38 474.40,199.43 474.92,199.46 475.44,199.49 475.96,199.52 476.49,199.54 477.01,199.55 477.53,199.56 478.05,199.57 478.57,199.58 479.09,199.58 479.61,199.59 480.14,199.59 480.66,199.59 481.18,199.60 481.70,199.60" fill="none" stroke="#3838c2" stroke-width="1.3" />
<polyline points="453.54,199.57 454.06,199.56 454.58,199.55 455.10,199.54 455.63,199.52 456.15,199.50 456.67,199.48 457.19,199.45 457.71,199.42 458.23,199.37 458.75,199.33 459.28,199.27 459.80,199.21 460.32,199.13 460.84,199.05 461.36,198.95 461.88,198.85 462.40,198.73 462.93,198.60 463.45,198.46 463.97,198.30 464.49,198.14 465.01,197.96 465.53,197.77 466.06,197.58 466.58,197.38 467.10,197.18 467.62,196.97 468.14,196.77 468.66,196.57 469.18,196.37 469.71,196.19 470.23,196.02 470.75,195.86 471.27,195.73 471.79,195.61 472.31,195.52 472.83,195.45 473.36,195.41 473.88,195.40 474.40,195.41 474.92,195.45 475.44,195.52 475.96,195.61 476.49,195.73 477.01,195.86 477.53,196.02 478.05,196.19 478.57,196.37 479.09,196.57 479.61,196.77 480.14,196.97 480.66,197.18 481.18,197.38 481.70,197.58 482.22,197.77 482.74,197.96 483.26,198.14 483.79,198.30 484.31,198.46 484.83,198.60 485.35,198.73 485.87,198.85 486.39,198.95 486.92,199.05 487.44,199.13 487.96,199.21 488.48,199.27 489.00,199.33 489.52,199.37 490.04,199.42 490.57,199.45 491.09,199.48 491.61,199.50 492.13,199.52 492.65,199.54 493.17,199.55 493.69,199.56 494.22,199.57 494.74,199.58 495.26,199.58 495.78,199.59 496.30,199.59 496.82,199.59" fill="none" stroke="#2e9c3e" stroke-width="1.1" />
<polyline points="478.57,199.58 479.09,199.58 479.61,199.57 480.14,199.56 480.66,199.54 481.18,199.53 481.70,199.50 482.22,199.47 482.74,199.44 483.26,199.39 483.79,199.33 484.31,199.26 484.83,199.17 485.35,199.06 485.87,198.93 486.39,198.77 486.92,198.58 487.44,198.36 487.96,198.09 488.48,197.79 489.00,197.43 489.52,197.02 490.04,196.56 490.57,196.04 491.09,195.45 491.61,194.79 492.13,194.07 492.65,193.28 493.17,192.43 493.69,191.51 494.22,190.54 494.74,189.51 495.26,188.44 495.78,187.33 496.30,186.21 496.82,185.07 497.35,183.95 497.87,182.84 498.39,181.77 498.91,180.76 499.43,179.82 499.95,178.96 500.47,178.21 501.00,177.58 501.52,177.07 502.04,176.70 502.56,176.48 503.08,176.40 503.60,176.48 504.12,176.70 504.65,177.07 505.17,177.58 505.69,178.21 506.21,178.96 506.73,179.82 507.25,180.76 507.78,181.77 508.30,182.84 508.82,183.95 509.34,185.07 509.86,186.21 510.38,187.33 510.90,188.44 511.43,189.51 511.95,190.54 512.47,191.51 512.99,192.43 513.51,193.28 514.03,194.07 514.55,194.79 515.08,195.45 515.60,196.04 516.12,196.56 516.64,197.02 517.16,197.43 517.68,197.79 518.21,198.09 518.73,198.36 519.25,198.58 519.77,198.77 520.29,198.93 520.81,199.06 521.33,199.17 521.86,199.26 522.38,199.33 522.90,199.39 523.42,199.44 523.94,199.47 524.46,199.50 524.99,199.53 525.51,199.54 526.03,199.56 526.55,199.57 527.07,199.58 527.59,199.58 528.11,199.59" fill="none" stroke="#d8404a" stroke-width="1.3" />
<polyline points="409.21,235.90 409.73,235.90 410.25,235.90 410.78,235.90 411.30,235.90 411.82,235.90 412.34,235.90 412.86,235.90 413.38,235.90 413.91,235.90 414.43,235.90 414.95,235.90 415.47,235.90 415.99,235.90 416.51,235.90 417.03,235.90 417.56,235.90 418.08,235.90 418.60,235.90 419.12,235.90 419.64,235.90 420.16,235.90 420.69,235.90 421.21,235.90 421.73,235.90 422.25,235.90 422.77,235.90 423.29,235.90 423.81,235.90 424.34,235.90 424.86,235.90 425.38,235.90 425.90,235.90 426.42,235.90 426.94,235.90 427.46,235.90 427.99,235.90 428.51,235.90 429.03,235.90 429.55,235.90 430.07,235.90 430.59,235.90 431.11,235.90 431.64,235.90 432.16,235.90 432.68,235.90 433.20,235.90 433.72,235.90 434.24,235.90 434.77,235.90 435.29,235.90 435.81,235.90 436.33,235.90 436.85,235.90 437.37,235.90 437.89,235.90 438.42,235.90 438.94,235.90 439.46,235.90 439.98,235.90 440.50,235.90 441.02,235.90 441.54,235.90 442.07,235.90 442.59,235.90 443.11,235.90 443.63,235.90 444.15,235.90 444.67,235.90 445.20,235.90 445.72,235.90 446.24,235.90 446.76,235.90 447.28,235.90 447.80,235.90 448.32,235.90 448.85,235.90 449.37,235.90 449.89,235.90 450.41,235.90 450.93,235.90 451.45,235.90 451.97,235.90 452.50,235.90 453.02,235.90 453.54,235.90 454.06,235.90 454.58,235.90 455.10,235.90 455.63,235.90 456.15,235.90 456.67,235.90 457.19,235.90 457.71,235.90 458.23,235.90 458.75,235.90 459.28,235.90 459.80,235.90 460.32,235.90 460.84,235.90 461.36,235.90 461.88,235.90 462.40,235.90 462.93,235.90 463.45,235.90 463.97,235.90 464.49,235.90 465.01,235.90 465.53,235.90 466.06,235.90 466.58,235.90 467.10,235.90 467.62,235.90 468.14,235.90 468.66,235.90 469.18,235.90 469.71,235.90 470.23,235.90 470.75,235.90 471.27,235.90 471.79,235.90 472.31,235.90 472.83,235.90 473.36,235.90 473.88,235.90 474.40,235.90 474.92,235.90 475.44,235.90 475.96,235.90 476.49,235.90 477.01,235.90 477.53,235.90 478.05,235.90 478.57,235.90 479.09,235.90 479.61,235.90 480.14,235.90 480.66,235.90 481.18,235.90 481.70,235.90 482.22,235.90 482.74,235.90 483.26,235.90 483.79,235.90 484.31,235.90 484.83,235.90 485.35,235.90 485.87,235.90 486.39,235.90 486.92,235.90 487.44,235.90 487.96,235.90 488.48,235.90 489.00,235.90 489.52,235.90 490.04,235.90 490.57,235.90 491.09,235.90 491.61,235.90 492.13,235.90 492.65,235.90 493.17,235.90 493.69,235.90 494.22,235.90 494.74,235.90 495.26,235.90 495.78,235.90 496.30,235.90 496.82,235.90 497.35,235.90 497.87,235.90 498.39,235.90 498.91,235.90 499.43,235.90 499.95,235.90 500.47,235.90 501.00,235.90 501.52,235.90 502.04,235.90 502.56,235.90 503.08,235.90 503.60,235.90 504.12,235.90 504.65,235.90 505.17,235.90 505.69,235.90 506.21,235.90 506.73,235.90 507.25,235.90 507.78,235.90 508.30,235.90 508.82,235.90 509.34,235.90 509.86,235.90 510.38,235.90 510.90,235.90 511.43,235.90 511.95,235.90 512.47,235.90 512.99,235.90 513.51,235.90 514.03,235.90 514.55,235.90 515.08,235.90 515.60,235.90 516.12,235.90 516.64,235.90 517.16,235.90 517.68,235.90 518.21,235.90 518.73,235.90 519.25,235.90 519.77,235.90 520.29,235.90 520.81,235.90 521.33,235.90 521.86,235.90 522.38,235.90 522.90,235.90 523.42,235.90 523.94,235.90 524.46,235.90 524.99,235.90 525.51,235.90 526.03,235.90 526.55,235.90 527.07,235.90 527.59,235.90 528.11,235.90 528.64,235.90 529.16,235.90 529.68,235.90 530.20,235.90 530.72,235.90 531.24,235.90 531.76,235.90 532.29,235.90 532.81,235.90 533.33,235.90 533.85,235.90 534.37,235.90 534.89,235.90 535.41,235.90 535.94,235.90 536.46,235.90 536.98,235.90 537.50,235.90 538.02,235.90 538.54,235.90 539.07,235.90 539.59,235.90 540.11,235.90 540.63,235.90 541.15,235.90 541.67,235.90" fill="none" stroke="#999" stroke-width="0.6" />
<polyline points="409.21,235.90 409.73,235.90 410.25,235.90 410.78,235.90 411.30,235.90 411.82,235.90 412.34,235.90 412.86,235.90 413.38,235.90 413.91,235.90 414.43,235.90 414.95,235.90 415.47,235.90 415.99,235.90 416.51,235.90 417.03,235.90 417.56,235.90 418.08,235.90 418.60,235.90 419.12,235.90 419.64,235.90 420.16,235.90 420.69,235.90 421.21,235.90 421.73,235.90 422.25,235.90 422.77,235.90 423.29,235.90 423.81,235.90 424.34,235.90 424.86,235.89 425.38,235.89 425.90,235.89 426.42,235.89 426.94,235.89 427.46,235.89 427.99,235.88 428.51,235.88 429.03,235.88 429.55,235.87 430.07,235.87 430.59,235.86 431.11,235.86 431.64,235.85 432.16,235.84 432.68,235.83 433.20,235.82 433.72,235.81 434.24,235.80 434.77,235.78 435.29,235.77 435.81,235.75 436.33,235.73 436.85,235.71 437.37,235.68 437.89,235.65 438.42,235.62 438.94,235.59 439.46,235.55 439.98,235.51 440.50,235.47 441.02,235.42 441.54,235.37 442.07,235.31 442.59,235.25 443.11,235.19 443.63,235.13 444.15,235.05 444.67,234.98 445.20,234.90 445.72,234.82 446.24,234.73 446.76,234.65 447.28,234.55 447.80,234.46 448.32,234.36 448.85,234.26 449.37,234.16 449.89,234.06 450.41,233.96 450.93,233.86 451.45,233.76 451.97,233.66 452.50,233.56 453.02,233.46 453.54,233.37 454.06,233.28 454.58,233.19 455.10,233.11 455.63,233.04 456.15,232.97 456.67,232.91 457.19,232.86 457.71,232.81 458.23,232.77 458.75,232.74 459.28,232.72 459.80,232.70 460.32,232.70 460.84,232.70 461.36,232.72 461.88,232.74 462.40,232.77 462.93,232.81 463.45,232.86 463.97,232.91 464.49,232.97 465.01,233.04 465.53,233.11 466.06,233.19 466.58,233.28 467.10,233.37 467.62,233.46 468.14,233.56 468.66,233.66 469.18,233.76 469.71,233.86 470.23,233.96 470.75,234.06 471.27,234.16 471.79,234.26 472.31,234.36 472.83,234.46 473.36,234.55 473.88,234.65 474.40,234.73 474.92,234.82 475.44,234.90 475.96,234.98 476.49,235.05 477.01,235.13 477.53,235.19 478.05,235.25 478.57,235.31 479.09,235.37 479.61,235.42 480.14,235.47 480.66,235.51 481.18,235.55 481.70,235.59 482.22,235.62 482.74,235.65 483.26,235.68 483.79,235.71 484.31,235.73 484.83,235.75 485.35,235.77 485.87,235.78 486.39,235.80 486.92,235.81 487.44,235.82 487.96,235.83 488.48,235.84 489.00,235.85 489.52,235.86 490.04,235.86 490.57,235.87 491.09,235.87 491.61,235.88 492.13,235.88 492.65,235.88 493.17,235.89 493.69,235.89 494.22,235.89 494.74,235.89 495.26,235.89 495.78,235.89 496.30,235.90 496.82,235.90 497.35,235.90 497.87,235.90 498.39,235.90 498.91,235.90 499.43,235.90 499.95,235.90 500.47,235.90 501.00,235.90 501.52,235.90 502.04,235.90 502.56,235.90 503.08,235.90 503.60,235.90 504.12,235.90 504.65,235.90 505.17,235.90 505.69,235.90 506.21,235.90 506.73,235.90 507.25,235.90 507.78,235.90 508.30,235.90 508.82,235.90 509.34,235.90 509.86,235.90 510.38,235.90 510.90,235.90 511.43,235.90 511.95,235.90 512.47,235.90 512.99,235.90 513.51,235.90 514.03,235.90 514.55,235.90 515.08,235.90 515.60,235.90 516.12,235.90 516.64,235.90 517.16,235.90 517.68,235.90 518.21,235.90 518.73,235.90 519.25,235.90 519.77,235.90 520.29,235.90 520.81,235.90 521.33,235.90 521.86,235.90 522.38,235.90 522.90,235.90 523.42,235.90 523.94,235.90 524.46,235.90 524.99,235.90 525.51,235.90 526.03,235.90 526.55,235.90 527.07,235.90 527.59,235.90 528.11,235.90 528.64,235.90 529.16,235.90 529.68,235.90 530.20,235.90 530.72,235.90 531.24,235.90 531.76,235.90 532.29,235.90 532.81,235.90 533.33,235.90 533.85,235.90 534.37,235.90 534.89,235.90 535.41,235.90 535.94,235.90 536.46,235.90 536.98,235.90 537.50,235.90 538.02,235.90 538.54,235.90 539.07,235.90 539.59,235.90 540.11,235.90 540.63,235.90 541.15,235.90 541.67,235.90" fill="none" stroke="#e2a2dc" stroke-width="0.9" />
<polyline points="445.20,235.89 445.72,235.88 446.24,235.87 446.76,235.84 447.28,235.79 447.80,235.72 448.32,235.60 448.85,235.41 449.37,235.12 449.89,234.70 450.41,234.10 450.93,233.28 451.45,232.19 451.97,230.80 452.50,229.07 453.02,227.00 453.54,224.64 454.06,222.03 454.58,219.28 455.10,216.54 455.63,213.96 456.15,211.72 456.67,209.98 457.19,208.88 457.71,208.50 458.23,208.88 458.75,209.98 459.28,211.72 459.80,213.96 460.32,216.54 460.84,219.28 461.36,222.03 461.88,224.64 462.40,227.00 462.93,229.07 463.45,230.80 463.97,232.19 464.49,233.28 465.01,234.10 465.53,234.70 466.06,235.12 466.58,235.41 467.10,235.60 467.62,235.72 468.14,235.79 468.66,235.84 469.18,235.87 469.71,235.88 470.23,235.89 470.75,235.90" fill="none" stroke="#3434c8" stroke-width="1.3" />
<polyline points="409.21,235.90 409.73,235.90 410.25,235.90 410.78,235.90 411.30,235.90 411.82,235.90 412.34,235.90 412.86,235.90 413.38,235.90 413.91,235.90 414.43,235.90 414.95,235.90 415.47,235.90 415.99,235.90 416.51,235.90 417.03,235.90 417.56,235.90 418.08,235.90 418.60,235.90 419.12,235.90 419.64,235.90 420.16,235.90 420.69,235.90 421.21,235.90 421.73,235.90 422.25,235.90 422.77,235.90 423.29,235.90 423.81,235.90 424.34,235.90 424.86,235.90 425.38,235.90 425.90,235.90 426.42,235.90 426.94,235.90 427.46,235.90 427.99,235.90 428.51,235.90 429.03,235.90 429.55,235.90 430.07,235.90 430.59,235.90 431.11,235.90 431.64,235.90 432.16,235.90 432.68,235.90 433.20,235.90 433.72,235.90 434.24,235.90 434.77,235.90 435.29,235.90 435.81,235.90 436.33,235.90 436.85,235.90 437.37,235.90 437.89,235.90 438.42,235.90 438.94,235.90 439.46,235.90 439.98,235.90 440.50,235.90 441.02,235.90 441.54,235.90 442.07,235.90 442.59,235.90 443.11,235.90 443.63,235.89 444.15,235.89 444.67,235.88 445.20,235.86 445.72,235.83 446.24,235.79 446.76,235.71 447.28,235.60 447.80,235.43 448.32,235.18 448.85,234.83 449.37,234.34 449.89,233.67 450.41,232.79 450.93,231.66 451.45,230.25 451.97,228.54 452.50,226.54 453.02,224.26 453.54,221.75 454.06,219.09 454.58,216.39 455.10,213.76 455.63,211.35 456.15,209.30 456.67,207.72 457.19,206.74 457.71,206.40 458.23,206.74 458.75,207.72 459.28,209.30 459.80,211.35 460.32,213.76 460.84,216.39 461.36,219.09 461.88,221.75 462.40,224.26 462.93,226.54 463.45,228.54 463.97,230.25 464.49,231.66 465.01,232.79 465.53,233.67 466.06,234.34 466.58,234.83 467.10,235.18 467.62,235.43 468.14,235.60 468.66,235.71 469.18,235.79 469.71,235.83 470.23,235.86 470.75,235.88 471.27,235.89 471.79,235.89 472.31,235.90 472.83,235.90 473.36,235.90 473.88,235.90 474.40,235.90 474.92,235.90 475.44,235.90 475.96,235.90 476.49,235.90 477.01,235.90 477.53,235.90 478.05,235.90 478.57,235.90 479.09,235.90 479.61,235.90 480.14,235.90 480.66,235.90 481.18,235.90 481.70,235.90 482.22,235.90 482.74,235.90 483.26,235.90 483.79,235.90 484.31,235.90 484.83,235.90 485.35,235.90 485.87,235.90 486.39,235.90 486.92,235.90 487.44,235.90 487.96,235.90 488.48,235.90 489.00,235.90 489.52,235.90 490.04,235.90 490.57,235.90 491.09,235.90 491.61,235.90 492.13,235.90 492.65,235.90 493.17,235.90 493.69,235.90 494.22,235.90 494.74,235.90 495.26,235.90 495.78,235.90 496.30,235.90 496.82,235.90 497.35,235.90 497.87,235.90 498.39,235.90 498.91,235.90 499.43,235.90 499.95,235.90 500.47,235.90 501.00,235.90 501.52,235.90 502.04,235.90 502.56,235.90 503.08,235.90 503.60,235.90 504.12,235.90 504.65,235.90 505.17,235.90 505.69,235.90 506.21,235.90 506.73,235.90 507.25,235.90 507.78,235.90 508.30,235.90 508.82,235.90 509.34,235.90 509.86,235.90 510.38,235.90 510.90,235.90 511.43,235.90 511.95,235.90 512.47,235.90 512.99,235.90 513.51,235.90 514.03,235.90 514.55,235.90 515.08,235.90 515.60,235.90 516.12,235.90 516.64,235.90 517.16,235.90 517.68,235.90 518.21,235.90 518.73,235.90 519.25,235.90 519.77,235.90 520.29,235.90 520.81,235.90 521.33,235.90 521.86,235.90 522.38,235.90 522.90,235.90 523.42,235.90 523.94,235.90 524.46,235.90 524.99,235.90 525.51,235.90 526.03,235.90 526.55,235.90 527.07,235.90 527.59,235.90 528.11,235.90 528.64,235.90 529.16,235.90 529.68,235.90 530.20,235.90 530.72,235.90 531.24,235.90 531.76,235.90 532.29,235.90 532.81,235.90 533.33,235.90 533.85,235.90 534.37,235.90 534.89,235.90 535.41,235.90 535.94,235.90 536.46,235.90 536.98,235.90 537.50,235.90 538.02,235.90 538.54,235.90 539.07,235.90 539.59,235.90 540.11,235.90 540.63,235.90 541.15,235.90 541.67,235.90" fill="none" stroke="#d8d8d8" stroke-width="0.7" stroke-dasharray="0.8,0.8"/>
</g>
<rect x="409.90" y="132.70" width="126.90" height="107.00" fill="none" stroke="#555" stroke-width="1" />
<text x="411.80" y="142.00" font-size="7.2" fill="#333" stroke="#333" stroke-width="0.22" >C<tspan font-size="4.3" dy="1.4">1s</tspan></text>
<text x="411.30" y="163.90" font-size="6.8" fill="#444" textLength="22.4" lengthAdjust="spacingAndGlyphs" stroke="#444" stroke-width="0.22" >Charge</text>
<text x="411.30" y="196.00" font-size="6.8" fill="#444" textLength="30.7" lengthAdjust="spacingAndGlyphs" stroke="#444" stroke-width="0.22" >Discharge</text>
<text x="411.70" y="233.00" font-size="6.8" fill="#444" textLength="23.1" lengthAdjust="spacingAndGlyphs" stroke="#444" stroke-width="0.22" >Pristine</text>
<text x="455.50" y="186.00" font-size="7.4" fill="#3838c2" text-anchor="middle" stroke="#3838c2" stroke-width="0.22" >C-C</text>
<text x="475.30" y="193.00" font-size="7.4" fill="#2e9c3e" text-anchor="middle" stroke="#2e9c3e" stroke-width="0.22" >C-O</text>
<text x="470.50" y="229.00" font-size="6.8" fill="#e6a0e0" text-anchor="middle" stroke="#e6a0e0" stroke-width="0.22" >C-N</text>
<text x="502.70" y="197.20" font-size="7.0" fill="#d8404a" text-anchor="middle" stroke="#d8404a" stroke-width="0.22" >O-C-O</text>
<text x="502.70" y="189.00" font-size="7.0" fill="#d8404a" text-anchor="middle" stroke="#d8404a" stroke-width="0.22" >O</text>
<line x1="502.70" y1="189.40" x2="502.70" y2="191.80" stroke="#d8404a" stroke-width="0.8" />
<line x1="425.90" y1="239.70" x2="425.90" y2="241.70" stroke="#555" stroke-width="0.8" />
<text x="425.90" y="249.00" font-size="6.7" fill="#333" text-anchor="middle" stroke="#333" stroke-width="0.22" >282</text>
<line x1="457.19" y1="239.70" x2="457.19" y2="241.70" stroke="#555" stroke-width="0.8" />
<text x="457.19" y="249.00" font-size="6.7" fill="#333" text-anchor="middle" stroke="#333" stroke-width="0.22" >285</text>
<line x1="488.48" y1="239.70" x2="488.48" y2="241.70" stroke="#555" stroke-width="0.8" />
<text x="488.48" y="249.00" font-size="6.7" fill="#333" text-anchor="middle" stroke="#333" stroke-width="0.22" >288</text>
<line x1="519.77" y1="239.70" x2="519.77" y2="241.70" stroke="#555" stroke-width="0.8" />
<text x="519.77" y="249.00" font-size="6.7" fill="#333" text-anchor="middle" stroke="#333" stroke-width="0.22" >291</text>
<line x1="410.25" y1="239.70" x2="410.25" y2="240.90" stroke="#555" stroke-width="0.6" />
<line x1="441.54" y1="239.70" x2="441.54" y2="240.90" stroke="#555" stroke-width="0.6" />
<line x1="472.83" y1="239.70" x2="472.83" y2="240.90" stroke="#555" stroke-width="0.6" />
<line x1="504.12" y1="239.70" x2="504.12" y2="240.90" stroke="#555" stroke-width="0.6" />
<line x1="535.41" y1="239.70" x2="535.41" y2="240.90" stroke="#555" stroke-width="0.6" />
<text x="476.20" y="257.00" font-size="6.9" fill="#333" text-anchor="middle" textLength="61.1" lengthAdjust="spacingAndGlyphs" stroke="#333" stroke-width="0.22" >Binding energy (eV)</text>
<polyline points="25.30,313.25 25.90,312.82 26.49,312.41 27.09,312.03 27.69,311.66 28.29,311.32 28.88,310.99 29.48,310.68 30.08,310.39 30.67,310.12 31.27,309.85 31.87,309.61 32.47,309.37 33.06,309.15 33.66,308.94 34.26,308.75 34.85,308.56 35.45,308.38 36.05,308.21 36.64,308.06 37.24,307.91 37.84,307.76 38.44,307.63 39.03,307.50 39.63,307.38 40.23,307.27 40.82,307.16 41.42,307.06 42.02,306.97 42.62,306.87 43.21,306.79 43.81,306.71 44.41,306.63 45.00,306.56 45.60,306.49 46.20,306.42 46.80,306.36 47.39,306.30 47.99,306.25 48.59,306.20 49.18,306.15 49.78,306.10 50.38,306.06 50.97,306.01 51.57,305.98 52.17,305.94 52.77,305.90 53.36,305.87 53.96,305.84 54.56,305.81 55.15,305.78 55.75,305.75 56.35,305.73 56.95,305.70 57.54,305.68 58.14,305.66 58.74,305.64 59.33,305.62 59.93,305.60 60.53,305.58 61.12,305.57 61.72,305.55 62.32,305.54 62.92,305.52 63.51,305.51 64.11,305.50 64.71,305.49 65.30,305.48 65.90,305.47 66.50,305.46 67.10,305.45 67.69,305.44 68.29,305.43 68.89,305.42 69.48,305.41 70.08,305.41 70.68,305.40 71.28,305.39 71.87,305.39 72.47,305.38 73.07,305.38 73.66,305.37 74.26,305.37 74.86,305.36 75.45,305.36 76.05,305.35 76.65,305.35 77.25,305.35 77.84,305.34 78.44,305.34 79.04,305.34 79.63,305.33 80.23,305.33 80.83,305.33 81.43,305.33 82.02,305.32 82.62,305.32 83.22,305.32 83.81,305.32 84.41,305.32 85.01,305.31 85.61,305.31 86.20,305.31 86.80,305.31 87.40,305.31 87.99,305.31 88.59,305.31 89.19,305.30 89.78,305.30 90.38,305.30 90.98,305.30 91.58,305.30 92.17,305.30 92.77,305.30 93.37,305.30 93.96,305.30 94.56,305.30 95.16,305.30 95.76,305.30 96.35,305.29 96.95,305.29 97.55,305.29 98.14,305.29 98.74,305.29 99.34,305.29 99.94,305.29 100.53,305.29 101.13,305.29 101.73,305.29 102.32,305.29 102.92,305.29 103.52,305.29 104.11,305.29 104.71,305.29 105.31,305.29 105.91,305.29 106.50,305.29 107.10,305.29 107.70,305.29 108.29,305.29 108.89,305.29 109.49,305.29 110.09,305.29 110.68,305.29 111.28,305.29 111.88,305.29 112.47,305.29 113.07,305.29 113.67,305.29 114.27,305.29 114.86,305.29 115.46,305.29 116.06,305.29 116.65,305.29 117.25,305.29 117.85,305.29 118.44,305.29 119.04,305.29 119.64,305.29 120.24,305.29 120.83,305.29 121.43,305.29 122.03,305.28 122.62,305.28 123.22,305.28 123.82,305.28 124.42,305.28 125.01,305.28 125.61,305.28 126.21,305.28 126.80,305.28 127.40,305.28 128.00,305.28 128.60,305.28 129.19,305.28 129.79,305.28 130.39,305.28 130.98,305.28 131.58,305.28 132.18,305.28 132.77,305.28 133.37,305.28 133.97,305.28 134.57,305.28 135.16,305.28 135.76,305.28 136.36,305.28 136.95,305.28 137.55,305.28 138.15,305.28 138.75,305.28 139.34,305.28 139.94,305.28 140.54,305.28 141.13,305.28 141.73,305.28 142.33,305.28 142.93,305.28 143.52,305.28 144.12,305.28 144.72,305.28 145.31,305.28 145.91,305.28 146.51,305.28 147.10,305.28 147.70,305.28 148.30,305.28 148.90,305.28 149.49,305.28 150.09,305.28 150.69,305.28 151.28,305.28 151.88,305.28 152.48,305.28 153.08,305.28 153.67,305.28 154.27,305.28 154.87,305.28 155.46,305.28 156.06,305.28 156.66,305.28 157.26,305.28 157.85,305.28 158.45,305.28 159.05,305.28 159.64,305.28 160.24,305.28 160.84,305.28 161.44,305.28 162.03,305.28 162.63,305.28 163.23,305.28 163.82,305.28 164.42,305.28 165.02,305.28 165.61,305.28 166.21,305.28 166.81,305.28 167.41,305.28 168.00,305.28 168.60,305.28" fill="none" stroke="#111111" stroke-width="1.6" stroke-linejoin="round" stroke-linecap="round"/>
<polyline points="25.30,313.25 25.90,312.81 26.49,312.41 27.09,312.05 27.69,311.71 28.29,311.39 28.88,311.11 29.48,310.84 30.08,310.60 30.67,310.38 31.27,310.17 31.87,309.98 32.47,309.81 33.06,309.65 33.66,309.50 34.26,309.37 34.85,309.24 35.45,309.13 36.05,309.02 36.64,308.92 37.24,308.83 37.84,308.75 38.44,308.68 39.03,308.61 39.63,308.54 40.23,308.48 40.82,308.43 41.42,308.38 42.02,308.33 42.62,308.29 43.21,308.25 43.81,308.22 44.41,308.18 45.00,308.15 45.60,308.13 46.20,308.10 46.80,308.08 47.39,308.06 47.99,308.04 48.59,308.02 49.18,308.00 49.78,307.98 50.38,307.97 50.97,307.96 51.57,307.95 52.17,307.93 52.77,307.92 53.36,307.91 53.96,307.91 54.56,307.90 55.15,307.89 55.75,307.88 56.35,307.88 56.95,307.87 57.54,307.87 58.14,307.86 58.74,307.86 59.33,307.85 59.93,307.85 60.53,307.85 61.12,307.84 61.72,307.84 62.32,307.84 62.92,307.83 63.51,307.83 64.11,307.83 64.71,307.83 65.30,307.83 65.90,307.83 66.50,307.82 67.10,307.82 67.69,307.82 68.29,307.82 68.89,307.82 69.48,307.82 70.08,307.82 70.68,307.82 71.28,307.82 71.87,307.81 72.47,307.81 73.07,307.81 73.66,307.81 74.26,307.81 74.86,307.81 75.45,307.81 76.05,307.81 76.65,307.81 77.25,307.81 77.84,307.81 78.44,307.81 79.04,307.81 79.63,307.81 80.23,307.81 80.83,307.81 81.43,307.81 82.02,307.81 82.62,307.81 83.22,307.81 83.81,307.81 84.41,307.81 85.01,307.81 85.61,307.81 86.20,307.81 86.80,307.81 87.40,307.81 87.99,307.81 88.59,307.81 89.19,307.81 89.78,307.81 90.38,307.81 90.98,307.81 91.58,307.81 92.17,307.81 92.77,307.81 93.37,307.81 93.96,307.81 94.56,307.81 95.16,307.81 95.76,307.81 96.35,307.81 96.95,307.81 97.55,307.81 98.14,307.81 98.74,307.81 99.34,307.81 99.94,307.81 100.53,307.81 101.13,307.81 101.73,307.81 102.32,307.81 102.92,307.81 103.52,307.81 104.11,307.81 104.71,307.81 105.31,307.81 105.91,307.81 106.50,307.81 107.10,307.81 107.70,307.81 108.29,307.81 108.89,307.81 109.49,307.81 110.09,307.81 110.68,307.81 111.28,307.81 111.88,307.81 112.47,307.81 113.07,307.81 113.67,307.81 114.27,307.81 114.86,307.81 115.46,307.81 116.06,307.81 116.65,307.81 117.25,307.81 117.85,307.81 118.44,307.81 119.04,307.81 119.64,307.81 120.24,307.81 120.83,307.81 121.43,307.81 122.03,307.81 122.62,307.81 123.22,307.81 123.82,307.81 124.42,307.81 125.01,307.81 125.61,307.81 126.21,307.81 126.80,307.81 127.40,307.81 128.00,307.81 128.60,307.81 129.19,307.81 129.79,307.81 130.39,307.81 130.98,307.81 131.58,307.81 132.18,307.81 132.77,307.81 133.37,307.81 133.97,307.81 134.57,307.81 135.16,307.81 135.76,307.81 136.36,307.81 136.95,307.81 137.55,307.81 138.15,307.81 138.75,307.81 139.34,307.81 139.94,307.81 140.54,307.81 141.13,307.81 141.73,307.81 142.33,307.81 142.93,307.81 143.52,307.81 144.12,307.81 144.72,307.81 145.31,307.81 145.91,307.81 146.51,307.81 147.10,307.81 147.70,307.81 148.30,307.81 148.90,307.81 149.49,307.81 150.09,307.81 150.69,307.81 151.28,307.81 151.88,307.81 152.48,307.81 153.08,307.81 153.67,307.81 154.27,307.81 154.87,307.81 155.46,307.81 156.06,307.81 156.66,307.81 157.26,307.81 157.85,307.81 158.45,307.81 159.05,307.81 159.64,307.81 160.24,307.81 160.84,307.81 161.44,307.81 162.03,307.81 162.63,307.81 163.23,307.81 163.82,307.81 164.42,307.81 165.02,307.81 165.61,307.81 166.21,307.81 166.81,307.81 167.41,307.81 168.00,307.81 168.60,307.81" fill="none" stroke="#ee1c24" stroke-width="2.3" stroke-linejoin="round" stroke-linecap="round"/>
<polyline points="25.30,312.69 25.90,311.66 26.49,310.78 27.09,310.02 27.69,309.36 28.29,308.80 28.88,308.30 29.48,307.87 30.08,307.49 30.67,307.16 31.27,306.86 31.87,306.60 32.47,306.36 33.06,306.15 33.66,305.96 34.26,305.79 34.85,305.64 35.45,305.51 36.05,305.39 36.64,305.30 37.24,305.22 37.84,305.16 38.44,305.11 39.03,305.08 39.63,305.07 40.23,305.08 40.82,305.09 41.42,305.12 42.02,305.15 42.62,305.19 43.21,305.24 43.81,305.28 44.41,305.33 45.00,305.38 45.60,305.42 46.20,305.47 46.80,305.50 47.39,305.54 47.99,305.57 48.59,305.59 49.18,305.61 49.78,305.63 50.38,305.64 50.97,305.65 51.57,305.66 52.17,305.67 52.77,305.67 53.36,305.68 53.96,305.68 54.56,305.68 55.15,305.68 55.75,305.68 56.35,305.68 56.95,305.68 57.54,305.68 58.14,305.68 58.74,305.68 59.33,305.68 59.93,305.68 60.53,305.68 61.12,305.68 61.72,305.68 62.32,305.68 62.92,305.68 63.51,305.68 64.11,305.68 64.71,305.68 65.30,305.68 65.90,305.68 66.50,305.68 67.10,305.68 67.69,305.68 68.29,305.68 68.89,305.68 69.48,305.68 70.08,305.68 70.68,305.68 71.28,305.68 71.87,305.68 72.47,305.68 73.07,305.68 73.66,305.68 74.26,305.68 74.86,305.68 75.45,305.68 76.05,305.68 76.65,305.68 77.25,305.68 77.84,305.68 78.44,305.68 79.04,305.68 79.63,305.68 80.23,305.68 80.83,305.68 81.43,305.68 82.02,305.68 82.62,305.68 83.22,305.68 83.81,305.68 84.41,305.68 85.01,305.68 85.61,305.68 86.20,305.68 86.80,305.68 87.40,305.68 87.99,305.68 88.59,305.68 89.19,305.68 89.78,305.68 90.38,305.68 90.98,305.68 91.58,305.68 92.17,305.68 92.77,305.68 93.37,305.68 93.96,305.68 94.56,305.68 95.16,305.68 95.76,305.68 96.35,305.68 96.95,305.68 97.55,305.68 98.14,305.68 98.74,305.68 99.34,305.68 99.94,305.68 100.53,305.68 101.13,305.68 101.73,305.68 102.32,305.68 102.92,305.68 103.52,305.68 104.11,305.68 104.71,305.68 105.31,305.68 105.91,305.68 106.50,305.68 107.10,305.68 107.70,305.68 108.29,305.68 108.89,305.68 109.49,305.68 110.09,305.68 110.68,305.68 111.28,305.68 111.88,305.68 112.47,305.68 113.07,305.68 113.67,305.68 114.27,305.68 114.86,305.68 115.46,305.68 116.06,305.68 116.65,305.68 117.25,305.68 117.85,305.68 118.44,305.68 119.04,305.68 119.64,305.68 120.24,305.68 120.83,305.68 121.43,305.68 122.03,305.68 122.62,305.68 123.22,305.68 123.82,305.68 124.42,305.68 125.01,305.68 125.61,305.68 126.21,305.68 126.80,305.68 127.40,305.68 128.00,305.68 128.60,305.68 129.19,305.68 129.79,305.68 130.39,305.68 130.98,305.68 131.58,305.68 132.18,305.68 132.77,305.68 133.37,305.68 133.97,305.68 134.57,305.68 135.16,305.68 135.76,305.68 136.36,305.68 136.95,305.68 137.55,305.68 138.15,305.68 138.75,305.68 139.34,305.68 139.94,305.68 140.54,305.68 141.13,305.68 141.73,305.68 142.33,305.68 142.93,305.68 143.52,305.68 144.12,305.68 144.72,305.68 145.31,305.68 145.91,305.68 146.51,305.68 147.10,305.68 147.70,305.68 148.30,305.68 148.90,305.68 149.49,305.68 150.09,305.68 150.69,305.68 151.28,305.68 151.88,305.68 152.48,305.68 153.08,305.68 153.67,305.68 154.27,305.68 154.87,305.68 155.46,305.68 156.06,305.68 156.66,305.68 157.26,305.68 157.85,305.68 158.45,305.68 159.05,305.68 159.64,305.68 160.24,305.68 160.84,305.68 161.44,305.68 162.03,305.68 162.63,305.68 163.23,305.68 163.82,305.68 164.42,305.68 165.02,305.68 165.61,305.68 166.21,305.68 166.81,305.68 167.41,305.68 168.00,305.68 168.60,305.68" fill="none" stroke="#2233ee" stroke-width="2.4" stroke-linejoin="round" stroke-linecap="round"/>
<polyline points="25.30,313.78 25.90,315.20 26.49,316.46 27.09,317.60 27.69,318.61 28.29,319.52 28.88,320.34 29.48,321.07 30.08,321.72 30.67,322.30 31.27,322.83 31.87,323.30 32.47,323.72 33.06,324.09 33.66,324.43 34.26,324.74 34.85,325.01 35.45,325.25 36.05,325.47 36.64,325.66 37.24,325.84 37.84,326.00 38.44,326.14 39.03,326.27 39.63,326.38 40.23,326.49 40.82,326.58 41.42,326.66 42.02,326.74 42.62,326.81 43.21,326.87 43.81,326.92 44.41,326.97 45.00,327.02 45.60,327.06 46.20,327.10 46.80,327.13 47.39,327.16 47.99,327.19 48.59,327.22 49.18,327.24 49.78,327.26 50.38,327.28 50.97,327.30 51.57,327.32 52.17,327.34 52.77,327.35 53.36,327.36 53.96,327.38 54.56,327.39 55.15,327.40 55.75,327.41 56.35,327.42 56.95,327.43 57.54,327.44 58.14,327.45 58.74,327.46 59.33,327.47 59.93,327.47 60.53,327.48 61.12,327.49 61.72,327.50 62.32,327.50 62.92,327.51 63.51,327.52 64.11,327.52 64.71,327.53 65.30,327.54 65.90,327.54 66.50,327.55 67.10,327.55 67.69,327.56 68.29,327.57 68.89,327.57 69.48,327.58 70.08,327.58 70.68,327.59 71.28,327.59 71.87,327.60 72.47,327.61 73.07,327.61 73.66,327.62 74.26,327.62 74.86,327.63 75.45,327.63 76.05,327.64 76.65,327.64 77.25,327.65 77.84,327.65 78.44,327.66 79.04,327.67 79.63,327.67 80.23,327.68 80.83,327.68 81.43,327.69 82.02,327.69 82.62,327.70 83.22,327.70 83.81,327.71 84.41,327.71 85.01,327.72 85.61,327.72 86.20,327.73 86.80,327.73 87.40,327.74 87.99,327.75 88.59,327.75 89.19,327.76 89.78,327.76 90.38,327.77 90.98,327.77 91.58,327.78 92.17,327.78 92.77,327.79 93.37,327.79 93.96,327.80 94.56,327.80 95.16,327.81 95.76,327.81 96.35,327.82 96.95,327.82 97.55,327.83 98.14,327.84 98.74,327.84 99.34,327.85 99.94,327.85 100.53,327.86 101.13,327.86 101.73,327.87 102.32,327.87 102.92,327.88 103.52,327.88 104.11,327.89 104.71,327.89 105.31,327.90 105.91,327.90 106.50,327.91 107.10,327.92 107.70,327.92 108.29,327.93 108.89,327.93 109.49,327.94 110.09,327.94 110.68,327.95 111.28,327.95 111.88,327.96 112.47,327.96 113.07,327.97 113.67,327.97 114.27,327.98 114.86,327.98 115.46,327.99 116.06,327.99 116.65,328.00 117.25,328.01 117.85,328.01 118.44,328.02 119.04,328.02 119.64,328.03 120.24,328.03 120.83,328.04 121.43,328.04 122.03,328.05 122.62,328.05 123.22,328.06 123.82,328.06 124.42,328.07 125.01,328.07 125.61,328.08 126.21,328.09 126.80,328.09 127.40,328.10 128.00,328.10 128.60,328.11 129.19,328.11 129.79,328.12 130.39,328.12 130.98,328.13 131.58,328.13 132.18,328.14 132.77,328.14 133.37,328.15 133.97,328.15 134.57,328.16 135.16,328.16 135.76,328.17 136.36,328.18 136.95,328.18 137.55,328.19 138.15,328.19 138.75,328.20 139.34,328.20 139.94,328.21 140.54,328.21 141.13,328.22 141.73,328.22 142.33,328.23 142.93,328.23 143.52,328.24 144.12,328.24 144.72,328.25 145.31,328.26 145.91,328.26 146.51,328.27 147.10,328.27 147.70,328.28 148.30,328.28 148.90,328.29 149.49,328.29 150.09,328.30 150.69,328.30 151.28,328.31 151.88,328.31 152.48,328.32 153.08,328.32 153.67,328.33 154.27,328.33 154.87,328.34 155.46,328.35 156.06,328.35 156.66,328.36 157.26,328.36 157.85,328.37 158.45,328.37 159.05,328.38 159.64,328.38 160.24,328.39 160.84,328.39 161.44,328.40 162.03,328.40 162.63,328.41 163.23,328.41 163.82,328.42 164.42,328.42 165.02,328.43 165.61,328.44 166.21,328.44 166.81,328.45 167.41,328.45 168.00,328.46 168.60,328.46" fill="none" stroke="#111111" stroke-width="2.0" stroke-linejoin="round" stroke-linecap="round"/>
<polyline points="25.30,313.78 25.90,314.87 26.49,315.68 27.09,316.29 27.69,316.76 28.29,317.12 28.88,317.41 29.48,317.65 30.08,317.84 30.67,318.01 31.27,318.15 31.87,318.28 32.47,318.40 33.06,318.51 33.66,318.61 34.26,318.71 34.85,318.80 35.45,318.89 36.05,318.97 36.64,319.06 37.24,319.14 37.84,319.22 38.44,319.30 39.03,319.38 39.63,319.45 40.23,319.53 40.82,319.60 41.42,319.67 42.02,319.74 42.62,319.81 43.21,319.87 43.81,319.94 44.41,320.01 45.00,320.07 45.60,320.13 46.20,320.19 46.80,320.25 47.39,320.31 47.99,320.37 48.59,320.43 49.18,320.48 49.78,320.54 50.38,320.59 50.97,320.65 51.57,320.70 52.17,320.75 52.77,320.80 53.36,320.85 53.96,320.90 54.56,320.95 55.15,320.99 55.75,321.04 56.35,321.09 56.95,321.13 57.54,321.17 58.14,321.22 58.74,321.26 59.33,321.30 59.93,321.34 60.53,321.38 61.12,321.42 61.72,321.46 62.32,321.50 62.92,321.53 63.51,321.57 64.11,321.61 64.71,321.64 65.30,321.68 65.90,321.71 66.50,321.74 67.10,321.78 67.69,321.81 68.29,321.84 68.89,321.87 69.48,321.90 70.08,321.93 70.68,321.96 71.28,321.99 71.87,322.02 72.47,322.05 73.07,322.08 73.66,322.10 74.26,322.13 74.86,322.16 75.45,322.18 76.05,322.21 76.65,322.23 77.25,322.26 77.84,322.28 78.44,322.30 79.04,322.33 79.63,322.35 80.23,322.37 80.83,322.39 81.43,322.41 82.02,322.44 82.62,322.46 83.22,322.48 83.81,322.50 84.41,322.52 85.01,322.54 85.61,322.55 86.20,322.57 86.80,322.59 87.40,322.61 87.99,322.63 88.59,322.64 89.19,322.66 89.78,322.68 90.38,322.69 90.98,322.71 91.58,322.73 92.17,322.74 92.77,322.76 93.37,322.77 93.96,322.79 94.56,322.80 95.16,322.81 95.76,322.83 96.35,322.84 96.95,322.86 97.55,322.87 98.14,322.88 98.74,322.89 99.34,322.91 99.94,322.92 100.53,322.93 101.13,322.94 101.73,322.96 102.32,322.97 102.92,322.98 103.52,322.99 104.11,323.00 104.71,323.01 105.31,323.02 105.91,323.03 106.50,323.04 107.10,323.05 107.70,323.06 108.29,323.07 108.89,323.08 109.49,323.09 110.09,323.10 110.68,323.11 111.28,323.12 111.88,323.13 112.47,323.13 113.07,323.14 113.67,323.15 114.27,323.16 114.86,323.17 115.46,323.17 116.06,323.18 116.65,323.19 117.25,323.20 117.85,323.20 118.44,323.21 119.04,323.22 119.64,323.22 120.24,323.23 120.83,323.24 121.43,323.24 122.03,323.25 122.62,323.26 123.22,323.26 123.82,323.27 124.42,323.27 125.01,323.28 125.61,323.29 126.21,323.29 126.80,323.30 127.40,323.30 128.00,323.31 128.60,323.31 129.19,323.32 129.79,323.32 130.39,323.33 130.98,323.33 131.58,323.34 132.18,323.34 132.77,323.35 133.37,323.35 133.97,323.36 134.57,323.36 135.16,323.37 135.76,323.37 136.36,323.37 136.95,323.38 137.55,323.38 138.15,323.39 138.75,323.39 139.34,323.39 139.94,323.40 140.54,323.40 141.13,323.40 141.73,323.41 142.33,323.41 142.93,323.41 143.52,323.42 144.12,323.42 144.72,323.42 145.31,323.43 145.91,323.43 146.51,323.43 147.10,323.44 147.70,323.44 148.30,323.44 148.90,323.45 149.49,323.45 150.09,323.45 150.69,323.45 151.28,323.46 151.88,323.46 152.48,323.46 153.08,323.46 153.67,323.47 154.27,323.47 154.87,323.47 155.46,323.47 156.06,323.48 156.66,323.48 157.26,323.48 157.85,323.48 158.45,323.48 159.05,323.49 159.64,323.49 160.24,323.49 160.84,323.49 161.44,323.49 162.03,323.50 162.63,323.50 163.23,323.50 163.82,323.50 164.42,323.50 165.02,323.51 165.61,323.51 166.21,323.51 166.81,323.51 167.41,323.51 168.00,323.51 168.60,323.52" fill="none" stroke="#2233ee" stroke-width="2.4" stroke-linejoin="round" stroke-linecap="round"/>
<polyline points="25.30,313.51 25.90,313.76 26.49,313.99 27.09,314.21 27.69,314.43 28.29,314.64 28.88,314.84 29.48,315.04 30.08,315.23 30.67,315.41 31.27,315.59 31.87,315.76 32.47,315.92 33.06,316.08 33.66,316.24 34.26,316.39 34.85,316.53 35.45,316.67 36.05,316.81 36.64,316.94 37.24,317.06 37.84,317.18 38.44,317.30 39.03,317.42 39.63,317.53 40.23,317.63 40.82,317.74 41.42,317.84 42.02,317.93 42.62,318.03 43.21,318.12 43.81,318.21 44.41,318.29 45.00,318.37 45.60,318.45 46.20,318.53 46.80,318.60 47.39,318.68 47.99,318.75 48.59,318.81 49.18,318.88 49.78,318.94 50.38,319.01 50.97,319.07 51.57,319.12 52.17,319.18 52.77,319.23 53.36,319.29 53.96,319.34 54.56,319.39 55.15,319.44 55.75,319.48 56.35,319.53 56.95,319.57 57.54,319.62 58.14,319.66 58.74,319.70 59.33,319.74 59.93,319.78 60.53,319.81 61.12,319.85 61.72,319.89 62.32,319.92 62.92,319.95 63.51,319.99 64.11,320.02 64.71,320.05 65.30,320.08 65.90,320.11 66.50,320.14 67.10,320.16 67.69,320.19 68.29,320.22 68.89,320.24 69.48,320.27 70.08,320.29 70.68,320.32 71.28,320.34 71.87,320.36 72.47,320.39 73.07,320.41 73.66,320.43 74.26,320.45 74.86,320.47 75.45,320.49 76.05,320.51 76.65,320.53 77.25,320.55 77.84,320.57 78.44,320.58 79.04,320.60 79.63,320.62 80.23,320.64 80.83,320.65 81.43,320.67 82.02,320.69 82.62,320.70 83.22,320.72 83.81,320.73 84.41,320.75 85.01,320.76 85.61,320.78 86.20,320.79 86.80,320.80 87.40,320.82 87.99,320.83 88.59,320.85 89.19,320.86 89.78,320.87 90.38,320.88 90.98,320.90 91.58,320.91 92.17,320.92 92.77,320.93 93.37,320.95 93.96,320.96 94.56,320.97 95.16,320.98 95.76,320.99 96.35,321.01 96.95,321.02 97.55,321.03 98.14,321.04 98.74,321.05 99.34,321.06 99.94,321.07 100.53,321.08 101.13,321.09 101.73,321.10 102.32,321.11 102.92,321.12 103.52,321.13 104.11,321.14 104.71,321.15 105.31,321.16 105.91,321.17 106.50,321.18 107.10,321.19 107.70,321.20 108.29,321.21 108.89,321.22 109.49,321.23 110.09,321.24 110.68,321.25 111.28,321.26 111.88,321.27 112.47,321.28 113.07,321.29 113.67,321.30 114.27,321.31 114.86,321.32 115.46,321.32 116.06,321.33 116.65,321.34 117.25,321.35 117.85,321.36 118.44,321.37 119.04,321.38 119.64,321.39 120.24,321.40 120.83,321.40 121.43,321.41 122.03,321.42 122.62,321.43 123.22,321.44 123.82,321.45 124.42,321.46 125.01,321.47 125.61,321.47 126.21,321.48 126.80,321.49 127.40,321.50 128.00,321.51 128.60,321.52 129.19,321.52 129.79,321.53 130.39,321.54 130.98,321.55 131.58,321.56 132.18,321.57 132.77,321.57 133.37,321.58 133.97,321.59 134.57,321.60 135.16,321.61 135.76,321.62 136.36,321.62 136.95,321.63 137.55,321.64 138.15,321.65 138.75,321.66 139.34,321.67 139.94,321.67 140.54,321.68 141.13,321.69 141.73,321.70 142.33,321.71 142.93,321.72 143.52,321.72 144.12,321.73 144.72,321.74 145.31,321.75 145.91,321.76 146.51,321.76 147.10,321.77 147.70,321.78 148.30,321.79 148.90,321.80 149.49,321.80 150.09,321.81 150.69,321.82 151.28,321.83 151.88,321.84 152.48,321.85 153.08,321.85 153.67,321.86 154.27,321.87 154.87,321.88 155.46,321.89 156.06,321.89 156.66,321.90 157.26,321.91 157.85,321.92 158.45,321.93 159.05,321.93 159.64,321.94 160.24,321.95 160.84,321.96 161.44,321.97 162.03,321.97 162.63,321.98 163.23,321.99 163.82,322.00 164.42,322.01 165.02,322.01 165.61,322.02 166.21,322.03 166.81,322.04 167.41,322.05 168.00,322.05 168.60,322.06" fill="none" stroke="#ee1c24" stroke-width="2.3" stroke-linejoin="round" stroke-linecap="round"/>
<rect x="25.30" y="271.30" width="143.30" height="106.20" fill="none" stroke="#5a5a5a" stroke-width="1" />
<line x1="23.30" y1="377.50" x2="25.30" y2="377.50" stroke="#444" stroke-width="0.8" />
<text x="23.50" y="379.70" font-size="6.3" fill="#333" text-anchor="end" font-weight="bold" stroke="#333" stroke-width="0.15" >0.0</text>
<line x1="23.30" y1="364.23" x2="25.30" y2="364.23" stroke="#444" stroke-width="0.8" />
<text x="23.50" y="366.43" font-size="6.3" fill="#333" text-anchor="end" font-weight="bold" stroke="#333" stroke-width="0.15" >0.5</text>
<line x1="23.30" y1="350.95" x2="25.30" y2="350.95" stroke="#444" stroke-width="0.8" />
<text x="23.50" y="353.15" font-size="6.3" fill="#333" text-anchor="end" font-weight="bold" stroke="#333" stroke-width="0.15" >1.0</text>
<line x1="23.30" y1="337.68" x2="25.30" y2="337.68" stroke="#444" stroke-width="0.8" />
<text x="23.50" y="339.88" font-size="6.3" fill="#333" text-anchor="end" font-weight="bold" stroke="#333" stroke-width="0.15" >1.5</text>
<line x1="23.30" y1="324.40" x2="25.30" y2="324.40" stroke="#444" stroke-width="0.8" />
<text x="23.50" y="326.60" font-size="6.3" fill="#333" text-anchor="end" font-weight="bold" stroke="#333" stroke-width="0.15" >2.0</text>
<line x1="23.30" y1="311.12" x2="25.30" y2="311.12" stroke="#444" stroke-width="0.8" />
<text x="23.50" y="313.32" font-size="6.3" fill="#333" text-anchor="end" font-weight="bold" stroke="#333" stroke-width="0.15" >2.5</text>
<line x1="23.30" y1="297.85" x2="25.30" y2="297.85" stroke="#444" stroke-width="0.8" />
<text x="23.50" y="300.05" font-size="6.3" fill="#333" text-anchor="end" font-weight="bold" stroke="#333" stroke-width="0.15" >3.0</text>
<line x1="23.30" y1="284.57" x2="25.30" y2="284.57" stroke="#444" stroke-width="0.8" />
<text x="23.50" y="286.77" font-size="6.3" fill="#333" text-anchor="end" font-weight="bold" stroke="#333" stroke-width="0.15" >3.5</text>
<line x1="23.30" y1="271.30" x2="25.30" y2="271.30" stroke="#444" stroke-width="0.8" />
<text x="23.50" y="273.50" font-size="6.3" fill="#333" text-anchor="end" font-weight="bold" stroke="#333" stroke-width="0.15" >4.0</text>
<line x1="25.30" y1="377.50" x2="25.30" y2="379.50" stroke="#444" stroke-width="0.8" />
<text x="25.30" y="385.40" font-size="6.4" fill="#333" text-anchor="middle" font-weight="bold" stroke="#333" stroke-width="0.15" >0</text>
<line x1="37.24" y1="377.50" x2="37.24" y2="378.70" stroke="#444" stroke-width="0.6" />
<line x1="49.18" y1="377.50" x2="49.18" y2="379.50" stroke="#444" stroke-width="0.8" />
<text x="49.18" y="385.40" font-size="6.4" fill="#333" text-anchor="middle" font-weight="bold" stroke="#333" stroke-width="0.15" >20</text>
<line x1="61.12" y1="377.50" x2="61.12" y2="378.70" stroke="#444" stroke-width="0.6" />
<line x1="73.07" y1="377.50" x2="73.07" y2="379.50" stroke="#444" stroke-width="0.8" />
<text x="73.07" y="385.40" font-size="6.4" fill="#333" text-anchor="middle" font-weight="bold" stroke="#333" stroke-width="0.15" >40</text>
<line x1="85.01" y1="377.50" x2="85.01" y2="378.70" stroke="#444" stroke-width="0.6" />
<line x1="96.95" y1="377.50" x2="96.95" y2="379.50" stroke="#444" stroke-width="0.8" />
<text x="96.95" y="385.40" font-size="6.4" fill="#333" text-anchor="middle" font-weight="bold" stroke="#333" stroke-width="0.15" >60</text>
<line x1="108.89" y1="377.50" x2="108.89" y2="378.70" stroke="#444" stroke-width="0.6" />
<line x1="120.83" y1="377.50" x2="120.83" y2="379.50" stroke="#444" stroke-width="0.8" />
<text x="120.83" y="385.40" font-size="6.4" fill="#333" text-anchor="middle" font-weight="bold" stroke="#333" stroke-width="0.15" >80</text>
<line x1="132.77" y1="377.50" x2="132.77" y2="378.70" stroke="#444" stroke-width="0.6" />
<line x1="144.72" y1="377.50" x2="144.72" y2="379.50" stroke="#444" stroke-width="0.8" />
<text x="144.72" y="385.40" font-size="6.4" fill="#333" text-anchor="middle" font-weight="bold" stroke="#333" stroke-width="0.15" >100</text>
<line x1="156.66" y1="377.50" x2="156.66" y2="378.70" stroke="#444" stroke-width="0.6" />
<line x1="168.60" y1="377.50" x2="168.60" y2="379.50" stroke="#444" stroke-width="0.8" />
<text x="168.60" y="385.40" font-size="6.4" fill="#333" text-anchor="middle" font-weight="bold" stroke="#333" stroke-width="0.15" >120</text>
<text x="90.60" y="392.80" font-size="7.5" fill="#222" text-anchor="middle" font-weight="bold" textLength="37.8" lengthAdjust="spacingAndGlyphs" stroke="#222" stroke-width="0.15" >Time (min)</text>
<text x="11.40" y="323.00" font-size="7.6" fill="#222" text-anchor="middle" font-weight="bold" textLength="52" lengthAdjust="spacingAndGlyphs" transform="rotate(-90 11.40 323.00)" stroke="#222" stroke-width="0.15" >Cell Voltage (V)</text>
<text x="88.90" y="282.20" font-size="6.4" fill="#222" font-weight="bold" textLength="72.4" lengthAdjust="spacingAndGlyphs" stroke="#222" stroke-width="0.15" >Current density: 0.1 mA·cm</text>
<text x="162.30" y="279.20" font-size="4.4" fill="#222" font-weight="bold" stroke="#222" stroke-width="0.15" >-2</text>
<circle cx="125.50" cy="340.20" r="1.00" fill="#111111" stroke="none" stroke-width="0.5" />
<text x="133.00" y="342.30" font-size="5.7" fill="#222" font-weight="bold" stroke="#222" stroke-width="0.15" >N-MWCNTs</text>
<circle cx="125.50" cy="347.30" r="1.00" fill="#ee1c24" stroke="none" stroke-width="0.5" />
<text x="133.00" y="349.40" font-size="5.7" fill="#222" font-weight="bold" stroke="#222" stroke-width="0.15" >N-SWCNH</text>
<circle cx="125.50" cy="353.90" r="1.00" fill="#2233ee" stroke="none" stroke-width="0.5" />
<text x="133.00" y="356.00" font-size="5.7" fill="#222" font-weight="bold" stroke="#222" stroke-width="0.15" >AuNPs</text>
<polyline points="207.80,304.58 208.50,319.40 209.84,322.86 211.87,325.82 216.53,327.30 236.90,328.79 266.00,330.27 280.03,332.74 288.17,334.71 293.70,339.65 297.78,344.59 302.08,348.05 307.38,350.52 315.70,357.44 324.20,363.37 330.78,367.32" fill="none" stroke="#111111" stroke-width="2.9" stroke-linejoin="round" stroke-linecap="round"/>
<polyline points="207.80,307.05 208.27,324.34 209.26,327.80 213.62,328.29 236.90,329.03 260.18,330.02 280.03,333.23 291.03,335.95 295.68,338.67 299.17,342.62 302.08,346.57 304.00,350.27 305.58,354.97 306.68,359.91 307.21,364.85 307.38,368.80" fill="none" stroke="#2233ee" stroke-width="2.8" stroke-linejoin="round" stroke-linecap="round"/>
<polyline points="207.80,297.17 208.15,309.52 208.67,321.87 210.13,325.57 213.62,326.02 236.90,326.56 266.00,327.80 280.03,329.28 307.38,331.75 326.59,334.22 333.51,336.20 336.13,337.68 337.59,339.65 339.22,342.12 340.38,345.09 341.08,349.04 341.49,352.50 341.66,357.93" fill="none" stroke="#ee1c24" stroke-width="2.6" stroke-linejoin="round" stroke-linecap="round"/>
<circle cx="341.72" cy="368.80" r="0.95" fill="#ee1c24" stroke="none" stroke-width="0.5" />
<circle cx="341.72" cy="366.33" r="0.95" fill="#ee1c24" stroke="none" stroke-width="0.5" />
<circle cx="341.72" cy="363.86" r="0.95" fill="#ee1c24" stroke="none" stroke-width="0.5" />
<circle cx="341.72" cy="361.39" r="0.95" fill="#ee1c24" stroke="none" stroke-width="0.5" />
<rect x="207.90" y="270.00" width="146.10" height="108.60" fill="none" stroke="#5a5a5a" stroke-width="1" />
<line x1="205.90" y1="270.00" x2="207.90" y2="270.00" stroke="#444" stroke-width="0.8" />
<text x="205.40" y="272.10" font-size="5.9" fill="#333" text-anchor="end" font-weight="bold" stroke="#333" stroke-width="0.15" >3.0</text>
<line x1="206.70" y1="282.35" x2="207.90" y2="282.35" stroke="#444" stroke-width="0.6" />
<line x1="205.90" y1="294.70" x2="207.90" y2="294.70" stroke="#444" stroke-width="0.8" />
<text x="205.40" y="296.80" font-size="5.9" fill="#333" text-anchor="end" font-weight="bold" stroke="#333" stroke-width="0.15" >2.5</text>
<line x1="206.70" y1="307.05" x2="207.90" y2="307.05" stroke="#444" stroke-width="0.6" />
<line x1="205.90" y1="319.40" x2="207.90" y2="319.40" stroke="#444" stroke-width="0.8" />
<text x="205.40" y="321.50" font-size="5.9" fill="#333" text-anchor="end" font-weight="bold" stroke="#333" stroke-width="0.15" >2.0</text>
<line x1="206.70" y1="331.75" x2="207.90" y2="331.75" stroke="#444" stroke-width="0.6" />
<line x1="205.90" y1="344.10" x2="207.90" y2="344.10" stroke="#444" stroke-width="0.8" />
<text x="205.40" y="346.20" font-size="5.9" fill="#333" text-anchor="end" font-weight="bold" stroke="#333" stroke-width="0.15" >1.5</text>
<line x1="206.70" y1="356.45" x2="207.90" y2="356.45" stroke="#444" stroke-width="0.6" />
<line x1="205.90" y1="368.80" x2="207.90" y2="368.80" stroke="#444" stroke-width="0.8" />
<text x="205.40" y="370.90" font-size="5.9" fill="#333" text-anchor="end" font-weight="bold" stroke="#333" stroke-width="0.15" >1.0</text>
<line x1="207.80" y1="378.60" x2="207.80" y2="380.60" stroke="#444" stroke-width="0.8" />
<text x="207.80" y="385.50" font-size="6.7" fill="#333" text-anchor="middle" font-weight="bold" textLength="3.3" lengthAdjust="spacingAndGlyphs" stroke="#333" stroke-width="0.15" >0</text>
<line x1="222.35" y1="378.60" x2="222.35" y2="379.80" stroke="#444" stroke-width="0.6" />
<line x1="236.90" y1="378.60" x2="236.90" y2="380.60" stroke="#444" stroke-width="0.8" />
<text x="236.90" y="385.50" font-size="6.7" fill="#333" text-anchor="middle" font-weight="bold" textLength="9.9" lengthAdjust="spacingAndGlyphs" stroke="#333" stroke-width="0.15" >500</text>
<line x1="251.45" y1="378.60" x2="251.45" y2="379.80" stroke="#444" stroke-width="0.6" />
<line x1="266.00" y1="378.60" x2="266.00" y2="380.60" stroke="#444" stroke-width="0.8" />
<text x="266.00" y="385.50" font-size="6.7" fill="#333" text-anchor="middle" font-weight="bold" textLength="13.2" lengthAdjust="spacingAndGlyphs" stroke="#333" stroke-width="0.15" >1000</text>
<line x1="280.55" y1="378.60" x2="280.55" y2="379.80" stroke="#444" stroke-width="0.6" />
<line x1="295.10" y1="378.60" x2="295.10" y2="380.60" stroke="#444" stroke-width="0.8" />
<text x="295.10" y="385.50" font-size="6.7" fill="#333" text-anchor="middle" font-weight="bold" textLength="13.2" lengthAdjust="spacingAndGlyphs" stroke="#333" stroke-width="0.15" >1500</text>
<line x1="309.65" y1="378.60" x2="309.65" y2="379.80" stroke="#444" stroke-width="0.6" />
<line x1="324.20" y1="378.60" x2="324.20" y2="380.60" stroke="#444" stroke-width="0.8" />
<text x="324.20" y="385.50" font-size="6.7" fill="#333" text-anchor="middle" font-weight="bold" textLength="13.2" lengthAdjust="spacingAndGlyphs" stroke="#333" stroke-width="0.15" >2000</text>
<line x1="338.75" y1="378.60" x2="338.75" y2="379.80" stroke="#444" stroke-width="0.6" />
<line x1="353.30" y1="378.60" x2="353.30" y2="380.60" stroke="#444" stroke-width="0.8" />
<text x="353.30" y="385.50" font-size="6.7" fill="#333" text-anchor="middle" font-weight="bold" textLength="13.2" lengthAdjust="spacingAndGlyphs" stroke="#333" stroke-width="0.15" >2500</text>
<text x="280.60" y="396.50" font-size="8.2" fill="#222" text-anchor="middle" font-weight="bold" stroke="#222" stroke-width="0.15" >Capacity (mAh· g<tspan font-size="5" dy="-3">-1</tspan><tspan dy="3">)</tspan></text>
<text x="193.10" y="320.00" font-size="8.2" fill="#222" text-anchor="middle" font-weight="bold" textLength="60" lengthAdjust="spacingAndGlyphs" transform="rotate(-90 193.10 320.00)" stroke="#222" stroke-width="0.15" >Cell Voltage (V)</text>
<text x="271.70" y="282.60" font-size="6.4" fill="#222" font-weight="bold" textLength="76.9" lengthAdjust="spacingAndGlyphs" stroke="#222" stroke-width="0.15" >Current density: 0.2 mA · cm</text>
<text x="349.00" y="279.80" font-size="4.4" fill="#222" font-weight="bold" stroke="#222" stroke-width="0.15" >-2</text>
<circle cx="312.30" cy="298.50" r="1.00" fill="#111111" stroke="none" stroke-width="0.5" />
<text x="319.90" y="300.60" font-size="5.7" fill="#222" font-weight="bold" stroke="#222" stroke-width="0.15" >N-MWCNTs</text>
<circle cx="312.30" cy="305.90" r="1.00" fill="#ee1c24" stroke="none" stroke-width="0.5" />
<text x="319.90" y="308.00" font-size="5.7" fill="#222" font-weight="bold" stroke="#222" stroke-width="0.15" >N-SWCNH</text>
<circle cx="312.30" cy="312.90" r="1.00" fill="#2233ee" stroke="none" stroke-width="0.5" />
<text x="319.90" y="315.00" font-size="5.7" fill="#222" font-weight="bold" stroke="#222" stroke-width="0.15" >AuNPs</text>
<polyline points="393.50,314.92 393.68,317.79 394.27,321.22 394.87,323.50 395.47,325.01 396.06,326.02 396.66,326.69 397.26,327.13 397.86,327.42 398.45,327.62 399.05,327.75 399.65,327.83 400.24,327.89 400.84,327.93 401.44,327.96 402.04,327.97 402.63,327.98 403.23,327.99 403.83,328.00 404.42,328.00 405.02,328.00 405.62,328.00 406.22,328.00 406.81,328.00 407.41,328.00 408.01,328.00 408.61,328.00 409.20,328.01 409.80,328.01 410.40,328.01 410.99,328.01 411.59,328.01 411.59,334.28 412.19,335.44 412.80,336.13 413.40,336.54 414.00,336.78 414.61,336.93 415.21,337.02 415.81,337.07 416.42,337.10 417.02,337.12 417.62,337.13 418.23,337.14 418.83,337.14 419.43,337.14 420.03,337.14 420.64,337.15 421.24,337.15 421.84,337.15 422.45,337.15 423.05,337.15 423.65,337.15 424.26,337.15 424.86,337.15 425.46,337.15 426.06,337.15 426.67,337.15 427.27,337.15 427.87,337.15 428.48,337.15 429.08,337.15 429.68,337.15 429.68,342.88 430.29,344.04 430.89,344.73 431.49,345.14 432.10,345.39 432.70,345.53 433.30,345.62 433.90,345.67 434.51,345.71 435.11,345.72 435.71,345.73 436.32,345.74 436.92,345.75 437.52,345.75 438.13,345.75 438.73,345.75 439.33,345.75 439.94,345.75 440.54,345.75 441.14,345.75 441.74,345.75 442.35,345.75 442.95,345.75 443.55,345.75 444.16,345.75 444.76,345.75 445.36,345.75 445.97,345.75 446.57,345.75 447.17,345.75 447.77,345.75 447.77,348.62 448.38,349.49 448.98,350.00 449.58,350.31 450.19,350.50 450.79,350.61 451.39,350.67 452.00,350.71 452.60,350.74 453.20,350.75 453.81,350.76 454.41,350.76 455.01,350.77 455.61,350.77 456.22,350.77 456.82,350.77 457.42,350.77 458.03,350.77 458.63,350.77 459.23,350.77 459.84,350.77 460.44,350.77 461.04,350.77 461.65,350.77 462.25,350.77 462.85,350.77 463.45,350.77 464.06,350.77 464.66,350.77 465.26,350.77 465.87,350.77 466.04,329.26 466.45,326.39 467.09,325.40 467.73,324.67 468.38,324.01 469.02,323.39 469.66,322.80 470.30,322.24 470.94,321.69 471.59,321.16 472.23,320.65 472.87,320.14 473.51,319.64 474.15,319.16 474.80,318.68 475.44,318.21 476.08,317.74 476.72,317.29 477.36,316.83 478.01,316.39 478.65,315.94 479.29,315.51 479.93,315.07 480.57,314.64 481.22,314.22 481.86,313.80 482.50,313.38 483.14,312.96 483.78,312.55 484.42,312.14 485.07,311.74 485.71,311.33 486.29,292.33 486.88,290.90 487.42,291.38 487.97,291.73 488.51,291.99 489.05,292.18 489.60,292.31 490.14,292.42 490.69,292.49 491.23,292.54 491.78,292.58 492.32,292.61 492.87,292.63 493.41,292.65 493.96,292.66 494.50,292.67 495.05,292.68 495.59,292.68 496.14,292.68 496.68,292.69 497.23,292.69 497.77,292.69 498.31,292.69 498.86,292.69 499.40,292.69 499.95,292.69 500.49,292.69 501.04,292.69 501.58,292.69 502.13,292.69 502.67,292.69 503.22,292.69 503.22,289.82 503.78,290.12 504.35,290.34 504.91,290.49 505.47,290.60 506.04,290.69 506.60,290.74 507.17,290.79 507.73,290.82 508.29,290.84 508.86,290.86 509.42,290.87 509.99,290.88 510.55,290.88 511.11,290.89 511.68,290.89 512.24,290.89 512.81,290.90 513.37,290.90 513.94,290.90 514.50,290.90 515.06,290.90 515.63,290.90 516.19,290.90 516.76,290.90 517.32,290.90 517.88,290.90 518.45,290.90 519.01,290.90 519.58,290.90 520.14,290.90 520.14,286.24 520.78,286.35 521.43,286.43 522.07,286.48 522.71,286.52 523.35,286.54 523.99,286.56 524.63,286.57 525.28,286.58 525.92,286.59 526.56,286.59 527.20,286.59 527.84,286.59 528.49,286.60 529.13,286.60 529.77,286.60 530.41,286.60 531.05,286.60 531.70,286.60 532.34,286.60 532.98,286.60 533.62,286.60 534.26,286.60 534.91,286.60 535.55,286.60 536.19,286.60 536.83,286.60 537.47,286.60 538.12,286.60 538.76,286.60 539.40,286.60" fill="none" stroke="#111111" stroke-width="2.4" stroke-linejoin="round" stroke-linecap="round"/>
<polyline points="393.50,310.62 393.79,314.92 395.57,315.39 397.35,315.85 399.13,316.32 400.91,316.78 402.69,317.25 404.47,317.72 406.25,318.18 408.03,318.65 409.81,319.11 411.59,319.58 411.59,335.00 412.19,335.72 412.80,336.15 413.40,336.41 414.00,336.56 414.61,336.65 415.21,336.71 415.81,336.74 416.42,336.76 417.02,336.77 417.62,336.78 418.23,336.78 418.83,336.78 419.43,336.79 420.03,336.79 420.64,336.79 421.24,336.79 421.84,336.79 422.45,336.79 423.05,336.79 423.65,336.79 424.26,336.79 424.86,336.79 425.46,336.79 426.06,336.79 426.67,336.79 427.27,336.79 427.87,336.79 428.48,336.79 429.08,336.79 429.68,336.79 429.68,343.60 430.29,344.18 430.89,344.52 431.49,344.73 432.10,344.85 432.70,344.93 433.30,344.97 433.90,345.00 434.51,345.01 435.11,345.02 435.71,345.03 436.32,345.03 436.92,345.03 437.52,345.03 438.13,345.03 438.73,345.03 439.33,345.03 439.94,345.03 440.54,345.03 441.14,345.03 441.74,345.03 442.35,345.03 442.95,345.03 443.55,345.03 444.16,345.03 444.76,345.03 445.36,345.03 445.97,345.03 446.57,345.03 447.17,345.03 447.77,345.03 447.77,350.41 448.38,350.85 448.98,351.10 449.58,351.26 450.19,351.35 450.79,351.41 451.39,351.44 452.00,351.46 452.60,351.47 453.20,351.48 453.81,351.48 454.41,351.48 455.01,351.48 455.61,351.49 456.22,351.49 456.82,351.49 457.42,351.49 458.03,351.49 458.63,351.49 459.23,351.49 459.84,351.49 460.44,351.49 461.04,351.49 461.65,351.49 462.25,351.49 462.85,351.49 463.45,351.49 464.06,351.49 464.66,351.49 465.26,351.49 465.87,351.49 466.04,331.05 466.45,328.18 467.09,327.17 467.73,326.42 468.38,325.74 469.02,325.11 469.66,324.51 470.30,323.93 470.94,323.37 471.59,322.83 472.23,322.30 472.87,321.78 473.51,321.28 474.15,320.78 474.80,320.29 475.44,319.81 476.08,319.33 476.72,318.86 477.36,318.40 478.01,317.94 478.65,317.49 479.29,317.04 479.93,316.60 480.57,316.16 481.22,315.72 481.86,315.29 482.50,314.86 483.14,314.44 483.78,314.02 484.42,313.60 485.07,313.18 485.71,312.77 486.29,295.92 486.88,295.56 487.42,295.94 487.97,296.23 488.51,296.43 489.05,296.58 489.60,296.69 490.14,296.77 490.69,296.83 491.23,296.88 491.78,296.91 492.32,296.93 492.87,296.95 493.41,296.96 493.96,296.97 494.50,296.98 495.05,296.98 495.59,296.99 496.14,296.99 496.68,296.99 497.23,296.99 497.77,296.99 498.31,296.99 498.86,296.99 499.40,296.99 499.95,296.99 500.49,296.99 501.04,296.99 501.58,296.99 502.13,296.99 502.67,296.99 503.22,296.99 503.22,292.69 503.78,292.89 504.35,293.03 504.91,293.14 505.47,293.21 506.04,293.27 506.60,293.31 507.17,293.33 507.73,293.36 508.29,293.37 508.86,293.38 509.42,293.39 509.99,293.39 510.55,293.40 511.11,293.40 511.68,293.40 512.24,293.41 512.81,293.41 513.37,293.41 513.94,293.41 514.50,293.41 515.06,293.41 515.63,293.41 516.19,293.41 516.76,293.41 517.32,293.41 517.88,293.41 518.45,293.41 519.01,293.41 519.58,293.41 520.14,293.41 520.14,290.54 520.78,290.60 521.43,290.64 522.07,290.66 522.71,290.68 523.35,290.69 523.99,290.70 524.63,290.71 525.28,290.71 525.92,290.71 526.56,290.72 527.20,290.72 527.84,290.72 528.49,290.72 529.13,290.72 529.77,290.72 530.41,290.72 531.05,290.72 531.70,290.72 532.34,290.72 532.98,290.72 533.62,290.72 534.26,290.72 534.91,290.72 535.55,290.72 536.19,290.72 536.83,290.72 537.47,290.72 538.12,290.72 538.76,290.72 539.40,290.72" fill="none" stroke="#ee1c24" stroke-width="2.4" stroke-linejoin="round" stroke-linecap="round"/>
<polyline points="393.50,308.47 393.79,313.84 395.57,314.31 397.35,314.78 399.13,315.24 400.91,315.71 402.69,316.17 404.47,316.64 406.25,317.11 408.03,317.57 409.81,318.04 411.59,318.50 411.59,332.84 412.19,333.21 412.80,333.42 413.40,333.55 414.00,333.63 414.61,333.67 415.21,333.70 415.81,333.72 416.42,333.73 417.02,333.73 417.62,333.74 418.23,333.74 418.83,333.74 419.43,333.74 420.03,333.74 420.64,333.74 421.24,333.74 421.84,333.74 422.45,333.74 423.05,333.74 423.65,333.74 424.26,333.74 424.86,333.74 425.46,333.74 426.06,333.74 426.67,333.74 427.27,333.74 427.87,333.74 428.48,333.74 429.08,333.74 429.68,333.74 429.68,338.94 430.29,339.23 430.89,339.40 431.49,339.50 432.10,339.57 432.70,339.60 433.30,339.62 433.90,339.64 434.51,339.65 435.11,339.65 435.71,339.65 436.32,339.65 436.92,339.66 437.52,339.66 438.13,339.66 438.73,339.66 439.33,339.66 439.94,339.66 440.54,339.66 441.14,339.66 441.74,339.66 442.35,339.66 442.95,339.66 443.55,339.66 444.16,339.66 444.76,339.66 445.36,339.66 445.97,339.66 446.57,339.66 447.17,339.66 447.77,339.66 447.77,344.32 448.38,344.46 448.98,344.55 449.58,344.60 450.19,344.63 450.79,344.65 451.39,344.66 452.00,344.67 452.60,344.67 453.20,344.67 453.81,344.67 454.41,344.67 455.01,344.67 455.61,344.68 456.22,344.68 456.82,344.68 457.42,344.68 458.03,344.68 458.63,344.68 459.23,344.68 459.84,344.68 460.44,344.68 461.04,344.68 461.65,344.68 462.25,344.68 462.85,344.68 463.45,344.68 464.06,344.68 464.66,344.68 465.26,344.68 465.87,344.68 465.98,345.39 466.10,327.47 466.45,324.96 467.09,323.90 467.73,323.17 468.38,322.54 469.02,321.95 469.66,321.40 470.30,320.88 470.94,320.38 471.59,319.90 472.23,319.44 472.87,318.98 473.51,318.54 474.15,318.11 474.80,317.68 475.44,317.27 476.08,316.86 476.72,316.46 477.36,316.06 478.01,315.67 478.65,315.29 479.29,314.91 479.93,314.53 480.57,314.16 481.22,313.80 481.86,313.43 482.50,313.08 483.14,312.72 483.78,312.37 484.42,312.02 485.07,311.68 485.71,311.33 486.29,291.62 486.88,291.62 487.42,291.91 487.97,292.12 488.51,292.27 489.05,292.38 489.60,292.47 490.14,292.53 490.69,292.57 491.23,292.60 491.78,292.63 492.32,292.65 492.87,292.66 493.41,292.67 493.96,292.67 494.50,292.68 495.05,292.68 495.59,292.69 496.14,292.69 496.68,292.69 497.23,292.69 497.77,292.69 498.31,292.69 498.86,292.69 499.40,292.69 499.95,292.69 500.49,292.69 501.04,292.69 501.58,292.69 502.13,292.69 502.67,292.69 503.22,292.69 503.22,290.54 503.78,290.64 504.35,290.71 504.91,290.76 505.47,290.80 506.04,290.83 506.60,290.85 507.17,290.86 507.73,290.87 508.29,290.88 508.86,290.89 509.42,290.89 509.99,290.89 510.55,290.90 511.11,290.90 511.68,290.90 512.24,290.90 512.81,290.90 513.37,290.90 513.94,290.90 514.50,290.90 515.06,290.90 515.63,290.90 516.19,290.90 516.76,290.90 517.32,290.90 517.88,290.90 518.45,290.90 519.01,290.90 519.58,290.90 520.14,290.90 520.14,289.11 520.78,289.11 521.43,289.11 522.07,289.11 522.71,289.11 523.35,289.11 523.99,289.11 524.63,289.11 525.28,289.11 525.92,289.11 526.56,289.11 527.20,289.11 527.84,289.11 528.49,289.11 529.13,289.11 529.77,289.11 530.41,289.11 531.05,289.11 531.70,289.11 532.34,289.11 532.98,289.11 533.62,289.11 534.26,289.11 534.91,289.11 535.55,289.11 536.19,289.11 536.83,289.11 537.47,289.11 538.12,289.11 538.76,289.11 539.40,289.11" fill="none" stroke="#2233ee" stroke-width="1.9" stroke-linejoin="round" stroke-linecap="round"/>
<rect x="393.50" y="271.90" width="145.90" height="108.30" fill="none" stroke="#5a5a5a" stroke-width="1" />
<line x1="391.50" y1="271.90" x2="393.50" y2="271.90" stroke="#444" stroke-width="0.8" />
<text x="391.20" y="274.00" font-size="6.0" fill="#333" text-anchor="end" font-weight="bold" stroke="#333" stroke-width="0.15" >3.5</text>
<line x1="391.50" y1="289.82" x2="393.50" y2="289.82" stroke="#444" stroke-width="0.8" />
<text x="391.20" y="291.93" font-size="6.0" fill="#333" text-anchor="end" font-weight="bold" stroke="#333" stroke-width="0.15" >3.0</text>
<line x1="391.50" y1="307.75" x2="393.50" y2="307.75" stroke="#444" stroke-width="0.8" />
<text x="391.20" y="309.85" font-size="6.0" fill="#333" text-anchor="end" font-weight="bold" stroke="#333" stroke-width="0.15" >2.5</text>
<line x1="391.50" y1="325.67" x2="393.50" y2="325.67" stroke="#444" stroke-width="0.8" />
<text x="391.20" y="327.77" font-size="6.0" fill="#333" text-anchor="end" font-weight="bold" stroke="#333" stroke-width="0.15" >2.0</text>
<line x1="391.50" y1="343.60" x2="393.50" y2="343.60" stroke="#444" stroke-width="0.8" />
<text x="391.20" y="345.70" font-size="6.0" fill="#333" text-anchor="end" font-weight="bold" stroke="#333" stroke-width="0.15" >1.5</text>
<line x1="391.50" y1="361.52" x2="393.50" y2="361.52" stroke="#444" stroke-width="0.8" />
<text x="391.20" y="363.62" font-size="6.0" fill="#333" text-anchor="end" font-weight="bold" stroke="#333" stroke-width="0.15" >1.0</text>
<line x1="391.50" y1="379.45" x2="393.50" y2="379.45" stroke="#444" stroke-width="0.8" />
<text x="391.20" y="381.55" font-size="6.0" fill="#333" text-anchor="end" font-weight="bold" stroke="#333" stroke-width="0.15" >0.5</text>
<line x1="393.50" y1="380.20" x2="393.50" y2="382.20" stroke="#444" stroke-width="0.8" />
<text x="393.50" y="387.20" font-size="6.4" fill="#333" text-anchor="middle" font-weight="bold" stroke="#333" stroke-width="0.15" >0</text>
<line x1="422.68" y1="380.20" x2="422.68" y2="382.20" stroke="#444" stroke-width="0.8" />
<text x="422.68" y="387.20" font-size="6.4" fill="#333" text-anchor="middle" font-weight="bold" stroke="#333" stroke-width="0.15" >50</text>
<line x1="451.86" y1="380.20" x2="451.86" y2="382.20" stroke="#444" stroke-width="0.8" />
<text x="451.86" y="387.20" font-size="6.4" fill="#333" text-anchor="middle" font-weight="bold" stroke="#333" stroke-width="0.15" >100</text>
<line x1="481.04" y1="380.20" x2="481.04" y2="382.20" stroke="#444" stroke-width="0.8" />
<text x="481.04" y="387.20" font-size="6.4" fill="#333" text-anchor="middle" font-weight="bold" stroke="#333" stroke-width="0.15" >150</text>
<line x1="510.22" y1="380.20" x2="510.22" y2="382.20" stroke="#444" stroke-width="0.8" />
<text x="510.22" y="387.20" font-size="6.4" fill="#333" text-anchor="middle" font-weight="bold" stroke="#333" stroke-width="0.15" >200</text>
<line x1="539.40" y1="380.20" x2="539.40" y2="382.20" stroke="#444" stroke-width="0.8" />
<text x="539.40" y="387.20" font-size="6.4" fill="#333" text-anchor="middle" font-weight="bold" stroke="#333" stroke-width="0.15" >250</text>
<text x="466.50" y="394.60" font-size="7.5" fill="#222" text-anchor="middle" font-weight="bold" textLength="38.2" lengthAdjust="spacingAndGlyphs" stroke="#222" stroke-width="0.15" >Time (min)</text>
<text x="380.10" y="323.00" font-size="8.2" fill="#222" text-anchor="middle" font-weight="bold" textLength="58.6" lengthAdjust="spacingAndGlyphs" transform="rotate(-90 380.10 323.00)" stroke="#222" stroke-width="0.15" >Cell Voltage (V)</text>
<text x="396.00" y="315.60" font-size="4.8" fill="#222" font-weight="bold" stroke="#222" stroke-width="0.15" >0.1 mA·cm<tspan font-size="4.2" dy="-2.6">-2</tspan></text>
<text x="413.90" y="330.60" font-size="4.8" fill="#222" font-weight="bold" stroke="#222" stroke-width="0.15" >0.5 mA·cm<tspan font-size="4.2" dy="-2.6">-2</tspan></text>
<text x="430.90" y="337.20" font-size="4.8" fill="#222" font-weight="bold" stroke="#222" stroke-width="0.15" >1.0 mA·cm<tspan font-size="4.2" dy="-2.6">-2</tspan></text>
<text x="446.80" y="360.20" font-size="4.8" fill="#222" font-weight="bold" stroke="#222" stroke-width="0.15" >1.5 mA·cm<tspan font-size="4.2" dy="-2.6">-2</tspan></text>
<text x="475.00" y="288.00" font-size="4.8" fill="#222" font-weight="bold" stroke="#222" stroke-width="0.15" >0.5 mA·cm<tspan font-size="4.2" dy="-2.6">-2</tspan></text>
<text x="510.90" y="281.70" font-size="4.8" fill="#222" font-weight="bold" stroke="#222" stroke-width="0.15" >1.5 mA·cm<tspan font-size="4.2" dy="-2.6">-2</tspan></text>
<text x="506.30" y="301.60" font-size="4.8" fill="#222" font-weight="bold" stroke="#222" stroke-width="0.15" >1.0 mA·cm<tspan font-size="4.2" dy="-2.6">-2</tspan></text>
<text x="457.50" y="325.00" font-size="4.8" fill="#222" font-weight="bold" transform="rotate(-48 457.50 325.00)" stroke="#222" stroke-width="0.15" >0.1 mA·cm<tspan font-size="4.2" dy="-2.6">-2</tspan></text>
<text x="408.20" y="351.60" font-size="6.0" fill="#333" font-weight="bold" transform="rotate(26 408.20 351.60)" stroke="#333" stroke-width="0.15" >Discharge</text>
<line x1="406.10" y1="343.70" x2="437.00" y2="359.90" stroke="#333" stroke-width="0.6" />
<polygon points="438.80,360.90 435.20,360.20 436.60,357.90" fill="#333" stroke="none" stroke-width="0.5" />
<text x="505.30" y="320.40" font-size="5.9" fill="#333" font-weight="bold" transform="rotate(-21.8 505.30 320.40)" stroke="#333" stroke-width="0.15" >Charge</text>
<line x1="495.30" y1="319.40" x2="525.50" y2="307.30" stroke="#333" stroke-width="0.6" />
<polygon points="527.60,306.50 524.20,306.00 525.20,308.70" fill="#333" stroke="none" stroke-width="0.5" />
<line x1="493.40" y1="343.80" x2="504.50" y2="343.80" stroke="#111111" stroke-width="0.8" />
<circle cx="498.50" cy="343.80" r="1.10" fill="#111111" stroke="none" stroke-width="0.5" />
<text x="506.00" y="345.90" font-size="5.7" fill="#222" font-weight="bold" stroke="#222" stroke-width="0.15" >N-MWCNTs</text>
<line x1="493.40" y1="350.90" x2="504.50" y2="350.90" stroke="#ee1c24" stroke-width="0.8" />
<circle cx="498.50" cy="350.90" r="1.10" fill="#ee1c24" stroke="none" stroke-width="0.5" />
<text x="506.00" y="353.00" font-size="5.7" fill="#222" font-weight="bold" stroke="#222" stroke-width="0.15" >N-SWCNH</text>
<line x1="493.40" y1="358.40" x2="504.50" y2="358.40" stroke="#2233ee" stroke-width="0.8" />
<circle cx="498.50" cy="358.40" r="1.10" fill="#2233ee" stroke="none" stroke-width="0.5" />
<text x="506.00" y="360.50" font-size="5.7" fill="#222" font-weight="bold" stroke="#222" stroke-width="0.15" >AuNPs</text>
</svg>
</body></html>
